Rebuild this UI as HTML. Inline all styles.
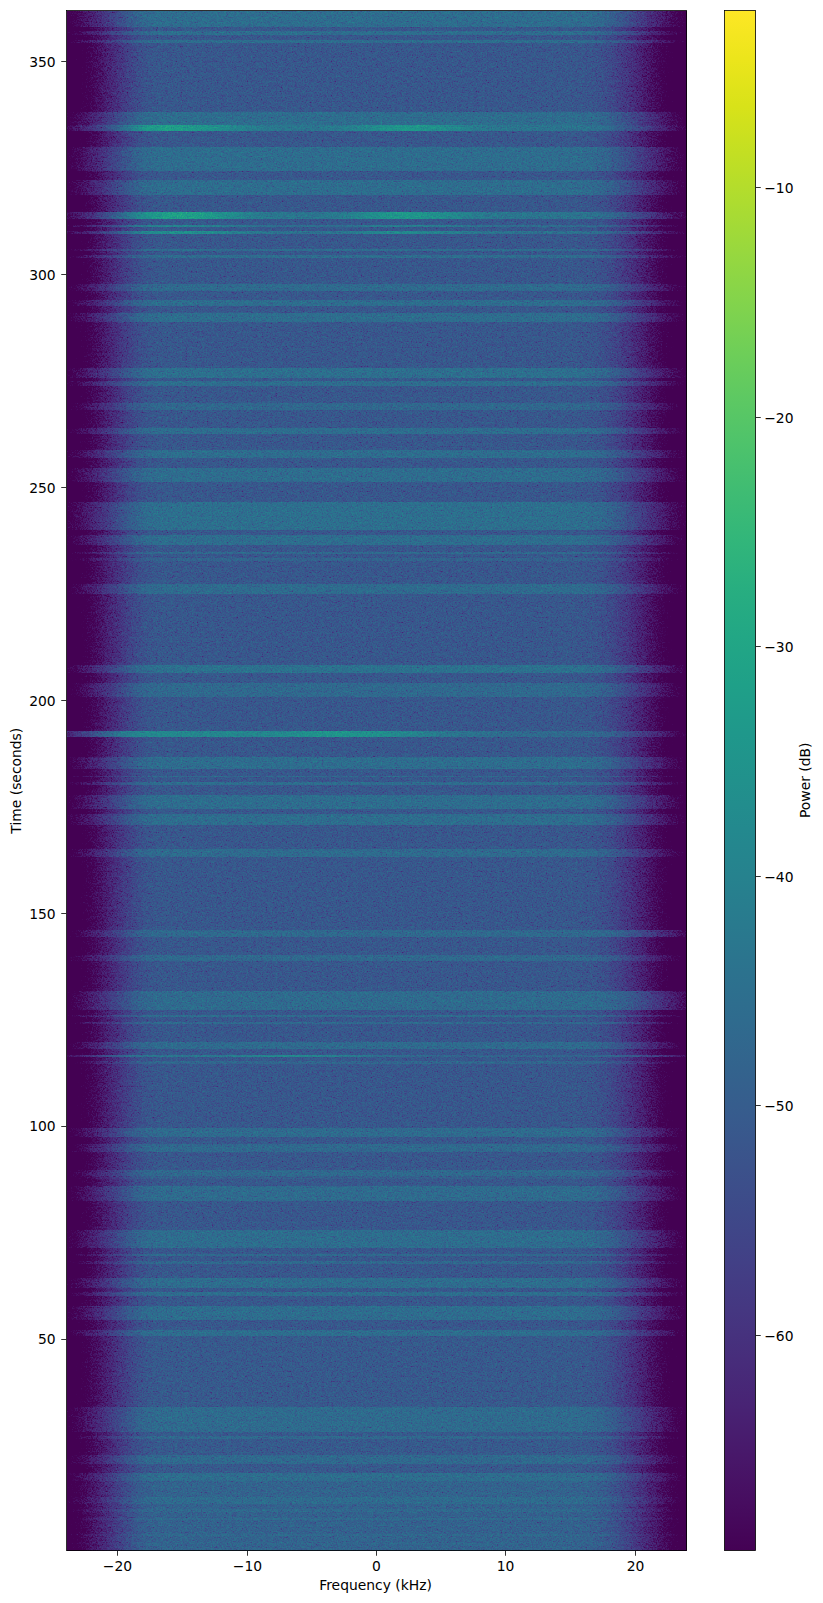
<!DOCTYPE html>
<html><head><meta charset="utf-8"><title>Spectrogram</title>
<style>html,body{margin:0;padding:0;background:#fff}svg{display:block}text{font-family:"DejaVu Sans","Liberation Sans",sans-serif;font-size:13.89px;fill:#000}</style>
</head><body>
<svg width="823" height="1603" viewBox="0 0 823 1603">
<defs>
<linearGradient id="g0" gradientUnits="userSpaceOnUse" x1="66.5" x2="686.5" y1="0" y2="0"><stop offset="0.0000" stop-color="#414141"/><stop offset="0.0065" stop-color="#464646"/><stop offset="0.0129" stop-color="#4b4b4b"/><stop offset="0.0194" stop-color="#505050"/><stop offset="0.0258" stop-color="#555555"/><stop offset="0.0323" stop-color="#5a5a5a"/><stop offset="0.0387" stop-color="#5f5f5f"/><stop offset="0.0452" stop-color="#646464"/><stop offset="0.0516" stop-color="#696969"/><stop offset="0.0581" stop-color="#6e6e6e"/><stop offset="0.0645" stop-color="#747474"/><stop offset="0.0710" stop-color="#797979"/><stop offset="0.0774" stop-color="#7e7e7e"/><stop offset="0.0839" stop-color="#838383"/><stop offset="0.0903" stop-color="#888888"/><stop offset="0.0968" stop-color="#8d8d8d"/><stop offset="0.1032" stop-color="#919191"/><stop offset="0.1097" stop-color="#969696"/><stop offset="0.1161" stop-color="#999999"/><stop offset="0.1226" stop-color="#9c9c9c"/><stop offset="0.1290" stop-color="#9f9f9f"/><stop offset="0.1355" stop-color="#a0a0a0"/><stop offset="0.1419" stop-color="#a1a1a1"/><stop offset="0.1484" stop-color="#a2a2a2"/><stop offset="0.1548" stop-color="#a2a2a2"/><stop offset="0.1613" stop-color="#a2a2a2"/><stop offset="0.1677" stop-color="#a2a2a2"/><stop offset="0.1742" stop-color="#a2a2a2"/><stop offset="0.1806" stop-color="#a2a2a2"/><stop offset="0.1871" stop-color="#a2a2a2"/><stop offset="0.1935" stop-color="#a2a2a2"/><stop offset="0.2000" stop-color="#a2a2a2"/><stop offset="0.2065" stop-color="#a2a2a2"/><stop offset="0.2129" stop-color="#a2a2a2"/><stop offset="0.2194" stop-color="#a2a2a2"/><stop offset="0.2258" stop-color="#a2a2a2"/><stop offset="0.2323" stop-color="#a2a2a2"/><stop offset="0.2387" stop-color="#a2a2a2"/><stop offset="0.2452" stop-color="#a2a2a2"/><stop offset="0.2516" stop-color="#a2a2a2"/><stop offset="0.2581" stop-color="#a2a2a2"/><stop offset="0.2645" stop-color="#a2a2a2"/><stop offset="0.2710" stop-color="#a2a2a2"/><stop offset="0.2774" stop-color="#a2a2a2"/><stop offset="0.2839" stop-color="#a2a2a2"/><stop offset="0.2903" stop-color="#a2a2a2"/><stop offset="0.2968" stop-color="#a2a2a2"/><stop offset="0.3032" stop-color="#a2a2a2"/><stop offset="0.3097" stop-color="#a2a2a2"/><stop offset="0.3161" stop-color="#a2a2a2"/><stop offset="0.3226" stop-color="#a2a2a2"/><stop offset="0.3290" stop-color="#a2a2a2"/><stop offset="0.3355" stop-color="#a2a2a2"/><stop offset="0.3419" stop-color="#a2a2a2"/><stop offset="0.3484" stop-color="#a2a2a2"/><stop offset="0.3548" stop-color="#a2a2a2"/><stop offset="0.3613" stop-color="#a2a2a2"/><stop offset="0.3677" stop-color="#a2a2a2"/><stop offset="0.3742" stop-color="#a2a2a2"/><stop offset="0.3806" stop-color="#a2a2a2"/><stop offset="0.3871" stop-color="#a2a2a2"/><stop offset="0.3935" stop-color="#a2a2a2"/><stop offset="0.4000" stop-color="#a2a2a2"/><stop offset="0.4065" stop-color="#a2a2a2"/><stop offset="0.4129" stop-color="#a2a2a2"/><stop offset="0.4194" stop-color="#a2a2a2"/><stop offset="0.4258" stop-color="#a2a2a2"/><stop offset="0.4323" stop-color="#a2a2a2"/><stop offset="0.4387" stop-color="#a2a2a2"/><stop offset="0.4452" stop-color="#a2a2a2"/><stop offset="0.4516" stop-color="#a2a2a2"/><stop offset="0.4581" stop-color="#a2a2a2"/><stop offset="0.4645" stop-color="#a2a2a2"/><stop offset="0.4710" stop-color="#a2a2a2"/><stop offset="0.4774" stop-color="#a2a2a2"/><stop offset="0.4839" stop-color="#a2a2a2"/><stop offset="0.4903" stop-color="#a2a2a2"/><stop offset="0.4968" stop-color="#a2a2a2"/><stop offset="0.5032" stop-color="#a2a2a2"/><stop offset="0.5097" stop-color="#a2a2a2"/><stop offset="0.5161" stop-color="#a2a2a2"/><stop offset="0.5226" stop-color="#a2a2a2"/><stop offset="0.5290" stop-color="#a2a2a2"/><stop offset="0.5355" stop-color="#a2a2a2"/><stop offset="0.5419" stop-color="#a2a2a2"/><stop offset="0.5484" stop-color="#a2a2a2"/><stop offset="0.5548" stop-color="#a2a2a2"/><stop offset="0.5613" stop-color="#a2a2a2"/><stop offset="0.5677" stop-color="#a2a2a2"/><stop offset="0.5742" stop-color="#a2a2a2"/><stop offset="0.5806" stop-color="#a2a2a2"/><stop offset="0.5871" stop-color="#a2a2a2"/><stop offset="0.5935" stop-color="#a2a2a2"/><stop offset="0.6000" stop-color="#a2a2a2"/><stop offset="0.6065" stop-color="#a2a2a2"/><stop offset="0.6129" stop-color="#a2a2a2"/><stop offset="0.6194" stop-color="#a2a2a2"/><stop offset="0.6258" stop-color="#a2a2a2"/><stop offset="0.6323" stop-color="#a2a2a2"/><stop offset="0.6387" stop-color="#a2a2a2"/><stop offset="0.6452" stop-color="#a2a2a2"/><stop offset="0.6516" stop-color="#a2a2a2"/><stop offset="0.6581" stop-color="#a2a2a2"/><stop offset="0.6645" stop-color="#a2a2a2"/><stop offset="0.6710" stop-color="#a2a2a2"/><stop offset="0.6774" stop-color="#a2a2a2"/><stop offset="0.6839" stop-color="#a2a2a2"/><stop offset="0.6903" stop-color="#a2a2a2"/><stop offset="0.6968" stop-color="#a2a2a2"/><stop offset="0.7032" stop-color="#a2a2a2"/><stop offset="0.7097" stop-color="#a2a2a2"/><stop offset="0.7161" stop-color="#a2a2a2"/><stop offset="0.7226" stop-color="#a2a2a2"/><stop offset="0.7290" stop-color="#a2a2a2"/><stop offset="0.7355" stop-color="#a2a2a2"/><stop offset="0.7419" stop-color="#a2a2a2"/><stop offset="0.7484" stop-color="#a2a2a2"/><stop offset="0.7548" stop-color="#a2a2a2"/><stop offset="0.7613" stop-color="#a2a2a2"/><stop offset="0.7677" stop-color="#a2a2a2"/><stop offset="0.7742" stop-color="#a2a2a2"/><stop offset="0.7806" stop-color="#a2a2a2"/><stop offset="0.7871" stop-color="#a2a2a2"/><stop offset="0.7935" stop-color="#a2a2a2"/><stop offset="0.8000" stop-color="#a2a2a2"/><stop offset="0.8065" stop-color="#a2a2a2"/><stop offset="0.8129" stop-color="#a2a2a2"/><stop offset="0.8194" stop-color="#a2a2a2"/><stop offset="0.8258" stop-color="#a1a1a1"/><stop offset="0.8323" stop-color="#a1a1a1"/><stop offset="0.8387" stop-color="#a0a0a0"/><stop offset="0.8452" stop-color="#a0a0a0"/><stop offset="0.8516" stop-color="#9f9f9f"/><stop offset="0.8581" stop-color="#9d9d9d"/><stop offset="0.8645" stop-color="#9b9b9b"/><stop offset="0.8710" stop-color="#999999"/><stop offset="0.8774" stop-color="#969696"/><stop offset="0.8839" stop-color="#939393"/><stop offset="0.8903" stop-color="#8f8f8f"/><stop offset="0.8968" stop-color="#8b8b8b"/><stop offset="0.9032" stop-color="#878787"/><stop offset="0.9097" stop-color="#838383"/><stop offset="0.9161" stop-color="#7e7e7e"/><stop offset="0.9226" stop-color="#797979"/><stop offset="0.9290" stop-color="#757575"/><stop offset="0.9355" stop-color="#707070"/><stop offset="0.9419" stop-color="#6b6b6b"/><stop offset="0.9484" stop-color="#676767"/><stop offset="0.9548" stop-color="#626262"/><stop offset="0.9613" stop-color="#5d5d5d"/><stop offset="0.9677" stop-color="#585858"/><stop offset="0.9742" stop-color="#535353"/><stop offset="0.9806" stop-color="#4f4f4f"/><stop offset="0.9871" stop-color="#4a4a4a"/><stop offset="0.9935" stop-color="#454545"/><stop offset="1.0000" stop-color="#404040"/></linearGradient>
<linearGradient id="g1" gradientUnits="userSpaceOnUse" x1="66.5" x2="686.5" y1="0" y2="0"><stop offset="0.0000" stop-color="#424242"/><stop offset="0.0065" stop-color="#474747"/><stop offset="0.0129" stop-color="#4d4d4d"/><stop offset="0.0194" stop-color="#525252"/><stop offset="0.0258" stop-color="#575757"/><stop offset="0.0323" stop-color="#5c5c5c"/><stop offset="0.0387" stop-color="#616161"/><stop offset="0.0452" stop-color="#666666"/><stop offset="0.0516" stop-color="#6b6b6b"/><stop offset="0.0581" stop-color="#707070"/><stop offset="0.0645" stop-color="#757575"/><stop offset="0.0710" stop-color="#7a7a7a"/><stop offset="0.0774" stop-color="#808080"/><stop offset="0.0839" stop-color="#858585"/><stop offset="0.0903" stop-color="#8a8a8a"/><stop offset="0.0968" stop-color="#8e8e8e"/><stop offset="0.1032" stop-color="#939393"/><stop offset="0.1097" stop-color="#979797"/><stop offset="0.1161" stop-color="#9b9b9b"/><stop offset="0.1226" stop-color="#9e9e9e"/><stop offset="0.1290" stop-color="#a1a1a1"/><stop offset="0.1355" stop-color="#a2a2a2"/><stop offset="0.1419" stop-color="#a3a3a3"/><stop offset="0.1484" stop-color="#a3a3a3"/><stop offset="0.1548" stop-color="#a4a4a4"/><stop offset="0.1613" stop-color="#a4a4a4"/><stop offset="0.1677" stop-color="#a4a4a4"/><stop offset="0.1742" stop-color="#a4a4a4"/><stop offset="0.1806" stop-color="#a4a4a4"/><stop offset="0.1871" stop-color="#a4a4a4"/><stop offset="0.1935" stop-color="#a4a4a4"/><stop offset="0.2000" stop-color="#a4a4a4"/><stop offset="0.2065" stop-color="#a4a4a4"/><stop offset="0.2129" stop-color="#a4a4a4"/><stop offset="0.2194" stop-color="#a4a4a4"/><stop offset="0.2258" stop-color="#a4a4a4"/><stop offset="0.2323" stop-color="#a4a4a4"/><stop offset="0.2387" stop-color="#a4a4a4"/><stop offset="0.2452" stop-color="#a4a4a4"/><stop offset="0.2516" stop-color="#a4a4a4"/><stop offset="0.2581" stop-color="#a4a4a4"/><stop offset="0.2645" stop-color="#a4a4a4"/><stop offset="0.2710" stop-color="#a4a4a4"/><stop offset="0.2774" stop-color="#a4a4a4"/><stop offset="0.2839" stop-color="#a4a4a4"/><stop offset="0.2903" stop-color="#a4a4a4"/><stop offset="0.2968" stop-color="#a4a4a4"/><stop offset="0.3032" stop-color="#a4a4a4"/><stop offset="0.3097" stop-color="#a4a4a4"/><stop offset="0.3161" stop-color="#a4a4a4"/><stop offset="0.3226" stop-color="#a4a4a4"/><stop offset="0.3290" stop-color="#a4a4a4"/><stop offset="0.3355" stop-color="#a4a4a4"/><stop offset="0.3419" stop-color="#a4a4a4"/><stop offset="0.3484" stop-color="#a4a4a4"/><stop offset="0.3548" stop-color="#a4a4a4"/><stop offset="0.3613" stop-color="#a4a4a4"/><stop offset="0.3677" stop-color="#a4a4a4"/><stop offset="0.3742" stop-color="#a4a4a4"/><stop offset="0.3806" stop-color="#a4a4a4"/><stop offset="0.3871" stop-color="#a4a4a4"/><stop offset="0.3935" stop-color="#a4a4a4"/><stop offset="0.4000" stop-color="#a4a4a4"/><stop offset="0.4065" stop-color="#a4a4a4"/><stop offset="0.4129" stop-color="#a4a4a4"/><stop offset="0.4194" stop-color="#a4a4a4"/><stop offset="0.4258" stop-color="#a4a4a4"/><stop offset="0.4323" stop-color="#a4a4a4"/><stop offset="0.4387" stop-color="#a4a4a4"/><stop offset="0.4452" stop-color="#a4a4a4"/><stop offset="0.4516" stop-color="#a4a4a4"/><stop offset="0.4581" stop-color="#a4a4a4"/><stop offset="0.4645" stop-color="#a4a4a4"/><stop offset="0.4710" stop-color="#a4a4a4"/><stop offset="0.4774" stop-color="#a4a4a4"/><stop offset="0.4839" stop-color="#a4a4a4"/><stop offset="0.4903" stop-color="#a4a4a4"/><stop offset="0.4968" stop-color="#a4a4a4"/><stop offset="0.5032" stop-color="#a4a4a4"/><stop offset="0.5097" stop-color="#a4a4a4"/><stop offset="0.5161" stop-color="#a4a4a4"/><stop offset="0.5226" stop-color="#a4a4a4"/><stop offset="0.5290" stop-color="#a4a4a4"/><stop offset="0.5355" stop-color="#a4a4a4"/><stop offset="0.5419" stop-color="#a4a4a4"/><stop offset="0.5484" stop-color="#a4a4a4"/><stop offset="0.5548" stop-color="#a4a4a4"/><stop offset="0.5613" stop-color="#a4a4a4"/><stop offset="0.5677" stop-color="#a4a4a4"/><stop offset="0.5742" stop-color="#a4a4a4"/><stop offset="0.5806" stop-color="#a4a4a4"/><stop offset="0.5871" stop-color="#a4a4a4"/><stop offset="0.5935" stop-color="#a4a4a4"/><stop offset="0.6000" stop-color="#a4a4a4"/><stop offset="0.6065" stop-color="#a4a4a4"/><stop offset="0.6129" stop-color="#a4a4a4"/><stop offset="0.6194" stop-color="#a4a4a4"/><stop offset="0.6258" stop-color="#a4a4a4"/><stop offset="0.6323" stop-color="#a4a4a4"/><stop offset="0.6387" stop-color="#a4a4a4"/><stop offset="0.6452" stop-color="#a4a4a4"/><stop offset="0.6516" stop-color="#a4a4a4"/><stop offset="0.6581" stop-color="#a4a4a4"/><stop offset="0.6645" stop-color="#a4a4a4"/><stop offset="0.6710" stop-color="#a4a4a4"/><stop offset="0.6774" stop-color="#a4a4a4"/><stop offset="0.6839" stop-color="#a4a4a4"/><stop offset="0.6903" stop-color="#a4a4a4"/><stop offset="0.6968" stop-color="#a4a4a4"/><stop offset="0.7032" stop-color="#a4a4a4"/><stop offset="0.7097" stop-color="#a4a4a4"/><stop offset="0.7161" stop-color="#a4a4a4"/><stop offset="0.7226" stop-color="#a4a4a4"/><stop offset="0.7290" stop-color="#a4a4a4"/><stop offset="0.7355" stop-color="#a4a4a4"/><stop offset="0.7419" stop-color="#a4a4a4"/><stop offset="0.7484" stop-color="#a4a4a4"/><stop offset="0.7548" stop-color="#a4a4a4"/><stop offset="0.7613" stop-color="#a4a4a4"/><stop offset="0.7677" stop-color="#a4a4a4"/><stop offset="0.7742" stop-color="#a4a4a4"/><stop offset="0.7806" stop-color="#a4a4a4"/><stop offset="0.7871" stop-color="#a4a4a4"/><stop offset="0.7935" stop-color="#a4a4a4"/><stop offset="0.8000" stop-color="#a4a4a4"/><stop offset="0.8065" stop-color="#a4a4a4"/><stop offset="0.8129" stop-color="#a4a4a4"/><stop offset="0.8194" stop-color="#a3a3a3"/><stop offset="0.8258" stop-color="#a3a3a3"/><stop offset="0.8323" stop-color="#a3a3a3"/><stop offset="0.8387" stop-color="#a2a2a2"/><stop offset="0.8452" stop-color="#a1a1a1"/><stop offset="0.8516" stop-color="#a0a0a0"/><stop offset="0.8581" stop-color="#9f9f9f"/><stop offset="0.8645" stop-color="#9d9d9d"/><stop offset="0.8710" stop-color="#9b9b9b"/><stop offset="0.8774" stop-color="#989898"/><stop offset="0.8839" stop-color="#959595"/><stop offset="0.8903" stop-color="#919191"/><stop offset="0.8968" stop-color="#8d8d8d"/><stop offset="0.9032" stop-color="#898989"/><stop offset="0.9097" stop-color="#848484"/><stop offset="0.9161" stop-color="#808080"/><stop offset="0.9226" stop-color="#7b7b7b"/><stop offset="0.9290" stop-color="#777777"/><stop offset="0.9355" stop-color="#727272"/><stop offset="0.9419" stop-color="#6d6d6d"/><stop offset="0.9484" stop-color="#686868"/><stop offset="0.9548" stop-color="#646464"/><stop offset="0.9613" stop-color="#5f5f5f"/><stop offset="0.9677" stop-color="#5a5a5a"/><stop offset="0.9742" stop-color="#555555"/><stop offset="0.9806" stop-color="#505050"/><stop offset="0.9871" stop-color="#4c4c4c"/><stop offset="0.9935" stop-color="#474747"/><stop offset="1.0000" stop-color="#424242"/></linearGradient>
<linearGradient id="g2" gradientUnits="userSpaceOnUse" x1="66.5" x2="686.5" y1="0" y2="0"><stop offset="0.0000" stop-color="#555555"/><stop offset="0.0065" stop-color="#5a5a5a"/><stop offset="0.0129" stop-color="#5f5f5f"/><stop offset="0.0194" stop-color="#646464"/><stop offset="0.0258" stop-color="#696969"/><stop offset="0.0323" stop-color="#6e6e6e"/><stop offset="0.0387" stop-color="#737373"/><stop offset="0.0452" stop-color="#787878"/><stop offset="0.0516" stop-color="#7d7d7d"/><stop offset="0.0581" stop-color="#828282"/><stop offset="0.0645" stop-color="#888888"/><stop offset="0.0710" stop-color="#8d8d8d"/><stop offset="0.0774" stop-color="#929292"/><stop offset="0.0839" stop-color="#979797"/><stop offset="0.0903" stop-color="#9c9c9c"/><stop offset="0.0968" stop-color="#a1a1a1"/><stop offset="0.1032" stop-color="#a5a5a5"/><stop offset="0.1097" stop-color="#aaaaaa"/><stop offset="0.1161" stop-color="#adadad"/><stop offset="0.1226" stop-color="#b1b1b1"/><stop offset="0.1290" stop-color="#b3b3b3"/><stop offset="0.1355" stop-color="#b4b4b4"/><stop offset="0.1419" stop-color="#b5b5b5"/><stop offset="0.1484" stop-color="#b6b6b6"/><stop offset="0.1548" stop-color="#b6b6b6"/><stop offset="0.1613" stop-color="#b6b6b6"/><stop offset="0.1677" stop-color="#b6b6b6"/><stop offset="0.1742" stop-color="#b6b6b6"/><stop offset="0.1806" stop-color="#b6b6b6"/><stop offset="0.1871" stop-color="#b6b6b6"/><stop offset="0.1935" stop-color="#b6b6b6"/><stop offset="0.2000" stop-color="#b6b6b6"/><stop offset="0.2065" stop-color="#b6b6b6"/><stop offset="0.2129" stop-color="#b6b6b6"/><stop offset="0.2194" stop-color="#b6b6b6"/><stop offset="0.2258" stop-color="#b6b6b6"/><stop offset="0.2323" stop-color="#b6b6b6"/><stop offset="0.2387" stop-color="#b6b6b6"/><stop offset="0.2452" stop-color="#b6b6b6"/><stop offset="0.2516" stop-color="#b6b6b6"/><stop offset="0.2581" stop-color="#b6b6b6"/><stop offset="0.2645" stop-color="#b6b6b6"/><stop offset="0.2710" stop-color="#b6b6b6"/><stop offset="0.2774" stop-color="#b6b6b6"/><stop offset="0.2839" stop-color="#b6b6b6"/><stop offset="0.2903" stop-color="#b6b6b6"/><stop offset="0.2968" stop-color="#b6b6b6"/><stop offset="0.3032" stop-color="#b6b6b6"/><stop offset="0.3097" stop-color="#b6b6b6"/><stop offset="0.3161" stop-color="#b6b6b6"/><stop offset="0.3226" stop-color="#b6b6b6"/><stop offset="0.3290" stop-color="#b6b6b6"/><stop offset="0.3355" stop-color="#b6b6b6"/><stop offset="0.3419" stop-color="#b6b6b6"/><stop offset="0.3484" stop-color="#b6b6b6"/><stop offset="0.3548" stop-color="#b6b6b6"/><stop offset="0.3613" stop-color="#b6b6b6"/><stop offset="0.3677" stop-color="#b6b6b6"/><stop offset="0.3742" stop-color="#b6b6b6"/><stop offset="0.3806" stop-color="#b6b6b6"/><stop offset="0.3871" stop-color="#b6b6b6"/><stop offset="0.3935" stop-color="#b6b6b6"/><stop offset="0.4000" stop-color="#b6b6b6"/><stop offset="0.4065" stop-color="#b6b6b6"/><stop offset="0.4129" stop-color="#b6b6b6"/><stop offset="0.4194" stop-color="#b6b6b6"/><stop offset="0.4258" stop-color="#b6b6b6"/><stop offset="0.4323" stop-color="#b6b6b6"/><stop offset="0.4387" stop-color="#b6b6b6"/><stop offset="0.4452" stop-color="#b6b6b6"/><stop offset="0.4516" stop-color="#b6b6b6"/><stop offset="0.4581" stop-color="#b6b6b6"/><stop offset="0.4645" stop-color="#b6b6b6"/><stop offset="0.4710" stop-color="#b6b6b6"/><stop offset="0.4774" stop-color="#b6b6b6"/><stop offset="0.4839" stop-color="#b6b6b6"/><stop offset="0.4903" stop-color="#b6b6b6"/><stop offset="0.4968" stop-color="#b6b6b6"/><stop offset="0.5032" stop-color="#b6b6b6"/><stop offset="0.5097" stop-color="#b6b6b6"/><stop offset="0.5161" stop-color="#b6b6b6"/><stop offset="0.5226" stop-color="#b6b6b6"/><stop offset="0.5290" stop-color="#b6b6b6"/><stop offset="0.5355" stop-color="#b6b6b6"/><stop offset="0.5419" stop-color="#b6b6b6"/><stop offset="0.5484" stop-color="#b6b6b6"/><stop offset="0.5548" stop-color="#b6b6b6"/><stop offset="0.5613" stop-color="#b6b6b6"/><stop offset="0.5677" stop-color="#b6b6b6"/><stop offset="0.5742" stop-color="#b6b6b6"/><stop offset="0.5806" stop-color="#b6b6b6"/><stop offset="0.5871" stop-color="#b6b6b6"/><stop offset="0.5935" stop-color="#b6b6b6"/><stop offset="0.6000" stop-color="#b6b6b6"/><stop offset="0.6065" stop-color="#b6b6b6"/><stop offset="0.6129" stop-color="#b6b6b6"/><stop offset="0.6194" stop-color="#b6b6b6"/><stop offset="0.6258" stop-color="#b6b6b6"/><stop offset="0.6323" stop-color="#b6b6b6"/><stop offset="0.6387" stop-color="#b6b6b6"/><stop offset="0.6452" stop-color="#b6b6b6"/><stop offset="0.6516" stop-color="#b6b6b6"/><stop offset="0.6581" stop-color="#b6b6b6"/><stop offset="0.6645" stop-color="#b6b6b6"/><stop offset="0.6710" stop-color="#b6b6b6"/><stop offset="0.6774" stop-color="#b6b6b6"/><stop offset="0.6839" stop-color="#b6b6b6"/><stop offset="0.6903" stop-color="#b6b6b6"/><stop offset="0.6968" stop-color="#b6b6b6"/><stop offset="0.7032" stop-color="#b6b6b6"/><stop offset="0.7097" stop-color="#b6b6b6"/><stop offset="0.7161" stop-color="#b6b6b6"/><stop offset="0.7226" stop-color="#b6b6b6"/><stop offset="0.7290" stop-color="#b6b6b6"/><stop offset="0.7355" stop-color="#b6b6b6"/><stop offset="0.7419" stop-color="#b6b6b6"/><stop offset="0.7484" stop-color="#b6b6b6"/><stop offset="0.7548" stop-color="#b6b6b6"/><stop offset="0.7613" stop-color="#b6b6b6"/><stop offset="0.7677" stop-color="#b6b6b6"/><stop offset="0.7742" stop-color="#b6b6b6"/><stop offset="0.7806" stop-color="#b6b6b6"/><stop offset="0.7871" stop-color="#b6b6b6"/><stop offset="0.7935" stop-color="#b6b6b6"/><stop offset="0.8000" stop-color="#b6b6b6"/><stop offset="0.8065" stop-color="#b6b6b6"/><stop offset="0.8129" stop-color="#b6b6b6"/><stop offset="0.8194" stop-color="#b6b6b6"/><stop offset="0.8258" stop-color="#b5b5b5"/><stop offset="0.8323" stop-color="#b5b5b5"/><stop offset="0.8387" stop-color="#b4b4b4"/><stop offset="0.8452" stop-color="#b4b4b4"/><stop offset="0.8516" stop-color="#b3b3b3"/><stop offset="0.8581" stop-color="#b1b1b1"/><stop offset="0.8645" stop-color="#afafaf"/><stop offset="0.8710" stop-color="#adadad"/><stop offset="0.8774" stop-color="#aaaaaa"/><stop offset="0.8839" stop-color="#a7a7a7"/><stop offset="0.8903" stop-color="#a3a3a3"/><stop offset="0.8968" stop-color="#9f9f9f"/><stop offset="0.9032" stop-color="#9b9b9b"/><stop offset="0.9097" stop-color="#979797"/><stop offset="0.9161" stop-color="#929292"/><stop offset="0.9226" stop-color="#8d8d8d"/><stop offset="0.9290" stop-color="#898989"/><stop offset="0.9355" stop-color="#848484"/><stop offset="0.9419" stop-color="#7f7f7f"/><stop offset="0.9484" stop-color="#7b7b7b"/><stop offset="0.9548" stop-color="#767676"/><stop offset="0.9613" stop-color="#717171"/><stop offset="0.9677" stop-color="#6c6c6c"/><stop offset="0.9742" stop-color="#676767"/><stop offset="0.9806" stop-color="#636363"/><stop offset="0.9871" stop-color="#5e5e5e"/><stop offset="0.9935" stop-color="#595959"/><stop offset="1.0000" stop-color="#545454"/></linearGradient>
<linearGradient id="g3" gradientUnits="userSpaceOnUse" x1="66.5" x2="686.5" y1="0" y2="0"><stop offset="0.0000" stop-color="#606060"/><stop offset="0.0065" stop-color="#666666"/><stop offset="0.0129" stop-color="#6b6b6b"/><stop offset="0.0194" stop-color="#717171"/><stop offset="0.0258" stop-color="#767676"/><stop offset="0.0323" stop-color="#7b7b7b"/><stop offset="0.0387" stop-color="#818181"/><stop offset="0.0452" stop-color="#878787"/><stop offset="0.0516" stop-color="#8d8d8d"/><stop offset="0.0581" stop-color="#939393"/><stop offset="0.0645" stop-color="#9a9a9a"/><stop offset="0.0710" stop-color="#a1a1a1"/><stop offset="0.0774" stop-color="#a8a8a8"/><stop offset="0.0839" stop-color="#afafaf"/><stop offset="0.0903" stop-color="#b7b7b7"/><stop offset="0.0968" stop-color="#bfbfbf"/><stop offset="0.1032" stop-color="#c7c7c7"/><stop offset="0.1097" stop-color="#cecece"/><stop offset="0.1161" stop-color="#d5d5d5"/><stop offset="0.1226" stop-color="#dbdbdb"/><stop offset="0.1290" stop-color="#dfdfdf"/><stop offset="0.1355" stop-color="#e3e3e3"/><stop offset="0.1419" stop-color="#e5e5e5"/><stop offset="0.1484" stop-color="#e7e7e7"/><stop offset="0.1548" stop-color="#e8e8e8"/><stop offset="0.1613" stop-color="#e8e8e8"/><stop offset="0.1677" stop-color="#e8e8e8"/><stop offset="0.1742" stop-color="#e7e7e7"/><stop offset="0.1806" stop-color="#e6e6e6"/><stop offset="0.1871" stop-color="#e5e5e5"/><stop offset="0.1935" stop-color="#e4e4e4"/><stop offset="0.2000" stop-color="#e3e3e3"/><stop offset="0.2065" stop-color="#e1e1e1"/><stop offset="0.2129" stop-color="#e0e0e0"/><stop offset="0.2194" stop-color="#dedede"/><stop offset="0.2258" stop-color="#dddddd"/><stop offset="0.2323" stop-color="#dbdbdb"/><stop offset="0.2387" stop-color="#d9d9d9"/><stop offset="0.2452" stop-color="#d8d8d8"/><stop offset="0.2516" stop-color="#d6d6d6"/><stop offset="0.2581" stop-color="#d4d4d4"/><stop offset="0.2645" stop-color="#d2d2d2"/><stop offset="0.2710" stop-color="#d0d0d0"/><stop offset="0.2774" stop-color="#cecece"/><stop offset="0.2839" stop-color="#cbcbcb"/><stop offset="0.2903" stop-color="#c9c9c9"/><stop offset="0.2968" stop-color="#c7c7c7"/><stop offset="0.3032" stop-color="#c5c5c5"/><stop offset="0.3097" stop-color="#c4c4c4"/><stop offset="0.3161" stop-color="#c2c2c2"/><stop offset="0.3226" stop-color="#c1c1c1"/><stop offset="0.3290" stop-color="#c1c1c1"/><stop offset="0.3355" stop-color="#c0c0c0"/><stop offset="0.3419" stop-color="#bfbfbf"/><stop offset="0.3484" stop-color="#bfbfbf"/><stop offset="0.3548" stop-color="#bfbfbf"/><stop offset="0.3613" stop-color="#bfbfbf"/><stop offset="0.3677" stop-color="#bebebe"/><stop offset="0.3742" stop-color="#bebebe"/><stop offset="0.3806" stop-color="#bebebe"/><stop offset="0.3871" stop-color="#bebebe"/><stop offset="0.3935" stop-color="#bebebe"/><stop offset="0.4000" stop-color="#bebebe"/><stop offset="0.4065" stop-color="#bfbfbf"/><stop offset="0.4129" stop-color="#bfbfbf"/><stop offset="0.4194" stop-color="#c0c0c0"/><stop offset="0.4258" stop-color="#c0c0c0"/><stop offset="0.4323" stop-color="#c1c1c1"/><stop offset="0.4387" stop-color="#c2c2c2"/><stop offset="0.4452" stop-color="#c4c4c4"/><stop offset="0.4516" stop-color="#c5c5c5"/><stop offset="0.4581" stop-color="#c7c7c7"/><stop offset="0.4645" stop-color="#cacaca"/><stop offset="0.4710" stop-color="#cccccc"/><stop offset="0.4774" stop-color="#cecece"/><stop offset="0.4839" stop-color="#d1d1d1"/><stop offset="0.4903" stop-color="#d3d3d3"/><stop offset="0.4968" stop-color="#d5d5d5"/><stop offset="0.5032" stop-color="#d7d7d7"/><stop offset="0.5097" stop-color="#d9d9d9"/><stop offset="0.5161" stop-color="#dadada"/><stop offset="0.5226" stop-color="#dcdcdc"/><stop offset="0.5290" stop-color="#dddddd"/><stop offset="0.5355" stop-color="#dedede"/><stop offset="0.5419" stop-color="#dfdfdf"/><stop offset="0.5484" stop-color="#dfdfdf"/><stop offset="0.5548" stop-color="#dfdfdf"/><stop offset="0.5613" stop-color="#dfdfdf"/><stop offset="0.5677" stop-color="#dfdfdf"/><stop offset="0.5742" stop-color="#dedede"/><stop offset="0.5806" stop-color="#dddddd"/><stop offset="0.5871" stop-color="#dcdcdc"/><stop offset="0.5935" stop-color="#dadada"/><stop offset="0.6000" stop-color="#d9d9d9"/><stop offset="0.6065" stop-color="#d7d7d7"/><stop offset="0.6129" stop-color="#d5d5d5"/><stop offset="0.6194" stop-color="#d3d3d3"/><stop offset="0.6258" stop-color="#d1d1d1"/><stop offset="0.6323" stop-color="#cfcfcf"/><stop offset="0.6387" stop-color="#cdcdcd"/><stop offset="0.6452" stop-color="#cacaca"/><stop offset="0.6516" stop-color="#c8c8c8"/><stop offset="0.6581" stop-color="#c6c6c6"/><stop offset="0.6645" stop-color="#c4c4c4"/><stop offset="0.6710" stop-color="#c3c3c3"/><stop offset="0.6774" stop-color="#c1c1c1"/><stop offset="0.6839" stop-color="#c0c0c0"/><stop offset="0.6903" stop-color="#c0c0c0"/><stop offset="0.6968" stop-color="#bfbfbf"/><stop offset="0.7032" stop-color="#bfbfbf"/><stop offset="0.7097" stop-color="#bebebe"/><stop offset="0.7161" stop-color="#bebebe"/><stop offset="0.7226" stop-color="#bebebe"/><stop offset="0.7290" stop-color="#bebebe"/><stop offset="0.7355" stop-color="#bebebe"/><stop offset="0.7419" stop-color="#bebebe"/><stop offset="0.7484" stop-color="#bebebe"/><stop offset="0.7548" stop-color="#bebebe"/><stop offset="0.7613" stop-color="#bdbdbd"/><stop offset="0.7677" stop-color="#bdbdbd"/><stop offset="0.7742" stop-color="#bdbdbd"/><stop offset="0.7806" stop-color="#bdbdbd"/><stop offset="0.7871" stop-color="#bdbdbd"/><stop offset="0.7935" stop-color="#bdbdbd"/><stop offset="0.8000" stop-color="#bdbdbd"/><stop offset="0.8065" stop-color="#bdbdbd"/><stop offset="0.8129" stop-color="#bdbdbd"/><stop offset="0.8194" stop-color="#bdbdbd"/><stop offset="0.8258" stop-color="#bdbdbd"/><stop offset="0.8323" stop-color="#bcbcbc"/><stop offset="0.8387" stop-color="#bcbcbc"/><stop offset="0.8452" stop-color="#bbbbbb"/><stop offset="0.8516" stop-color="#bababa"/><stop offset="0.8581" stop-color="#b8b8b8"/><stop offset="0.8645" stop-color="#b7b7b7"/><stop offset="0.8710" stop-color="#b4b4b4"/><stop offset="0.8774" stop-color="#b1b1b1"/><stop offset="0.8839" stop-color="#aeaeae"/><stop offset="0.8903" stop-color="#aaaaaa"/><stop offset="0.8968" stop-color="#a6a6a6"/><stop offset="0.9032" stop-color="#a2a2a2"/><stop offset="0.9097" stop-color="#9e9e9e"/><stop offset="0.9161" stop-color="#999999"/><stop offset="0.9226" stop-color="#959595"/><stop offset="0.9290" stop-color="#909090"/><stop offset="0.9355" stop-color="#8b8b8b"/><stop offset="0.9419" stop-color="#878787"/><stop offset="0.9484" stop-color="#828282"/><stop offset="0.9548" stop-color="#7d7d7d"/><stop offset="0.9613" stop-color="#787878"/><stop offset="0.9677" stop-color="#737373"/><stop offset="0.9742" stop-color="#6f6f6f"/><stop offset="0.9806" stop-color="#6a6a6a"/><stop offset="0.9871" stop-color="#656565"/><stop offset="0.9935" stop-color="#606060"/><stop offset="1.0000" stop-color="#5b5b5b"/></linearGradient>
<linearGradient id="g4" gradientUnits="userSpaceOnUse" x1="66.5" x2="686.5" y1="0" y2="0"><stop offset="0.0000" stop-color="#606060"/><stop offset="0.0065" stop-color="#666666"/><stop offset="0.0129" stop-color="#6b6b6b"/><stop offset="0.0194" stop-color="#707070"/><stop offset="0.0258" stop-color="#767676"/><stop offset="0.0323" stop-color="#7b7b7b"/><stop offset="0.0387" stop-color="#818181"/><stop offset="0.0452" stop-color="#868686"/><stop offset="0.0516" stop-color="#8c8c8c"/><stop offset="0.0581" stop-color="#929292"/><stop offset="0.0645" stop-color="#989898"/><stop offset="0.0710" stop-color="#9f9f9f"/><stop offset="0.0774" stop-color="#a6a6a6"/><stop offset="0.0839" stop-color="#adadad"/><stop offset="0.0903" stop-color="#b4b4b4"/><stop offset="0.0968" stop-color="#bbbbbb"/><stop offset="0.1032" stop-color="#c3c3c3"/><stop offset="0.1097" stop-color="#cacaca"/><stop offset="0.1161" stop-color="#d0d0d0"/><stop offset="0.1226" stop-color="#d6d6d6"/><stop offset="0.1290" stop-color="#dbdbdb"/><stop offset="0.1355" stop-color="#dedede"/><stop offset="0.1419" stop-color="#e1e1e1"/><stop offset="0.1484" stop-color="#e4e4e4"/><stop offset="0.1548" stop-color="#e6e6e6"/><stop offset="0.1613" stop-color="#e8e8e8"/><stop offset="0.1677" stop-color="#e9e9e9"/><stop offset="0.1742" stop-color="#eaeaea"/><stop offset="0.1806" stop-color="#eaeaea"/><stop offset="0.1871" stop-color="#eaeaea"/><stop offset="0.1935" stop-color="#eaeaea"/><stop offset="0.2000" stop-color="#e9e9e9"/><stop offset="0.2065" stop-color="#e9e9e9"/><stop offset="0.2129" stop-color="#e7e7e7"/><stop offset="0.2194" stop-color="#e6e6e6"/><stop offset="0.2258" stop-color="#e4e4e4"/><stop offset="0.2323" stop-color="#e2e2e2"/><stop offset="0.2387" stop-color="#e0e0e0"/><stop offset="0.2452" stop-color="#dddddd"/><stop offset="0.2516" stop-color="#dbdbdb"/><stop offset="0.2581" stop-color="#d8d8d8"/><stop offset="0.2645" stop-color="#d6d6d6"/><stop offset="0.2710" stop-color="#d3d3d3"/><stop offset="0.2774" stop-color="#d0d0d0"/><stop offset="0.2839" stop-color="#cdcdcd"/><stop offset="0.2903" stop-color="#cacaca"/><stop offset="0.2968" stop-color="#c8c8c8"/><stop offset="0.3032" stop-color="#c6c6c6"/><stop offset="0.3097" stop-color="#c4c4c4"/><stop offset="0.3161" stop-color="#c3c3c3"/><stop offset="0.3226" stop-color="#c2c2c2"/><stop offset="0.3290" stop-color="#c1c1c1"/><stop offset="0.3355" stop-color="#c0c0c0"/><stop offset="0.3419" stop-color="#c0c0c0"/><stop offset="0.3484" stop-color="#bfbfbf"/><stop offset="0.3548" stop-color="#bfbfbf"/><stop offset="0.3613" stop-color="#bfbfbf"/><stop offset="0.3677" stop-color="#bebebe"/><stop offset="0.3742" stop-color="#bebebe"/><stop offset="0.3806" stop-color="#bebebe"/><stop offset="0.3871" stop-color="#bebebe"/><stop offset="0.3935" stop-color="#bebebe"/><stop offset="0.4000" stop-color="#bebebe"/><stop offset="0.4065" stop-color="#bfbfbf"/><stop offset="0.4129" stop-color="#bfbfbf"/><stop offset="0.4194" stop-color="#c0c0c0"/><stop offset="0.4258" stop-color="#c1c1c1"/><stop offset="0.4323" stop-color="#c2c2c2"/><stop offset="0.4387" stop-color="#c3c3c3"/><stop offset="0.4452" stop-color="#c4c4c4"/><stop offset="0.4516" stop-color="#c6c6c6"/><stop offset="0.4581" stop-color="#c9c9c9"/><stop offset="0.4645" stop-color="#cbcbcb"/><stop offset="0.4710" stop-color="#cecece"/><stop offset="0.4774" stop-color="#d0d0d0"/><stop offset="0.4839" stop-color="#d3d3d3"/><stop offset="0.4903" stop-color="#d6d6d6"/><stop offset="0.4968" stop-color="#d8d8d8"/><stop offset="0.5032" stop-color="#dadada"/><stop offset="0.5097" stop-color="#dcdcdc"/><stop offset="0.5161" stop-color="#dddddd"/><stop offset="0.5226" stop-color="#dfdfdf"/><stop offset="0.5290" stop-color="#e0e0e0"/><stop offset="0.5355" stop-color="#e1e1e1"/><stop offset="0.5419" stop-color="#e1e1e1"/><stop offset="0.5484" stop-color="#e1e1e1"/><stop offset="0.5548" stop-color="#e1e1e1"/><stop offset="0.5613" stop-color="#e0e0e0"/><stop offset="0.5677" stop-color="#dfdfdf"/><stop offset="0.5742" stop-color="#dedede"/><stop offset="0.5806" stop-color="#dddddd"/><stop offset="0.5871" stop-color="#dbdbdb"/><stop offset="0.5935" stop-color="#dadada"/><stop offset="0.6000" stop-color="#d8d8d8"/><stop offset="0.6065" stop-color="#d7d7d7"/><stop offset="0.6129" stop-color="#d5d5d5"/><stop offset="0.6194" stop-color="#d3d3d3"/><stop offset="0.6258" stop-color="#d1d1d1"/><stop offset="0.6323" stop-color="#cfcfcf"/><stop offset="0.6387" stop-color="#cdcdcd"/><stop offset="0.6452" stop-color="#cacaca"/><stop offset="0.6516" stop-color="#c8c8c8"/><stop offset="0.6581" stop-color="#c6c6c6"/><stop offset="0.6645" stop-color="#c4c4c4"/><stop offset="0.6710" stop-color="#c3c3c3"/><stop offset="0.6774" stop-color="#c1c1c1"/><stop offset="0.6839" stop-color="#c0c0c0"/><stop offset="0.6903" stop-color="#c0c0c0"/><stop offset="0.6968" stop-color="#bfbfbf"/><stop offset="0.7032" stop-color="#bfbfbf"/><stop offset="0.7097" stop-color="#bebebe"/><stop offset="0.7161" stop-color="#bebebe"/><stop offset="0.7226" stop-color="#bebebe"/><stop offset="0.7290" stop-color="#bebebe"/><stop offset="0.7355" stop-color="#bebebe"/><stop offset="0.7419" stop-color="#bebebe"/><stop offset="0.7484" stop-color="#bebebe"/><stop offset="0.7548" stop-color="#bebebe"/><stop offset="0.7613" stop-color="#bdbdbd"/><stop offset="0.7677" stop-color="#bdbdbd"/><stop offset="0.7742" stop-color="#bdbdbd"/><stop offset="0.7806" stop-color="#bdbdbd"/><stop offset="0.7871" stop-color="#bdbdbd"/><stop offset="0.7935" stop-color="#bdbdbd"/><stop offset="0.8000" stop-color="#bdbdbd"/><stop offset="0.8065" stop-color="#bdbdbd"/><stop offset="0.8129" stop-color="#bdbdbd"/><stop offset="0.8194" stop-color="#bdbdbd"/><stop offset="0.8258" stop-color="#bdbdbd"/><stop offset="0.8323" stop-color="#bcbcbc"/><stop offset="0.8387" stop-color="#bcbcbc"/><stop offset="0.8452" stop-color="#bbbbbb"/><stop offset="0.8516" stop-color="#bababa"/><stop offset="0.8581" stop-color="#b8b8b8"/><stop offset="0.8645" stop-color="#b7b7b7"/><stop offset="0.8710" stop-color="#b4b4b4"/><stop offset="0.8774" stop-color="#b1b1b1"/><stop offset="0.8839" stop-color="#aeaeae"/><stop offset="0.8903" stop-color="#aaaaaa"/><stop offset="0.8968" stop-color="#a6a6a6"/><stop offset="0.9032" stop-color="#a2a2a2"/><stop offset="0.9097" stop-color="#9e9e9e"/><stop offset="0.9161" stop-color="#999999"/><stop offset="0.9226" stop-color="#959595"/><stop offset="0.9290" stop-color="#909090"/><stop offset="0.9355" stop-color="#8b8b8b"/><stop offset="0.9419" stop-color="#878787"/><stop offset="0.9484" stop-color="#828282"/><stop offset="0.9548" stop-color="#7d7d7d"/><stop offset="0.9613" stop-color="#787878"/><stop offset="0.9677" stop-color="#737373"/><stop offset="0.9742" stop-color="#6f6f6f"/><stop offset="0.9806" stop-color="#6a6a6a"/><stop offset="0.9871" stop-color="#656565"/><stop offset="0.9935" stop-color="#606060"/><stop offset="1.0000" stop-color="#5b5b5b"/></linearGradient>
<linearGradient id="g5" gradientUnits="userSpaceOnUse" x1="66.5" x2="686.5" y1="0" y2="0"><stop offset="0.0000" stop-color="#595959"/><stop offset="0.0065" stop-color="#5e5e5e"/><stop offset="0.0129" stop-color="#646464"/><stop offset="0.0194" stop-color="#696969"/><stop offset="0.0258" stop-color="#6e6e6e"/><stop offset="0.0323" stop-color="#737373"/><stop offset="0.0387" stop-color="#797979"/><stop offset="0.0452" stop-color="#7e7e7e"/><stop offset="0.0516" stop-color="#848484"/><stop offset="0.0581" stop-color="#898989"/><stop offset="0.0645" stop-color="#8f8f8f"/><stop offset="0.0710" stop-color="#959595"/><stop offset="0.0774" stop-color="#9b9b9b"/><stop offset="0.0839" stop-color="#a1a1a1"/><stop offset="0.0903" stop-color="#a7a7a7"/><stop offset="0.0968" stop-color="#adadad"/><stop offset="0.1032" stop-color="#b3b3b3"/><stop offset="0.1097" stop-color="#b9b9b9"/><stop offset="0.1161" stop-color="#bebebe"/><stop offset="0.1226" stop-color="#c2c2c2"/><stop offset="0.1290" stop-color="#c6c6c6"/><stop offset="0.1355" stop-color="#c8c8c8"/><stop offset="0.1419" stop-color="#cacaca"/><stop offset="0.1484" stop-color="#cbcbcb"/><stop offset="0.1548" stop-color="#cccccc"/><stop offset="0.1613" stop-color="#cdcdcd"/><stop offset="0.1677" stop-color="#cdcdcd"/><stop offset="0.1742" stop-color="#cdcdcd"/><stop offset="0.1806" stop-color="#cdcdcd"/><stop offset="0.1871" stop-color="#cdcdcd"/><stop offset="0.1935" stop-color="#cdcdcd"/><stop offset="0.2000" stop-color="#cccccc"/><stop offset="0.2065" stop-color="#cccccc"/><stop offset="0.2129" stop-color="#cbcbcb"/><stop offset="0.2194" stop-color="#cacaca"/><stop offset="0.2258" stop-color="#c9c9c9"/><stop offset="0.2323" stop-color="#c8c8c8"/><stop offset="0.2387" stop-color="#c7c7c7"/><stop offset="0.2452" stop-color="#c6c6c6"/><stop offset="0.2516" stop-color="#c5c5c5"/><stop offset="0.2581" stop-color="#c4c4c4"/><stop offset="0.2645" stop-color="#c3c3c3"/><stop offset="0.2710" stop-color="#c1c1c1"/><stop offset="0.2774" stop-color="#c0c0c0"/><stop offset="0.2839" stop-color="#bfbfbf"/><stop offset="0.2903" stop-color="#bdbdbd"/><stop offset="0.2968" stop-color="#bcbcbc"/><stop offset="0.3032" stop-color="#bbbbbb"/><stop offset="0.3097" stop-color="#bababa"/><stop offset="0.3161" stop-color="#bababa"/><stop offset="0.3226" stop-color="#b9b9b9"/><stop offset="0.3290" stop-color="#b8b8b8"/><stop offset="0.3355" stop-color="#b8b8b8"/><stop offset="0.3419" stop-color="#b8b8b8"/><stop offset="0.3484" stop-color="#b7b7b7"/><stop offset="0.3548" stop-color="#b7b7b7"/><stop offset="0.3613" stop-color="#b7b7b7"/><stop offset="0.3677" stop-color="#b7b7b7"/><stop offset="0.3742" stop-color="#b7b7b7"/><stop offset="0.3806" stop-color="#b7b7b7"/><stop offset="0.3871" stop-color="#b7b7b7"/><stop offset="0.3935" stop-color="#b7b7b7"/><stop offset="0.4000" stop-color="#b7b7b7"/><stop offset="0.4065" stop-color="#b7b7b7"/><stop offset="0.4129" stop-color="#b7b7b7"/><stop offset="0.4194" stop-color="#b7b7b7"/><stop offset="0.4258" stop-color="#b8b8b8"/><stop offset="0.4323" stop-color="#b8b8b8"/><stop offset="0.4387" stop-color="#b9b9b9"/><stop offset="0.4452" stop-color="#b9b9b9"/><stop offset="0.4516" stop-color="#bababa"/><stop offset="0.4581" stop-color="#bbbbbb"/><stop offset="0.4645" stop-color="#bcbcbc"/><stop offset="0.4710" stop-color="#bebebe"/><stop offset="0.4774" stop-color="#bfbfbf"/><stop offset="0.4839" stop-color="#c0c0c0"/><stop offset="0.4903" stop-color="#c1c1c1"/><stop offset="0.4968" stop-color="#c2c2c2"/><stop offset="0.5032" stop-color="#c3c3c3"/><stop offset="0.5097" stop-color="#c4c4c4"/><stop offset="0.5161" stop-color="#c5c5c5"/><stop offset="0.5226" stop-color="#c5c5c5"/><stop offset="0.5290" stop-color="#c6c6c6"/><stop offset="0.5355" stop-color="#c6c6c6"/><stop offset="0.5419" stop-color="#c6c6c6"/><stop offset="0.5484" stop-color="#c6c6c6"/><stop offset="0.5548" stop-color="#c6c6c6"/><stop offset="0.5613" stop-color="#c6c6c6"/><stop offset="0.5677" stop-color="#c6c6c6"/><stop offset="0.5742" stop-color="#c5c5c5"/><stop offset="0.5806" stop-color="#c5c5c5"/><stop offset="0.5871" stop-color="#c4c4c4"/><stop offset="0.5935" stop-color="#c3c3c3"/><stop offset="0.6000" stop-color="#c2c2c2"/><stop offset="0.6065" stop-color="#c2c2c2"/><stop offset="0.6129" stop-color="#c1c1c1"/><stop offset="0.6194" stop-color="#c0c0c0"/><stop offset="0.6258" stop-color="#bfbfbf"/><stop offset="0.6323" stop-color="#bebebe"/><stop offset="0.6387" stop-color="#bdbdbd"/><stop offset="0.6452" stop-color="#bcbcbc"/><stop offset="0.6516" stop-color="#bbbbbb"/><stop offset="0.6581" stop-color="#bababa"/><stop offset="0.6645" stop-color="#b9b9b9"/><stop offset="0.6710" stop-color="#b9b9b9"/><stop offset="0.6774" stop-color="#b8b8b8"/><stop offset="0.6839" stop-color="#b8b8b8"/><stop offset="0.6903" stop-color="#b7b7b7"/><stop offset="0.6968" stop-color="#b7b7b7"/><stop offset="0.7032" stop-color="#b7b7b7"/><stop offset="0.7097" stop-color="#b7b7b7"/><stop offset="0.7161" stop-color="#b6b6b6"/><stop offset="0.7226" stop-color="#b6b6b6"/><stop offset="0.7290" stop-color="#b6b6b6"/><stop offset="0.7355" stop-color="#b6b6b6"/><stop offset="0.7419" stop-color="#b6b6b6"/><stop offset="0.7484" stop-color="#b6b6b6"/><stop offset="0.7548" stop-color="#b6b6b6"/><stop offset="0.7613" stop-color="#b6b6b6"/><stop offset="0.7677" stop-color="#b6b6b6"/><stop offset="0.7742" stop-color="#b6b6b6"/><stop offset="0.7806" stop-color="#b6b6b6"/><stop offset="0.7871" stop-color="#b6b6b6"/><stop offset="0.7935" stop-color="#b6b6b6"/><stop offset="0.8000" stop-color="#b6b6b6"/><stop offset="0.8065" stop-color="#b6b6b6"/><stop offset="0.8129" stop-color="#b6b6b6"/><stop offset="0.8194" stop-color="#b6b6b6"/><stop offset="0.8258" stop-color="#b5b5b5"/><stop offset="0.8323" stop-color="#b5b5b5"/><stop offset="0.8387" stop-color="#b4b4b4"/><stop offset="0.8452" stop-color="#b4b4b4"/><stop offset="0.8516" stop-color="#b3b3b3"/><stop offset="0.8581" stop-color="#b1b1b1"/><stop offset="0.8645" stop-color="#afafaf"/><stop offset="0.8710" stop-color="#adadad"/><stop offset="0.8774" stop-color="#aaaaaa"/><stop offset="0.8839" stop-color="#a7a7a7"/><stop offset="0.8903" stop-color="#a3a3a3"/><stop offset="0.8968" stop-color="#9f9f9f"/><stop offset="0.9032" stop-color="#9b9b9b"/><stop offset="0.9097" stop-color="#979797"/><stop offset="0.9161" stop-color="#929292"/><stop offset="0.9226" stop-color="#8d8d8d"/><stop offset="0.9290" stop-color="#898989"/><stop offset="0.9355" stop-color="#848484"/><stop offset="0.9419" stop-color="#7f7f7f"/><stop offset="0.9484" stop-color="#7b7b7b"/><stop offset="0.9548" stop-color="#767676"/><stop offset="0.9613" stop-color="#717171"/><stop offset="0.9677" stop-color="#6c6c6c"/><stop offset="0.9742" stop-color="#676767"/><stop offset="0.9806" stop-color="#636363"/><stop offset="0.9871" stop-color="#5e5e5e"/><stop offset="0.9935" stop-color="#595959"/><stop offset="1.0000" stop-color="#545454"/></linearGradient>
<linearGradient id="g6" gradientUnits="userSpaceOnUse" x1="66.5" x2="686.5" y1="0" y2="0"><stop offset="0.0000" stop-color="#5d5d5d"/><stop offset="0.0065" stop-color="#626262"/><stop offset="0.0129" stop-color="#676767"/><stop offset="0.0194" stop-color="#6d6d6d"/><stop offset="0.0258" stop-color="#727272"/><stop offset="0.0323" stop-color="#777777"/><stop offset="0.0387" stop-color="#7d7d7d"/><stop offset="0.0452" stop-color="#828282"/><stop offset="0.0516" stop-color="#888888"/><stop offset="0.0581" stop-color="#8e8e8e"/><stop offset="0.0645" stop-color="#949494"/><stop offset="0.0710" stop-color="#9a9a9a"/><stop offset="0.0774" stop-color="#a0a0a0"/><stop offset="0.0839" stop-color="#a7a7a7"/><stop offset="0.0903" stop-color="#adadad"/><stop offset="0.0968" stop-color="#b4b4b4"/><stop offset="0.1032" stop-color="#bbbbbb"/><stop offset="0.1097" stop-color="#c1c1c1"/><stop offset="0.1161" stop-color="#c7c7c7"/><stop offset="0.1226" stop-color="#cccccc"/><stop offset="0.1290" stop-color="#d0d0d0"/><stop offset="0.1355" stop-color="#d3d3d3"/><stop offset="0.1419" stop-color="#d5d5d5"/><stop offset="0.1484" stop-color="#d7d7d7"/><stop offset="0.1548" stop-color="#d8d8d8"/><stop offset="0.1613" stop-color="#d9d9d9"/><stop offset="0.1677" stop-color="#dadada"/><stop offset="0.1742" stop-color="#dadada"/><stop offset="0.1806" stop-color="#dadada"/><stop offset="0.1871" stop-color="#dadada"/><stop offset="0.1935" stop-color="#d9d9d9"/><stop offset="0.2000" stop-color="#d8d8d8"/><stop offset="0.2065" stop-color="#d7d7d7"/><stop offset="0.2129" stop-color="#d6d6d6"/><stop offset="0.2194" stop-color="#d5d5d5"/><stop offset="0.2258" stop-color="#d4d4d4"/><stop offset="0.2323" stop-color="#d3d3d3"/><stop offset="0.2387" stop-color="#d1d1d1"/><stop offset="0.2452" stop-color="#d0d0d0"/><stop offset="0.2516" stop-color="#cecece"/><stop offset="0.2581" stop-color="#cccccc"/><stop offset="0.2645" stop-color="#cbcbcb"/><stop offset="0.2710" stop-color="#c9c9c9"/><stop offset="0.2774" stop-color="#c7c7c7"/><stop offset="0.2839" stop-color="#c5c5c5"/><stop offset="0.2903" stop-color="#c3c3c3"/><stop offset="0.2968" stop-color="#c2c2c2"/><stop offset="0.3032" stop-color="#c0c0c0"/><stop offset="0.3097" stop-color="#bfbfbf"/><stop offset="0.3161" stop-color="#bebebe"/><stop offset="0.3226" stop-color="#bdbdbd"/><stop offset="0.3290" stop-color="#bcbcbc"/><stop offset="0.3355" stop-color="#bcbcbc"/><stop offset="0.3419" stop-color="#bcbcbc"/><stop offset="0.3484" stop-color="#bbbbbb"/><stop offset="0.3548" stop-color="#bbbbbb"/><stop offset="0.3613" stop-color="#bbbbbb"/><stop offset="0.3677" stop-color="#bbbbbb"/><stop offset="0.3742" stop-color="#bbbbbb"/><stop offset="0.3806" stop-color="#bababa"/><stop offset="0.3871" stop-color="#bababa"/><stop offset="0.3935" stop-color="#bbbbbb"/><stop offset="0.4000" stop-color="#bbbbbb"/><stop offset="0.4065" stop-color="#bbbbbb"/><stop offset="0.4129" stop-color="#bbbbbb"/><stop offset="0.4194" stop-color="#bbbbbb"/><stop offset="0.4258" stop-color="#bcbcbc"/><stop offset="0.4323" stop-color="#bdbdbd"/><stop offset="0.4387" stop-color="#bebebe"/><stop offset="0.4452" stop-color="#bfbfbf"/><stop offset="0.4516" stop-color="#c0c0c0"/><stop offset="0.4581" stop-color="#c2c2c2"/><stop offset="0.4645" stop-color="#c4c4c4"/><stop offset="0.4710" stop-color="#c6c6c6"/><stop offset="0.4774" stop-color="#c7c7c7"/><stop offset="0.4839" stop-color="#c9c9c9"/><stop offset="0.4903" stop-color="#cbcbcb"/><stop offset="0.4968" stop-color="#cdcdcd"/><stop offset="0.5032" stop-color="#cecece"/><stop offset="0.5097" stop-color="#cfcfcf"/><stop offset="0.5161" stop-color="#d0d0d0"/><stop offset="0.5226" stop-color="#d1d1d1"/><stop offset="0.5290" stop-color="#d2d2d2"/><stop offset="0.5355" stop-color="#d2d2d2"/><stop offset="0.5419" stop-color="#d2d2d2"/><stop offset="0.5484" stop-color="#d2d2d2"/><stop offset="0.5548" stop-color="#d1d1d1"/><stop offset="0.5613" stop-color="#d1d1d1"/><stop offset="0.5677" stop-color="#d0d0d0"/><stop offset="0.5742" stop-color="#cfcfcf"/><stop offset="0.5806" stop-color="#cecece"/><stop offset="0.5871" stop-color="#cdcdcd"/><stop offset="0.5935" stop-color="#cccccc"/><stop offset="0.6000" stop-color="#cbcbcb"/><stop offset="0.6065" stop-color="#cacaca"/><stop offset="0.6129" stop-color="#c9c9c9"/><stop offset="0.6194" stop-color="#c8c8c8"/><stop offset="0.6258" stop-color="#c7c7c7"/><stop offset="0.6323" stop-color="#c5c5c5"/><stop offset="0.6387" stop-color="#c4c4c4"/><stop offset="0.6452" stop-color="#c2c2c2"/><stop offset="0.6516" stop-color="#c1c1c1"/><stop offset="0.6581" stop-color="#c0c0c0"/><stop offset="0.6645" stop-color="#bebebe"/><stop offset="0.6710" stop-color="#bdbdbd"/><stop offset="0.6774" stop-color="#bdbdbd"/><stop offset="0.6839" stop-color="#bcbcbc"/><stop offset="0.6903" stop-color="#bbbbbb"/><stop offset="0.6968" stop-color="#bbbbbb"/><stop offset="0.7032" stop-color="#bbbbbb"/><stop offset="0.7097" stop-color="#bababa"/><stop offset="0.7161" stop-color="#bababa"/><stop offset="0.7226" stop-color="#bababa"/><stop offset="0.7290" stop-color="#bababa"/><stop offset="0.7355" stop-color="#bababa"/><stop offset="0.7419" stop-color="#bababa"/><stop offset="0.7484" stop-color="#bababa"/><stop offset="0.7548" stop-color="#bababa"/><stop offset="0.7613" stop-color="#bababa"/><stop offset="0.7677" stop-color="#bababa"/><stop offset="0.7742" stop-color="#bababa"/><stop offset="0.7806" stop-color="#bababa"/><stop offset="0.7871" stop-color="#bababa"/><stop offset="0.7935" stop-color="#bababa"/><stop offset="0.8000" stop-color="#bababa"/><stop offset="0.8065" stop-color="#bababa"/><stop offset="0.8129" stop-color="#b9b9b9"/><stop offset="0.8194" stop-color="#b9b9b9"/><stop offset="0.8258" stop-color="#b9b9b9"/><stop offset="0.8323" stop-color="#b9b9b9"/><stop offset="0.8387" stop-color="#b8b8b8"/><stop offset="0.8452" stop-color="#b7b7b7"/><stop offset="0.8516" stop-color="#b6b6b6"/><stop offset="0.8581" stop-color="#b5b5b5"/><stop offset="0.8645" stop-color="#b3b3b3"/><stop offset="0.8710" stop-color="#b1b1b1"/><stop offset="0.8774" stop-color="#aeaeae"/><stop offset="0.8839" stop-color="#aaaaaa"/><stop offset="0.8903" stop-color="#a7a7a7"/><stop offset="0.8968" stop-color="#a3a3a3"/><stop offset="0.9032" stop-color="#9f9f9f"/><stop offset="0.9097" stop-color="#9a9a9a"/><stop offset="0.9161" stop-color="#969696"/><stop offset="0.9226" stop-color="#919191"/><stop offset="0.9290" stop-color="#8c8c8c"/><stop offset="0.9355" stop-color="#888888"/><stop offset="0.9419" stop-color="#838383"/><stop offset="0.9484" stop-color="#7e7e7e"/><stop offset="0.9548" stop-color="#797979"/><stop offset="0.9613" stop-color="#757575"/><stop offset="0.9677" stop-color="#707070"/><stop offset="0.9742" stop-color="#6b6b6b"/><stop offset="0.9806" stop-color="#666666"/><stop offset="0.9871" stop-color="#616161"/><stop offset="0.9935" stop-color="#5d5d5d"/><stop offset="1.0000" stop-color="#585858"/></linearGradient>
<linearGradient id="g7" gradientUnits="userSpaceOnUse" x1="66.5" x2="686.5" y1="0" y2="0"><stop offset="0.0000" stop-color="#535353"/><stop offset="0.0065" stop-color="#585858"/><stop offset="0.0129" stop-color="#5d5d5d"/><stop offset="0.0194" stop-color="#626262"/><stop offset="0.0258" stop-color="#676767"/><stop offset="0.0323" stop-color="#6c6c6c"/><stop offset="0.0387" stop-color="#717171"/><stop offset="0.0452" stop-color="#767676"/><stop offset="0.0516" stop-color="#7c7c7c"/><stop offset="0.0581" stop-color="#818181"/><stop offset="0.0645" stop-color="#868686"/><stop offset="0.0710" stop-color="#8b8b8b"/><stop offset="0.0774" stop-color="#909090"/><stop offset="0.0839" stop-color="#959595"/><stop offset="0.0903" stop-color="#9a9a9a"/><stop offset="0.0968" stop-color="#9f9f9f"/><stop offset="0.1032" stop-color="#a3a3a3"/><stop offset="0.1097" stop-color="#a8a8a8"/><stop offset="0.1161" stop-color="#acacac"/><stop offset="0.1226" stop-color="#afafaf"/><stop offset="0.1290" stop-color="#b1b1b1"/><stop offset="0.1355" stop-color="#b2b2b2"/><stop offset="0.1419" stop-color="#b3b3b3"/><stop offset="0.1484" stop-color="#b4b4b4"/><stop offset="0.1548" stop-color="#b4b4b4"/><stop offset="0.1613" stop-color="#b4b4b4"/><stop offset="0.1677" stop-color="#b4b4b4"/><stop offset="0.1742" stop-color="#b4b4b4"/><stop offset="0.1806" stop-color="#b4b4b4"/><stop offset="0.1871" stop-color="#b4b4b4"/><stop offset="0.1935" stop-color="#b4b4b4"/><stop offset="0.2000" stop-color="#b4b4b4"/><stop offset="0.2065" stop-color="#b4b4b4"/><stop offset="0.2129" stop-color="#b4b4b4"/><stop offset="0.2194" stop-color="#b4b4b4"/><stop offset="0.2258" stop-color="#b4b4b4"/><stop offset="0.2323" stop-color="#b4b4b4"/><stop offset="0.2387" stop-color="#b4b4b4"/><stop offset="0.2452" stop-color="#b4b4b4"/><stop offset="0.2516" stop-color="#b4b4b4"/><stop offset="0.2581" stop-color="#b4b4b4"/><stop offset="0.2645" stop-color="#b4b4b4"/><stop offset="0.2710" stop-color="#b4b4b4"/><stop offset="0.2774" stop-color="#b4b4b4"/><stop offset="0.2839" stop-color="#b4b4b4"/><stop offset="0.2903" stop-color="#b4b4b4"/><stop offset="0.2968" stop-color="#b4b4b4"/><stop offset="0.3032" stop-color="#b4b4b4"/><stop offset="0.3097" stop-color="#b4b4b4"/><stop offset="0.3161" stop-color="#b4b4b4"/><stop offset="0.3226" stop-color="#b4b4b4"/><stop offset="0.3290" stop-color="#b4b4b4"/><stop offset="0.3355" stop-color="#b4b4b4"/><stop offset="0.3419" stop-color="#b4b4b4"/><stop offset="0.3484" stop-color="#b4b4b4"/><stop offset="0.3548" stop-color="#b4b4b4"/><stop offset="0.3613" stop-color="#b4b4b4"/><stop offset="0.3677" stop-color="#b4b4b4"/><stop offset="0.3742" stop-color="#b4b4b4"/><stop offset="0.3806" stop-color="#b4b4b4"/><stop offset="0.3871" stop-color="#b4b4b4"/><stop offset="0.3935" stop-color="#b4b4b4"/><stop offset="0.4000" stop-color="#b4b4b4"/><stop offset="0.4065" stop-color="#b4b4b4"/><stop offset="0.4129" stop-color="#b4b4b4"/><stop offset="0.4194" stop-color="#b4b4b4"/><stop offset="0.4258" stop-color="#b4b4b4"/><stop offset="0.4323" stop-color="#b4b4b4"/><stop offset="0.4387" stop-color="#b4b4b4"/><stop offset="0.4452" stop-color="#b4b4b4"/><stop offset="0.4516" stop-color="#b4b4b4"/><stop offset="0.4581" stop-color="#b4b4b4"/><stop offset="0.4645" stop-color="#b4b4b4"/><stop offset="0.4710" stop-color="#b4b4b4"/><stop offset="0.4774" stop-color="#b4b4b4"/><stop offset="0.4839" stop-color="#b4b4b4"/><stop offset="0.4903" stop-color="#b4b4b4"/><stop offset="0.4968" stop-color="#b4b4b4"/><stop offset="0.5032" stop-color="#b4b4b4"/><stop offset="0.5097" stop-color="#b4b4b4"/><stop offset="0.5161" stop-color="#b4b4b4"/><stop offset="0.5226" stop-color="#b4b4b4"/><stop offset="0.5290" stop-color="#b4b4b4"/><stop offset="0.5355" stop-color="#b4b4b4"/><stop offset="0.5419" stop-color="#b4b4b4"/><stop offset="0.5484" stop-color="#b4b4b4"/><stop offset="0.5548" stop-color="#b4b4b4"/><stop offset="0.5613" stop-color="#b4b4b4"/><stop offset="0.5677" stop-color="#b4b4b4"/><stop offset="0.5742" stop-color="#b4b4b4"/><stop offset="0.5806" stop-color="#b4b4b4"/><stop offset="0.5871" stop-color="#b4b4b4"/><stop offset="0.5935" stop-color="#b4b4b4"/><stop offset="0.6000" stop-color="#b4b4b4"/><stop offset="0.6065" stop-color="#b4b4b4"/><stop offset="0.6129" stop-color="#b4b4b4"/><stop offset="0.6194" stop-color="#b4b4b4"/><stop offset="0.6258" stop-color="#b4b4b4"/><stop offset="0.6323" stop-color="#b4b4b4"/><stop offset="0.6387" stop-color="#b4b4b4"/><stop offset="0.6452" stop-color="#b4b4b4"/><stop offset="0.6516" stop-color="#b4b4b4"/><stop offset="0.6581" stop-color="#b4b4b4"/><stop offset="0.6645" stop-color="#b4b4b4"/><stop offset="0.6710" stop-color="#b4b4b4"/><stop offset="0.6774" stop-color="#b4b4b4"/><stop offset="0.6839" stop-color="#b4b4b4"/><stop offset="0.6903" stop-color="#b4b4b4"/><stop offset="0.6968" stop-color="#b4b4b4"/><stop offset="0.7032" stop-color="#b4b4b4"/><stop offset="0.7097" stop-color="#b4b4b4"/><stop offset="0.7161" stop-color="#b4b4b4"/><stop offset="0.7226" stop-color="#b4b4b4"/><stop offset="0.7290" stop-color="#b4b4b4"/><stop offset="0.7355" stop-color="#b4b4b4"/><stop offset="0.7419" stop-color="#b4b4b4"/><stop offset="0.7484" stop-color="#b4b4b4"/><stop offset="0.7548" stop-color="#b4b4b4"/><stop offset="0.7613" stop-color="#b4b4b4"/><stop offset="0.7677" stop-color="#b4b4b4"/><stop offset="0.7742" stop-color="#b4b4b4"/><stop offset="0.7806" stop-color="#b4b4b4"/><stop offset="0.7871" stop-color="#b4b4b4"/><stop offset="0.7935" stop-color="#b4b4b4"/><stop offset="0.8000" stop-color="#b4b4b4"/><stop offset="0.8065" stop-color="#b4b4b4"/><stop offset="0.8129" stop-color="#b4b4b4"/><stop offset="0.8194" stop-color="#b4b4b4"/><stop offset="0.8258" stop-color="#b4b4b4"/><stop offset="0.8323" stop-color="#b3b3b3"/><stop offset="0.8387" stop-color="#b3b3b3"/><stop offset="0.8452" stop-color="#b2b2b2"/><stop offset="0.8516" stop-color="#b1b1b1"/><stop offset="0.8581" stop-color="#afafaf"/><stop offset="0.8645" stop-color="#adadad"/><stop offset="0.8710" stop-color="#ababab"/><stop offset="0.8774" stop-color="#a8a8a8"/><stop offset="0.8839" stop-color="#a5a5a5"/><stop offset="0.8903" stop-color="#a1a1a1"/><stop offset="0.8968" stop-color="#9d9d9d"/><stop offset="0.9032" stop-color="#999999"/><stop offset="0.9097" stop-color="#959595"/><stop offset="0.9161" stop-color="#909090"/><stop offset="0.9226" stop-color="#8c8c8c"/><stop offset="0.9290" stop-color="#878787"/><stop offset="0.9355" stop-color="#828282"/><stop offset="0.9419" stop-color="#7d7d7d"/><stop offset="0.9484" stop-color="#797979"/><stop offset="0.9548" stop-color="#747474"/><stop offset="0.9613" stop-color="#6f6f6f"/><stop offset="0.9677" stop-color="#6a6a6a"/><stop offset="0.9742" stop-color="#666666"/><stop offset="0.9806" stop-color="#616161"/><stop offset="0.9871" stop-color="#5c5c5c"/><stop offset="0.9935" stop-color="#575757"/><stop offset="1.0000" stop-color="#525252"/></linearGradient>
<linearGradient id="g8" gradientUnits="userSpaceOnUse" x1="66.5" x2="686.5" y1="0" y2="0"><stop offset="0.0000" stop-color="#565656"/><stop offset="0.0065" stop-color="#5c5c5c"/><stop offset="0.0129" stop-color="#616161"/><stop offset="0.0194" stop-color="#666666"/><stop offset="0.0258" stop-color="#6b6b6b"/><stop offset="0.0323" stop-color="#707070"/><stop offset="0.0387" stop-color="#757575"/><stop offset="0.0452" stop-color="#7a7a7a"/><stop offset="0.0516" stop-color="#7f7f7f"/><stop offset="0.0581" stop-color="#848484"/><stop offset="0.0645" stop-color="#898989"/><stop offset="0.0710" stop-color="#8e8e8e"/><stop offset="0.0774" stop-color="#949494"/><stop offset="0.0839" stop-color="#999999"/><stop offset="0.0903" stop-color="#9e9e9e"/><stop offset="0.0968" stop-color="#a2a2a2"/><stop offset="0.1032" stop-color="#a7a7a7"/><stop offset="0.1097" stop-color="#ababab"/><stop offset="0.1161" stop-color="#afafaf"/><stop offset="0.1226" stop-color="#b2b2b2"/><stop offset="0.1290" stop-color="#b5b5b5"/><stop offset="0.1355" stop-color="#b6b6b6"/><stop offset="0.1419" stop-color="#b7b7b7"/><stop offset="0.1484" stop-color="#b7b7b7"/><stop offset="0.1548" stop-color="#b8b8b8"/><stop offset="0.1613" stop-color="#b8b8b8"/><stop offset="0.1677" stop-color="#b8b8b8"/><stop offset="0.1742" stop-color="#b8b8b8"/><stop offset="0.1806" stop-color="#b8b8b8"/><stop offset="0.1871" stop-color="#b8b8b8"/><stop offset="0.1935" stop-color="#b8b8b8"/><stop offset="0.2000" stop-color="#b8b8b8"/><stop offset="0.2065" stop-color="#b8b8b8"/><stop offset="0.2129" stop-color="#b8b8b8"/><stop offset="0.2194" stop-color="#b8b8b8"/><stop offset="0.2258" stop-color="#b8b8b8"/><stop offset="0.2323" stop-color="#b8b8b8"/><stop offset="0.2387" stop-color="#b8b8b8"/><stop offset="0.2452" stop-color="#b8b8b8"/><stop offset="0.2516" stop-color="#b8b8b8"/><stop offset="0.2581" stop-color="#b8b8b8"/><stop offset="0.2645" stop-color="#b8b8b8"/><stop offset="0.2710" stop-color="#b8b8b8"/><stop offset="0.2774" stop-color="#b8b8b8"/><stop offset="0.2839" stop-color="#b8b8b8"/><stop offset="0.2903" stop-color="#b8b8b8"/><stop offset="0.2968" stop-color="#b8b8b8"/><stop offset="0.3032" stop-color="#b8b8b8"/><stop offset="0.3097" stop-color="#b8b8b8"/><stop offset="0.3161" stop-color="#b8b8b8"/><stop offset="0.3226" stop-color="#b8b8b8"/><stop offset="0.3290" stop-color="#b8b8b8"/><stop offset="0.3355" stop-color="#b8b8b8"/><stop offset="0.3419" stop-color="#b8b8b8"/><stop offset="0.3484" stop-color="#b8b8b8"/><stop offset="0.3548" stop-color="#b8b8b8"/><stop offset="0.3613" stop-color="#b8b8b8"/><stop offset="0.3677" stop-color="#b8b8b8"/><stop offset="0.3742" stop-color="#b8b8b8"/><stop offset="0.3806" stop-color="#b8b8b8"/><stop offset="0.3871" stop-color="#b8b8b8"/><stop offset="0.3935" stop-color="#b8b8b8"/><stop offset="0.4000" stop-color="#b8b8b8"/><stop offset="0.4065" stop-color="#b8b8b8"/><stop offset="0.4129" stop-color="#b8b8b8"/><stop offset="0.4194" stop-color="#b8b8b8"/><stop offset="0.4258" stop-color="#b8b8b8"/><stop offset="0.4323" stop-color="#b8b8b8"/><stop offset="0.4387" stop-color="#b8b8b8"/><stop offset="0.4452" stop-color="#b8b8b8"/><stop offset="0.4516" stop-color="#b8b8b8"/><stop offset="0.4581" stop-color="#b8b8b8"/><stop offset="0.4645" stop-color="#b8b8b8"/><stop offset="0.4710" stop-color="#b8b8b8"/><stop offset="0.4774" stop-color="#b8b8b8"/><stop offset="0.4839" stop-color="#b8b8b8"/><stop offset="0.4903" stop-color="#b8b8b8"/><stop offset="0.4968" stop-color="#b8b8b8"/><stop offset="0.5032" stop-color="#b8b8b8"/><stop offset="0.5097" stop-color="#b8b8b8"/><stop offset="0.5161" stop-color="#b8b8b8"/><stop offset="0.5226" stop-color="#b8b8b8"/><stop offset="0.5290" stop-color="#b8b8b8"/><stop offset="0.5355" stop-color="#b8b8b8"/><stop offset="0.5419" stop-color="#b8b8b8"/><stop offset="0.5484" stop-color="#b8b8b8"/><stop offset="0.5548" stop-color="#b8b8b8"/><stop offset="0.5613" stop-color="#b8b8b8"/><stop offset="0.5677" stop-color="#b8b8b8"/><stop offset="0.5742" stop-color="#b8b8b8"/><stop offset="0.5806" stop-color="#b8b8b8"/><stop offset="0.5871" stop-color="#b8b8b8"/><stop offset="0.5935" stop-color="#b8b8b8"/><stop offset="0.6000" stop-color="#b8b8b8"/><stop offset="0.6065" stop-color="#b8b8b8"/><stop offset="0.6129" stop-color="#b8b8b8"/><stop offset="0.6194" stop-color="#b8b8b8"/><stop offset="0.6258" stop-color="#b8b8b8"/><stop offset="0.6323" stop-color="#b8b8b8"/><stop offset="0.6387" stop-color="#b8b8b8"/><stop offset="0.6452" stop-color="#b8b8b8"/><stop offset="0.6516" stop-color="#b8b8b8"/><stop offset="0.6581" stop-color="#b8b8b8"/><stop offset="0.6645" stop-color="#b8b8b8"/><stop offset="0.6710" stop-color="#b8b8b8"/><stop offset="0.6774" stop-color="#b8b8b8"/><stop offset="0.6839" stop-color="#b8b8b8"/><stop offset="0.6903" stop-color="#b8b8b8"/><stop offset="0.6968" stop-color="#b8b8b8"/><stop offset="0.7032" stop-color="#b8b8b8"/><stop offset="0.7097" stop-color="#b8b8b8"/><stop offset="0.7161" stop-color="#b8b8b8"/><stop offset="0.7226" stop-color="#b8b8b8"/><stop offset="0.7290" stop-color="#b8b8b8"/><stop offset="0.7355" stop-color="#b8b8b8"/><stop offset="0.7419" stop-color="#b8b8b8"/><stop offset="0.7484" stop-color="#b8b8b8"/><stop offset="0.7548" stop-color="#b8b8b8"/><stop offset="0.7613" stop-color="#b8b8b8"/><stop offset="0.7677" stop-color="#b8b8b8"/><stop offset="0.7742" stop-color="#b8b8b8"/><stop offset="0.7806" stop-color="#b8b8b8"/><stop offset="0.7871" stop-color="#b8b8b8"/><stop offset="0.7935" stop-color="#b8b8b8"/><stop offset="0.8000" stop-color="#b8b8b8"/><stop offset="0.8065" stop-color="#b8b8b8"/><stop offset="0.8129" stop-color="#b8b8b8"/><stop offset="0.8194" stop-color="#b7b7b7"/><stop offset="0.8258" stop-color="#b7b7b7"/><stop offset="0.8323" stop-color="#b7b7b7"/><stop offset="0.8387" stop-color="#b6b6b6"/><stop offset="0.8452" stop-color="#b5b5b5"/><stop offset="0.8516" stop-color="#b4b4b4"/><stop offset="0.8581" stop-color="#b3b3b3"/><stop offset="0.8645" stop-color="#b1b1b1"/><stop offset="0.8710" stop-color="#afafaf"/><stop offset="0.8774" stop-color="#acacac"/><stop offset="0.8839" stop-color="#a9a9a9"/><stop offset="0.8903" stop-color="#a5a5a5"/><stop offset="0.8968" stop-color="#a1a1a1"/><stop offset="0.9032" stop-color="#9d9d9d"/><stop offset="0.9097" stop-color="#989898"/><stop offset="0.9161" stop-color="#949494"/><stop offset="0.9226" stop-color="#8f8f8f"/><stop offset="0.9290" stop-color="#8b8b8b"/><stop offset="0.9355" stop-color="#868686"/><stop offset="0.9419" stop-color="#818181"/><stop offset="0.9484" stop-color="#7c7c7c"/><stop offset="0.9548" stop-color="#787878"/><stop offset="0.9613" stop-color="#737373"/><stop offset="0.9677" stop-color="#6e6e6e"/><stop offset="0.9742" stop-color="#696969"/><stop offset="0.9806" stop-color="#646464"/><stop offset="0.9871" stop-color="#606060"/><stop offset="0.9935" stop-color="#5b5b5b"/><stop offset="1.0000" stop-color="#565656"/></linearGradient>
<linearGradient id="g9" gradientUnits="userSpaceOnUse" x1="66.5" x2="686.5" y1="0" y2="0"><stop offset="0.0000" stop-color="#4f4f4f"/><stop offset="0.0065" stop-color="#545454"/><stop offset="0.0129" stop-color="#595959"/><stop offset="0.0194" stop-color="#5e5e5e"/><stop offset="0.0258" stop-color="#646464"/><stop offset="0.0323" stop-color="#696969"/><stop offset="0.0387" stop-color="#6e6e6e"/><stop offset="0.0452" stop-color="#737373"/><stop offset="0.0516" stop-color="#787878"/><stop offset="0.0581" stop-color="#7d7d7d"/><stop offset="0.0645" stop-color="#828282"/><stop offset="0.0710" stop-color="#878787"/><stop offset="0.0774" stop-color="#8c8c8c"/><stop offset="0.0839" stop-color="#919191"/><stop offset="0.0903" stop-color="#969696"/><stop offset="0.0968" stop-color="#9b9b9b"/><stop offset="0.1032" stop-color="#a0a0a0"/><stop offset="0.1097" stop-color="#a4a4a4"/><stop offset="0.1161" stop-color="#a8a8a8"/><stop offset="0.1226" stop-color="#ababab"/><stop offset="0.1290" stop-color="#adadad"/><stop offset="0.1355" stop-color="#afafaf"/><stop offset="0.1419" stop-color="#b0b0b0"/><stop offset="0.1484" stop-color="#b0b0b0"/><stop offset="0.1548" stop-color="#b0b0b0"/><stop offset="0.1613" stop-color="#b1b1b1"/><stop offset="0.1677" stop-color="#b1b1b1"/><stop offset="0.1742" stop-color="#b1b1b1"/><stop offset="0.1806" stop-color="#b1b1b1"/><stop offset="0.1871" stop-color="#b1b1b1"/><stop offset="0.1935" stop-color="#b1b1b1"/><stop offset="0.2000" stop-color="#b1b1b1"/><stop offset="0.2065" stop-color="#b1b1b1"/><stop offset="0.2129" stop-color="#b1b1b1"/><stop offset="0.2194" stop-color="#b1b1b1"/><stop offset="0.2258" stop-color="#b1b1b1"/><stop offset="0.2323" stop-color="#b1b1b1"/><stop offset="0.2387" stop-color="#b1b1b1"/><stop offset="0.2452" stop-color="#b1b1b1"/><stop offset="0.2516" stop-color="#b1b1b1"/><stop offset="0.2581" stop-color="#b1b1b1"/><stop offset="0.2645" stop-color="#b1b1b1"/><stop offset="0.2710" stop-color="#b1b1b1"/><stop offset="0.2774" stop-color="#b1b1b1"/><stop offset="0.2839" stop-color="#b1b1b1"/><stop offset="0.2903" stop-color="#b1b1b1"/><stop offset="0.2968" stop-color="#b1b1b1"/><stop offset="0.3032" stop-color="#b1b1b1"/><stop offset="0.3097" stop-color="#b1b1b1"/><stop offset="0.3161" stop-color="#b1b1b1"/><stop offset="0.3226" stop-color="#b1b1b1"/><stop offset="0.3290" stop-color="#b1b1b1"/><stop offset="0.3355" stop-color="#b1b1b1"/><stop offset="0.3419" stop-color="#b1b1b1"/><stop offset="0.3484" stop-color="#b1b1b1"/><stop offset="0.3548" stop-color="#b1b1b1"/><stop offset="0.3613" stop-color="#b1b1b1"/><stop offset="0.3677" stop-color="#b1b1b1"/><stop offset="0.3742" stop-color="#b1b1b1"/><stop offset="0.3806" stop-color="#b1b1b1"/><stop offset="0.3871" stop-color="#b1b1b1"/><stop offset="0.3935" stop-color="#b1b1b1"/><stop offset="0.4000" stop-color="#b1b1b1"/><stop offset="0.4065" stop-color="#b1b1b1"/><stop offset="0.4129" stop-color="#b1b1b1"/><stop offset="0.4194" stop-color="#b1b1b1"/><stop offset="0.4258" stop-color="#b1b1b1"/><stop offset="0.4323" stop-color="#b1b1b1"/><stop offset="0.4387" stop-color="#b1b1b1"/><stop offset="0.4452" stop-color="#b1b1b1"/><stop offset="0.4516" stop-color="#b1b1b1"/><stop offset="0.4581" stop-color="#b1b1b1"/><stop offset="0.4645" stop-color="#b1b1b1"/><stop offset="0.4710" stop-color="#b1b1b1"/><stop offset="0.4774" stop-color="#b1b1b1"/><stop offset="0.4839" stop-color="#b1b1b1"/><stop offset="0.4903" stop-color="#b1b1b1"/><stop offset="0.4968" stop-color="#b1b1b1"/><stop offset="0.5032" stop-color="#b1b1b1"/><stop offset="0.5097" stop-color="#b1b1b1"/><stop offset="0.5161" stop-color="#b1b1b1"/><stop offset="0.5226" stop-color="#b1b1b1"/><stop offset="0.5290" stop-color="#b1b1b1"/><stop offset="0.5355" stop-color="#b1b1b1"/><stop offset="0.5419" stop-color="#b1b1b1"/><stop offset="0.5484" stop-color="#b1b1b1"/><stop offset="0.5548" stop-color="#b1b1b1"/><stop offset="0.5613" stop-color="#b1b1b1"/><stop offset="0.5677" stop-color="#b1b1b1"/><stop offset="0.5742" stop-color="#b1b1b1"/><stop offset="0.5806" stop-color="#b1b1b1"/><stop offset="0.5871" stop-color="#b1b1b1"/><stop offset="0.5935" stop-color="#b1b1b1"/><stop offset="0.6000" stop-color="#b1b1b1"/><stop offset="0.6065" stop-color="#b1b1b1"/><stop offset="0.6129" stop-color="#b1b1b1"/><stop offset="0.6194" stop-color="#b1b1b1"/><stop offset="0.6258" stop-color="#b1b1b1"/><stop offset="0.6323" stop-color="#b1b1b1"/><stop offset="0.6387" stop-color="#b1b1b1"/><stop offset="0.6452" stop-color="#b1b1b1"/><stop offset="0.6516" stop-color="#b1b1b1"/><stop offset="0.6581" stop-color="#b1b1b1"/><stop offset="0.6645" stop-color="#b1b1b1"/><stop offset="0.6710" stop-color="#b1b1b1"/><stop offset="0.6774" stop-color="#b1b1b1"/><stop offset="0.6839" stop-color="#b1b1b1"/><stop offset="0.6903" stop-color="#b1b1b1"/><stop offset="0.6968" stop-color="#b1b1b1"/><stop offset="0.7032" stop-color="#b1b1b1"/><stop offset="0.7097" stop-color="#b1b1b1"/><stop offset="0.7161" stop-color="#b1b1b1"/><stop offset="0.7226" stop-color="#b1b1b1"/><stop offset="0.7290" stop-color="#b1b1b1"/><stop offset="0.7355" stop-color="#b1b1b1"/><stop offset="0.7419" stop-color="#b1b1b1"/><stop offset="0.7484" stop-color="#b1b1b1"/><stop offset="0.7548" stop-color="#b1b1b1"/><stop offset="0.7613" stop-color="#b1b1b1"/><stop offset="0.7677" stop-color="#b1b1b1"/><stop offset="0.7742" stop-color="#b1b1b1"/><stop offset="0.7806" stop-color="#b1b1b1"/><stop offset="0.7871" stop-color="#b1b1b1"/><stop offset="0.7935" stop-color="#b1b1b1"/><stop offset="0.8000" stop-color="#b1b1b1"/><stop offset="0.8065" stop-color="#b0b0b0"/><stop offset="0.8129" stop-color="#b0b0b0"/><stop offset="0.8194" stop-color="#b0b0b0"/><stop offset="0.8258" stop-color="#b0b0b0"/><stop offset="0.8323" stop-color="#afafaf"/><stop offset="0.8387" stop-color="#afafaf"/><stop offset="0.8452" stop-color="#aeaeae"/><stop offset="0.8516" stop-color="#adadad"/><stop offset="0.8581" stop-color="#acacac"/><stop offset="0.8645" stop-color="#aaaaaa"/><stop offset="0.8710" stop-color="#a7a7a7"/><stop offset="0.8774" stop-color="#a5a5a5"/><stop offset="0.8839" stop-color="#a1a1a1"/><stop offset="0.8903" stop-color="#9e9e9e"/><stop offset="0.8968" stop-color="#9a9a9a"/><stop offset="0.9032" stop-color="#969696"/><stop offset="0.9097" stop-color="#919191"/><stop offset="0.9161" stop-color="#8d8d8d"/><stop offset="0.9226" stop-color="#888888"/><stop offset="0.9290" stop-color="#838383"/><stop offset="0.9355" stop-color="#7f7f7f"/><stop offset="0.9419" stop-color="#7a7a7a"/><stop offset="0.9484" stop-color="#757575"/><stop offset="0.9548" stop-color="#707070"/><stop offset="0.9613" stop-color="#6c6c6c"/><stop offset="0.9677" stop-color="#676767"/><stop offset="0.9742" stop-color="#626262"/><stop offset="0.9806" stop-color="#5d5d5d"/><stop offset="0.9871" stop-color="#585858"/><stop offset="0.9935" stop-color="#545454"/><stop offset="1.0000" stop-color="#4f4f4f"/></linearGradient>
<linearGradient id="g10" gradientUnits="userSpaceOnUse" x1="66.5" x2="686.5" y1="0" y2="0"><stop offset="0.0000" stop-color="#515151"/><stop offset="0.0065" stop-color="#565656"/><stop offset="0.0129" stop-color="#5b5b5b"/><stop offset="0.0194" stop-color="#606060"/><stop offset="0.0258" stop-color="#656565"/><stop offset="0.0323" stop-color="#6a6a6a"/><stop offset="0.0387" stop-color="#707070"/><stop offset="0.0452" stop-color="#757575"/><stop offset="0.0516" stop-color="#7a7a7a"/><stop offset="0.0581" stop-color="#7f7f7f"/><stop offset="0.0645" stop-color="#848484"/><stop offset="0.0710" stop-color="#898989"/><stop offset="0.0774" stop-color="#8e8e8e"/><stop offset="0.0839" stop-color="#939393"/><stop offset="0.0903" stop-color="#989898"/><stop offset="0.0968" stop-color="#9d9d9d"/><stop offset="0.1032" stop-color="#a2a2a2"/><stop offset="0.1097" stop-color="#a6a6a6"/><stop offset="0.1161" stop-color="#aaaaaa"/><stop offset="0.1226" stop-color="#adadad"/><stop offset="0.1290" stop-color="#afafaf"/><stop offset="0.1355" stop-color="#b1b1b1"/><stop offset="0.1419" stop-color="#b1b1b1"/><stop offset="0.1484" stop-color="#b2b2b2"/><stop offset="0.1548" stop-color="#b2b2b2"/><stop offset="0.1613" stop-color="#b2b2b2"/><stop offset="0.1677" stop-color="#b2b2b2"/><stop offset="0.1742" stop-color="#b2b2b2"/><stop offset="0.1806" stop-color="#b2b2b2"/><stop offset="0.1871" stop-color="#b2b2b2"/><stop offset="0.1935" stop-color="#b2b2b2"/><stop offset="0.2000" stop-color="#b2b2b2"/><stop offset="0.2065" stop-color="#b2b2b2"/><stop offset="0.2129" stop-color="#b2b2b2"/><stop offset="0.2194" stop-color="#b2b2b2"/><stop offset="0.2258" stop-color="#b2b2b2"/><stop offset="0.2323" stop-color="#b2b2b2"/><stop offset="0.2387" stop-color="#b2b2b2"/><stop offset="0.2452" stop-color="#b2b2b2"/><stop offset="0.2516" stop-color="#b2b2b2"/><stop offset="0.2581" stop-color="#b2b2b2"/><stop offset="0.2645" stop-color="#b2b2b2"/><stop offset="0.2710" stop-color="#b2b2b2"/><stop offset="0.2774" stop-color="#b2b2b2"/><stop offset="0.2839" stop-color="#b2b2b2"/><stop offset="0.2903" stop-color="#b2b2b2"/><stop offset="0.2968" stop-color="#b2b2b2"/><stop offset="0.3032" stop-color="#b2b2b2"/><stop offset="0.3097" stop-color="#b2b2b2"/><stop offset="0.3161" stop-color="#b2b2b2"/><stop offset="0.3226" stop-color="#b2b2b2"/><stop offset="0.3290" stop-color="#b2b2b2"/><stop offset="0.3355" stop-color="#b2b2b2"/><stop offset="0.3419" stop-color="#b2b2b2"/><stop offset="0.3484" stop-color="#b2b2b2"/><stop offset="0.3548" stop-color="#b2b2b2"/><stop offset="0.3613" stop-color="#b2b2b2"/><stop offset="0.3677" stop-color="#b2b2b2"/><stop offset="0.3742" stop-color="#b2b2b2"/><stop offset="0.3806" stop-color="#b2b2b2"/><stop offset="0.3871" stop-color="#b2b2b2"/><stop offset="0.3935" stop-color="#b2b2b2"/><stop offset="0.4000" stop-color="#b2b2b2"/><stop offset="0.4065" stop-color="#b2b2b2"/><stop offset="0.4129" stop-color="#b2b2b2"/><stop offset="0.4194" stop-color="#b2b2b2"/><stop offset="0.4258" stop-color="#b2b2b2"/><stop offset="0.4323" stop-color="#b2b2b2"/><stop offset="0.4387" stop-color="#b2b2b2"/><stop offset="0.4452" stop-color="#b2b2b2"/><stop offset="0.4516" stop-color="#b2b2b2"/><stop offset="0.4581" stop-color="#b2b2b2"/><stop offset="0.4645" stop-color="#b2b2b2"/><stop offset="0.4710" stop-color="#b2b2b2"/><stop offset="0.4774" stop-color="#b2b2b2"/><stop offset="0.4839" stop-color="#b2b2b2"/><stop offset="0.4903" stop-color="#b2b2b2"/><stop offset="0.4968" stop-color="#b2b2b2"/><stop offset="0.5032" stop-color="#b2b2b2"/><stop offset="0.5097" stop-color="#b2b2b2"/><stop offset="0.5161" stop-color="#b2b2b2"/><stop offset="0.5226" stop-color="#b2b2b2"/><stop offset="0.5290" stop-color="#b2b2b2"/><stop offset="0.5355" stop-color="#b2b2b2"/><stop offset="0.5419" stop-color="#b2b2b2"/><stop offset="0.5484" stop-color="#b2b2b2"/><stop offset="0.5548" stop-color="#b2b2b2"/><stop offset="0.5613" stop-color="#b2b2b2"/><stop offset="0.5677" stop-color="#b2b2b2"/><stop offset="0.5742" stop-color="#b2b2b2"/><stop offset="0.5806" stop-color="#b2b2b2"/><stop offset="0.5871" stop-color="#b2b2b2"/><stop offset="0.5935" stop-color="#b2b2b2"/><stop offset="0.6000" stop-color="#b2b2b2"/><stop offset="0.6065" stop-color="#b2b2b2"/><stop offset="0.6129" stop-color="#b2b2b2"/><stop offset="0.6194" stop-color="#b2b2b2"/><stop offset="0.6258" stop-color="#b2b2b2"/><stop offset="0.6323" stop-color="#b2b2b2"/><stop offset="0.6387" stop-color="#b2b2b2"/><stop offset="0.6452" stop-color="#b2b2b2"/><stop offset="0.6516" stop-color="#b2b2b2"/><stop offset="0.6581" stop-color="#b2b2b2"/><stop offset="0.6645" stop-color="#b2b2b2"/><stop offset="0.6710" stop-color="#b2b2b2"/><stop offset="0.6774" stop-color="#b2b2b2"/><stop offset="0.6839" stop-color="#b2b2b2"/><stop offset="0.6903" stop-color="#b2b2b2"/><stop offset="0.6968" stop-color="#b2b2b2"/><stop offset="0.7032" stop-color="#b2b2b2"/><stop offset="0.7097" stop-color="#b2b2b2"/><stop offset="0.7161" stop-color="#b2b2b2"/><stop offset="0.7226" stop-color="#b2b2b2"/><stop offset="0.7290" stop-color="#b2b2b2"/><stop offset="0.7355" stop-color="#b2b2b2"/><stop offset="0.7419" stop-color="#b2b2b2"/><stop offset="0.7484" stop-color="#b2b2b2"/><stop offset="0.7548" stop-color="#b2b2b2"/><stop offset="0.7613" stop-color="#b2b2b2"/><stop offset="0.7677" stop-color="#b2b2b2"/><stop offset="0.7742" stop-color="#b2b2b2"/><stop offset="0.7806" stop-color="#b2b2b2"/><stop offset="0.7871" stop-color="#b2b2b2"/><stop offset="0.7935" stop-color="#b2b2b2"/><stop offset="0.8000" stop-color="#b2b2b2"/><stop offset="0.8065" stop-color="#b2b2b2"/><stop offset="0.8129" stop-color="#b2b2b2"/><stop offset="0.8194" stop-color="#b2b2b2"/><stop offset="0.8258" stop-color="#b2b2b2"/><stop offset="0.8323" stop-color="#b1b1b1"/><stop offset="0.8387" stop-color="#b1b1b1"/><stop offset="0.8452" stop-color="#b0b0b0"/><stop offset="0.8516" stop-color="#afafaf"/><stop offset="0.8581" stop-color="#adadad"/><stop offset="0.8645" stop-color="#acacac"/><stop offset="0.8710" stop-color="#a9a9a9"/><stop offset="0.8774" stop-color="#a6a6a6"/><stop offset="0.8839" stop-color="#a3a3a3"/><stop offset="0.8903" stop-color="#a0a0a0"/><stop offset="0.8968" stop-color="#9c9c9c"/><stop offset="0.9032" stop-color="#979797"/><stop offset="0.9097" stop-color="#939393"/><stop offset="0.9161" stop-color="#8e8e8e"/><stop offset="0.9226" stop-color="#8a8a8a"/><stop offset="0.9290" stop-color="#858585"/><stop offset="0.9355" stop-color="#808080"/><stop offset="0.9419" stop-color="#7c7c7c"/><stop offset="0.9484" stop-color="#777777"/><stop offset="0.9548" stop-color="#727272"/><stop offset="0.9613" stop-color="#6d6d6d"/><stop offset="0.9677" stop-color="#696969"/><stop offset="0.9742" stop-color="#646464"/><stop offset="0.9806" stop-color="#5f5f5f"/><stop offset="0.9871" stop-color="#5a5a5a"/><stop offset="0.9935" stop-color="#555555"/><stop offset="1.0000" stop-color="#515151"/></linearGradient>
<linearGradient id="g11" gradientUnits="userSpaceOnUse" x1="66.5" x2="686.5" y1="0" y2="0"><stop offset="0.0000" stop-color="#4b4b4b"/><stop offset="0.0065" stop-color="#515151"/><stop offset="0.0129" stop-color="#565656"/><stop offset="0.0194" stop-color="#5b5b5b"/><stop offset="0.0258" stop-color="#606060"/><stop offset="0.0323" stop-color="#656565"/><stop offset="0.0387" stop-color="#6a6a6a"/><stop offset="0.0452" stop-color="#6f6f6f"/><stop offset="0.0516" stop-color="#747474"/><stop offset="0.0581" stop-color="#797979"/><stop offset="0.0645" stop-color="#7e7e7e"/><stop offset="0.0710" stop-color="#848484"/><stop offset="0.0774" stop-color="#898989"/><stop offset="0.0839" stop-color="#8e8e8e"/><stop offset="0.0903" stop-color="#939393"/><stop offset="0.0968" stop-color="#989898"/><stop offset="0.1032" stop-color="#9c9c9c"/><stop offset="0.1097" stop-color="#a1a1a1"/><stop offset="0.1161" stop-color="#a4a4a4"/><stop offset="0.1226" stop-color="#a7a7a7"/><stop offset="0.1290" stop-color="#aaaaaa"/><stop offset="0.1355" stop-color="#ababab"/><stop offset="0.1419" stop-color="#acacac"/><stop offset="0.1484" stop-color="#acacac"/><stop offset="0.1548" stop-color="#adadad"/><stop offset="0.1613" stop-color="#adadad"/><stop offset="0.1677" stop-color="#adadad"/><stop offset="0.1742" stop-color="#adadad"/><stop offset="0.1806" stop-color="#adadad"/><stop offset="0.1871" stop-color="#adadad"/><stop offset="0.1935" stop-color="#adadad"/><stop offset="0.2000" stop-color="#adadad"/><stop offset="0.2065" stop-color="#adadad"/><stop offset="0.2129" stop-color="#adadad"/><stop offset="0.2194" stop-color="#adadad"/><stop offset="0.2258" stop-color="#adadad"/><stop offset="0.2323" stop-color="#adadad"/><stop offset="0.2387" stop-color="#adadad"/><stop offset="0.2452" stop-color="#adadad"/><stop offset="0.2516" stop-color="#adadad"/><stop offset="0.2581" stop-color="#adadad"/><stop offset="0.2645" stop-color="#adadad"/><stop offset="0.2710" stop-color="#adadad"/><stop offset="0.2774" stop-color="#adadad"/><stop offset="0.2839" stop-color="#adadad"/><stop offset="0.2903" stop-color="#adadad"/><stop offset="0.2968" stop-color="#adadad"/><stop offset="0.3032" stop-color="#adadad"/><stop offset="0.3097" stop-color="#adadad"/><stop offset="0.3161" stop-color="#adadad"/><stop offset="0.3226" stop-color="#adadad"/><stop offset="0.3290" stop-color="#adadad"/><stop offset="0.3355" stop-color="#adadad"/><stop offset="0.3419" stop-color="#adadad"/><stop offset="0.3484" stop-color="#adadad"/><stop offset="0.3548" stop-color="#adadad"/><stop offset="0.3613" stop-color="#adadad"/><stop offset="0.3677" stop-color="#adadad"/><stop offset="0.3742" stop-color="#adadad"/><stop offset="0.3806" stop-color="#adadad"/><stop offset="0.3871" stop-color="#adadad"/><stop offset="0.3935" stop-color="#adadad"/><stop offset="0.4000" stop-color="#adadad"/><stop offset="0.4065" stop-color="#adadad"/><stop offset="0.4129" stop-color="#adadad"/><stop offset="0.4194" stop-color="#adadad"/><stop offset="0.4258" stop-color="#adadad"/><stop offset="0.4323" stop-color="#adadad"/><stop offset="0.4387" stop-color="#adadad"/><stop offset="0.4452" stop-color="#adadad"/><stop offset="0.4516" stop-color="#adadad"/><stop offset="0.4581" stop-color="#adadad"/><stop offset="0.4645" stop-color="#adadad"/><stop offset="0.4710" stop-color="#adadad"/><stop offset="0.4774" stop-color="#adadad"/><stop offset="0.4839" stop-color="#adadad"/><stop offset="0.4903" stop-color="#adadad"/><stop offset="0.4968" stop-color="#adadad"/><stop offset="0.5032" stop-color="#adadad"/><stop offset="0.5097" stop-color="#adadad"/><stop offset="0.5161" stop-color="#adadad"/><stop offset="0.5226" stop-color="#adadad"/><stop offset="0.5290" stop-color="#adadad"/><stop offset="0.5355" stop-color="#adadad"/><stop offset="0.5419" stop-color="#adadad"/><stop offset="0.5484" stop-color="#adadad"/><stop offset="0.5548" stop-color="#adadad"/><stop offset="0.5613" stop-color="#adadad"/><stop offset="0.5677" stop-color="#adadad"/><stop offset="0.5742" stop-color="#adadad"/><stop offset="0.5806" stop-color="#adadad"/><stop offset="0.5871" stop-color="#adadad"/><stop offset="0.5935" stop-color="#adadad"/><stop offset="0.6000" stop-color="#adadad"/><stop offset="0.6065" stop-color="#adadad"/><stop offset="0.6129" stop-color="#adadad"/><stop offset="0.6194" stop-color="#adadad"/><stop offset="0.6258" stop-color="#adadad"/><stop offset="0.6323" stop-color="#adadad"/><stop offset="0.6387" stop-color="#adadad"/><stop offset="0.6452" stop-color="#adadad"/><stop offset="0.6516" stop-color="#adadad"/><stop offset="0.6581" stop-color="#adadad"/><stop offset="0.6645" stop-color="#adadad"/><stop offset="0.6710" stop-color="#adadad"/><stop offset="0.6774" stop-color="#adadad"/><stop offset="0.6839" stop-color="#adadad"/><stop offset="0.6903" stop-color="#adadad"/><stop offset="0.6968" stop-color="#adadad"/><stop offset="0.7032" stop-color="#adadad"/><stop offset="0.7097" stop-color="#adadad"/><stop offset="0.7161" stop-color="#adadad"/><stop offset="0.7226" stop-color="#adadad"/><stop offset="0.7290" stop-color="#adadad"/><stop offset="0.7355" stop-color="#adadad"/><stop offset="0.7419" stop-color="#adadad"/><stop offset="0.7484" stop-color="#adadad"/><stop offset="0.7548" stop-color="#adadad"/><stop offset="0.7613" stop-color="#adadad"/><stop offset="0.7677" stop-color="#adadad"/><stop offset="0.7742" stop-color="#adadad"/><stop offset="0.7806" stop-color="#adadad"/><stop offset="0.7871" stop-color="#adadad"/><stop offset="0.7935" stop-color="#adadad"/><stop offset="0.8000" stop-color="#adadad"/><stop offset="0.8065" stop-color="#adadad"/><stop offset="0.8129" stop-color="#adadad"/><stop offset="0.8194" stop-color="#acacac"/><stop offset="0.8258" stop-color="#acacac"/><stop offset="0.8323" stop-color="#acacac"/><stop offset="0.8387" stop-color="#ababab"/><stop offset="0.8452" stop-color="#ababab"/><stop offset="0.8516" stop-color="#a9a9a9"/><stop offset="0.8581" stop-color="#a8a8a8"/><stop offset="0.8645" stop-color="#a6a6a6"/><stop offset="0.8710" stop-color="#a4a4a4"/><stop offset="0.8774" stop-color="#a1a1a1"/><stop offset="0.8839" stop-color="#9e9e9e"/><stop offset="0.8903" stop-color="#9a9a9a"/><stop offset="0.8968" stop-color="#969696"/><stop offset="0.9032" stop-color="#929292"/><stop offset="0.9097" stop-color="#8d8d8d"/><stop offset="0.9161" stop-color="#898989"/><stop offset="0.9226" stop-color="#848484"/><stop offset="0.9290" stop-color="#808080"/><stop offset="0.9355" stop-color="#7b7b7b"/><stop offset="0.9419" stop-color="#767676"/><stop offset="0.9484" stop-color="#717171"/><stop offset="0.9548" stop-color="#6d6d6d"/><stop offset="0.9613" stop-color="#686868"/><stop offset="0.9677" stop-color="#636363"/><stop offset="0.9742" stop-color="#5e5e5e"/><stop offset="0.9806" stop-color="#595959"/><stop offset="0.9871" stop-color="#555555"/><stop offset="0.9935" stop-color="#505050"/><stop offset="1.0000" stop-color="#4b4b4b"/></linearGradient>
<linearGradient id="g12" gradientUnits="userSpaceOnUse" x1="66.5" x2="686.5" y1="0" y2="0"><stop offset="0.0000" stop-color="#585858"/><stop offset="0.0065" stop-color="#5d5d5d"/><stop offset="0.0129" stop-color="#626262"/><stop offset="0.0194" stop-color="#686868"/><stop offset="0.0258" stop-color="#6d6d6d"/><stop offset="0.0323" stop-color="#727272"/><stop offset="0.0387" stop-color="#777777"/><stop offset="0.0452" stop-color="#7c7c7c"/><stop offset="0.0516" stop-color="#818181"/><stop offset="0.0581" stop-color="#868686"/><stop offset="0.0645" stop-color="#8b8b8b"/><stop offset="0.0710" stop-color="#909090"/><stop offset="0.0774" stop-color="#959595"/><stop offset="0.0839" stop-color="#9a9a9a"/><stop offset="0.0903" stop-color="#9f9f9f"/><stop offset="0.0968" stop-color="#a4a4a4"/><stop offset="0.1032" stop-color="#a9a9a9"/><stop offset="0.1097" stop-color="#adadad"/><stop offset="0.1161" stop-color="#b1b1b1"/><stop offset="0.1226" stop-color="#b4b4b4"/><stop offset="0.1290" stop-color="#b6b6b6"/><stop offset="0.1355" stop-color="#b8b8b8"/><stop offset="0.1419" stop-color="#b9b9b9"/><stop offset="0.1484" stop-color="#b9b9b9"/><stop offset="0.1548" stop-color="#b9b9b9"/><stop offset="0.1613" stop-color="#bababa"/><stop offset="0.1677" stop-color="#bababa"/><stop offset="0.1742" stop-color="#bababa"/><stop offset="0.1806" stop-color="#bababa"/><stop offset="0.1871" stop-color="#bababa"/><stop offset="0.1935" stop-color="#bababa"/><stop offset="0.2000" stop-color="#bababa"/><stop offset="0.2065" stop-color="#bababa"/><stop offset="0.2129" stop-color="#bababa"/><stop offset="0.2194" stop-color="#bababa"/><stop offset="0.2258" stop-color="#bababa"/><stop offset="0.2323" stop-color="#bababa"/><stop offset="0.2387" stop-color="#bababa"/><stop offset="0.2452" stop-color="#bababa"/><stop offset="0.2516" stop-color="#bababa"/><stop offset="0.2581" stop-color="#bababa"/><stop offset="0.2645" stop-color="#bababa"/><stop offset="0.2710" stop-color="#bababa"/><stop offset="0.2774" stop-color="#bababa"/><stop offset="0.2839" stop-color="#bababa"/><stop offset="0.2903" stop-color="#bababa"/><stop offset="0.2968" stop-color="#bababa"/><stop offset="0.3032" stop-color="#bababa"/><stop offset="0.3097" stop-color="#bababa"/><stop offset="0.3161" stop-color="#bababa"/><stop offset="0.3226" stop-color="#bababa"/><stop offset="0.3290" stop-color="#bababa"/><stop offset="0.3355" stop-color="#bababa"/><stop offset="0.3419" stop-color="#bababa"/><stop offset="0.3484" stop-color="#bababa"/><stop offset="0.3548" stop-color="#bababa"/><stop offset="0.3613" stop-color="#bababa"/><stop offset="0.3677" stop-color="#bababa"/><stop offset="0.3742" stop-color="#bababa"/><stop offset="0.3806" stop-color="#bababa"/><stop offset="0.3871" stop-color="#bababa"/><stop offset="0.3935" stop-color="#bababa"/><stop offset="0.4000" stop-color="#bababa"/><stop offset="0.4065" stop-color="#bababa"/><stop offset="0.4129" stop-color="#bababa"/><stop offset="0.4194" stop-color="#bababa"/><stop offset="0.4258" stop-color="#bababa"/><stop offset="0.4323" stop-color="#bababa"/><stop offset="0.4387" stop-color="#bababa"/><stop offset="0.4452" stop-color="#bababa"/><stop offset="0.4516" stop-color="#bababa"/><stop offset="0.4581" stop-color="#bababa"/><stop offset="0.4645" stop-color="#bababa"/><stop offset="0.4710" stop-color="#bababa"/><stop offset="0.4774" stop-color="#bababa"/><stop offset="0.4839" stop-color="#bababa"/><stop offset="0.4903" stop-color="#bababa"/><stop offset="0.4968" stop-color="#bababa"/><stop offset="0.5032" stop-color="#bababa"/><stop offset="0.5097" stop-color="#bababa"/><stop offset="0.5161" stop-color="#bababa"/><stop offset="0.5226" stop-color="#bababa"/><stop offset="0.5290" stop-color="#bababa"/><stop offset="0.5355" stop-color="#bababa"/><stop offset="0.5419" stop-color="#bababa"/><stop offset="0.5484" stop-color="#bababa"/><stop offset="0.5548" stop-color="#bababa"/><stop offset="0.5613" stop-color="#bababa"/><stop offset="0.5677" stop-color="#bababa"/><stop offset="0.5742" stop-color="#bababa"/><stop offset="0.5806" stop-color="#bababa"/><stop offset="0.5871" stop-color="#bababa"/><stop offset="0.5935" stop-color="#bababa"/><stop offset="0.6000" stop-color="#bababa"/><stop offset="0.6065" stop-color="#bababa"/><stop offset="0.6129" stop-color="#bababa"/><stop offset="0.6194" stop-color="#bababa"/><stop offset="0.6258" stop-color="#bababa"/><stop offset="0.6323" stop-color="#bababa"/><stop offset="0.6387" stop-color="#bababa"/><stop offset="0.6452" stop-color="#bababa"/><stop offset="0.6516" stop-color="#bababa"/><stop offset="0.6581" stop-color="#bababa"/><stop offset="0.6645" stop-color="#bababa"/><stop offset="0.6710" stop-color="#bababa"/><stop offset="0.6774" stop-color="#bababa"/><stop offset="0.6839" stop-color="#bababa"/><stop offset="0.6903" stop-color="#bababa"/><stop offset="0.6968" stop-color="#bababa"/><stop offset="0.7032" stop-color="#bababa"/><stop offset="0.7097" stop-color="#bababa"/><stop offset="0.7161" stop-color="#bababa"/><stop offset="0.7226" stop-color="#bababa"/><stop offset="0.7290" stop-color="#bababa"/><stop offset="0.7355" stop-color="#bababa"/><stop offset="0.7419" stop-color="#bababa"/><stop offset="0.7484" stop-color="#bababa"/><stop offset="0.7548" stop-color="#bababa"/><stop offset="0.7613" stop-color="#bababa"/><stop offset="0.7677" stop-color="#bababa"/><stop offset="0.7742" stop-color="#bababa"/><stop offset="0.7806" stop-color="#bababa"/><stop offset="0.7871" stop-color="#bababa"/><stop offset="0.7935" stop-color="#bababa"/><stop offset="0.8000" stop-color="#bababa"/><stop offset="0.8065" stop-color="#bababa"/><stop offset="0.8129" stop-color="#b9b9b9"/><stop offset="0.8194" stop-color="#b9b9b9"/><stop offset="0.8258" stop-color="#b9b9b9"/><stop offset="0.8323" stop-color="#b9b9b9"/><stop offset="0.8387" stop-color="#b8b8b8"/><stop offset="0.8452" stop-color="#b7b7b7"/><stop offset="0.8516" stop-color="#b6b6b6"/><stop offset="0.8581" stop-color="#b5b5b5"/><stop offset="0.8645" stop-color="#b3b3b3"/><stop offset="0.8710" stop-color="#b1b1b1"/><stop offset="0.8774" stop-color="#aeaeae"/><stop offset="0.8839" stop-color="#aaaaaa"/><stop offset="0.8903" stop-color="#a7a7a7"/><stop offset="0.8968" stop-color="#a3a3a3"/><stop offset="0.9032" stop-color="#9f9f9f"/><stop offset="0.9097" stop-color="#9a9a9a"/><stop offset="0.9161" stop-color="#969696"/><stop offset="0.9226" stop-color="#919191"/><stop offset="0.9290" stop-color="#8c8c8c"/><stop offset="0.9355" stop-color="#888888"/><stop offset="0.9419" stop-color="#838383"/><stop offset="0.9484" stop-color="#7e7e7e"/><stop offset="0.9548" stop-color="#797979"/><stop offset="0.9613" stop-color="#757575"/><stop offset="0.9677" stop-color="#707070"/><stop offset="0.9742" stop-color="#6b6b6b"/><stop offset="0.9806" stop-color="#666666"/><stop offset="0.9871" stop-color="#616161"/><stop offset="0.9935" stop-color="#5d5d5d"/><stop offset="1.0000" stop-color="#585858"/></linearGradient>
<linearGradient id="g13" gradientUnits="userSpaceOnUse" x1="66.5" x2="686.5" y1="0" y2="0"><stop offset="0.0000" stop-color="#767676"/><stop offset="0.0065" stop-color="#7b7b7b"/><stop offset="0.0129" stop-color="#818181"/><stop offset="0.0194" stop-color="#878787"/><stop offset="0.0258" stop-color="#8d8d8d"/><stop offset="0.0323" stop-color="#929292"/><stop offset="0.0387" stop-color="#989898"/><stop offset="0.0452" stop-color="#9e9e9e"/><stop offset="0.0516" stop-color="#a3a3a3"/><stop offset="0.0581" stop-color="#a8a8a8"/><stop offset="0.0645" stop-color="#aeaeae"/><stop offset="0.0710" stop-color="#b3b3b3"/><stop offset="0.0774" stop-color="#b8b8b8"/><stop offset="0.0839" stop-color="#bdbdbd"/><stop offset="0.0903" stop-color="#c2c2c2"/><stop offset="0.0968" stop-color="#c6c6c6"/><stop offset="0.1032" stop-color="#cacaca"/><stop offset="0.1097" stop-color="#cccccc"/><stop offset="0.1161" stop-color="#cecece"/><stop offset="0.1226" stop-color="#d0d0d0"/><stop offset="0.1290" stop-color="#d0d0d0"/><stop offset="0.1355" stop-color="#d1d1d1"/><stop offset="0.1419" stop-color="#d1d1d1"/><stop offset="0.1484" stop-color="#d1d1d1"/><stop offset="0.1548" stop-color="#d1d1d1"/><stop offset="0.1613" stop-color="#d1d1d1"/><stop offset="0.1677" stop-color="#d1d1d1"/><stop offset="0.1742" stop-color="#d1d1d1"/><stop offset="0.1806" stop-color="#d1d1d1"/><stop offset="0.1871" stop-color="#d1d1d1"/><stop offset="0.1935" stop-color="#d1d1d1"/><stop offset="0.2000" stop-color="#d1d1d1"/><stop offset="0.2065" stop-color="#d0d0d0"/><stop offset="0.2129" stop-color="#d0d0d0"/><stop offset="0.2194" stop-color="#d0d0d0"/><stop offset="0.2258" stop-color="#d0d0d0"/><stop offset="0.2323" stop-color="#d0d0d0"/><stop offset="0.2387" stop-color="#d0d0d0"/><stop offset="0.2452" stop-color="#cfcfcf"/><stop offset="0.2516" stop-color="#cfcfcf"/><stop offset="0.2581" stop-color="#cfcfcf"/><stop offset="0.2645" stop-color="#cfcfcf"/><stop offset="0.2710" stop-color="#cfcfcf"/><stop offset="0.2774" stop-color="#cfcfcf"/><stop offset="0.2839" stop-color="#cecece"/><stop offset="0.2903" stop-color="#cecece"/><stop offset="0.2968" stop-color="#cfcfcf"/><stop offset="0.3032" stop-color="#cfcfcf"/><stop offset="0.3097" stop-color="#cfcfcf"/><stop offset="0.3161" stop-color="#cfcfcf"/><stop offset="0.3226" stop-color="#d0d0d0"/><stop offset="0.3290" stop-color="#d0d0d0"/><stop offset="0.3355" stop-color="#d1d1d1"/><stop offset="0.3419" stop-color="#d2d2d2"/><stop offset="0.3484" stop-color="#d3d3d3"/><stop offset="0.3548" stop-color="#d4d4d4"/><stop offset="0.3613" stop-color="#d5d5d5"/><stop offset="0.3677" stop-color="#d6d6d6"/><stop offset="0.3742" stop-color="#d7d7d7"/><stop offset="0.3806" stop-color="#d8d8d8"/><stop offset="0.3871" stop-color="#d9d9d9"/><stop offset="0.3935" stop-color="#dadada"/><stop offset="0.4000" stop-color="#dbdbdb"/><stop offset="0.4065" stop-color="#dbdbdb"/><stop offset="0.4129" stop-color="#dcdcdc"/><stop offset="0.4194" stop-color="#dcdcdc"/><stop offset="0.4258" stop-color="#dcdcdc"/><stop offset="0.4323" stop-color="#dddddd"/><stop offset="0.4387" stop-color="#dddddd"/><stop offset="0.4452" stop-color="#dddddd"/><stop offset="0.4516" stop-color="#dddddd"/><stop offset="0.4581" stop-color="#dcdcdc"/><stop offset="0.4645" stop-color="#dcdcdc"/><stop offset="0.4710" stop-color="#dcdcdc"/><stop offset="0.4774" stop-color="#dcdcdc"/><stop offset="0.4839" stop-color="#dbdbdb"/><stop offset="0.4903" stop-color="#dadada"/><stop offset="0.4968" stop-color="#dadada"/><stop offset="0.5032" stop-color="#d9d9d9"/><stop offset="0.5097" stop-color="#d8d8d8"/><stop offset="0.5161" stop-color="#d6d6d6"/><stop offset="0.5226" stop-color="#d5d5d5"/><stop offset="0.5290" stop-color="#d3d3d3"/><stop offset="0.5355" stop-color="#d2d2d2"/><stop offset="0.5419" stop-color="#d0d0d0"/><stop offset="0.5484" stop-color="#cecece"/><stop offset="0.5548" stop-color="#cdcdcd"/><stop offset="0.5613" stop-color="#cbcbcb"/><stop offset="0.5677" stop-color="#c9c9c9"/><stop offset="0.5742" stop-color="#c7c7c7"/><stop offset="0.5806" stop-color="#c6c6c6"/><stop offset="0.5871" stop-color="#c4c4c4"/><stop offset="0.5935" stop-color="#c3c3c3"/><stop offset="0.6000" stop-color="#c2c2c2"/><stop offset="0.6065" stop-color="#c0c0c0"/><stop offset="0.6129" stop-color="#bfbfbf"/><stop offset="0.6194" stop-color="#bebebe"/><stop offset="0.6258" stop-color="#bdbdbd"/><stop offset="0.6323" stop-color="#bcbcbc"/><stop offset="0.6387" stop-color="#bbbbbb"/><stop offset="0.6452" stop-color="#bababa"/><stop offset="0.6516" stop-color="#bababa"/><stop offset="0.6581" stop-color="#b9b9b9"/><stop offset="0.6645" stop-color="#b8b8b8"/><stop offset="0.6710" stop-color="#b8b8b8"/><stop offset="0.6774" stop-color="#b7b7b7"/><stop offset="0.6839" stop-color="#b7b7b7"/><stop offset="0.6903" stop-color="#b6b6b6"/><stop offset="0.6968" stop-color="#b6b6b6"/><stop offset="0.7032" stop-color="#b6b6b6"/><stop offset="0.7097" stop-color="#b5b5b5"/><stop offset="0.7161" stop-color="#b5b5b5"/><stop offset="0.7226" stop-color="#b5b5b5"/><stop offset="0.7290" stop-color="#b4b4b4"/><stop offset="0.7355" stop-color="#b4b4b4"/><stop offset="0.7419" stop-color="#b4b4b4"/><stop offset="0.7484" stop-color="#b4b4b4"/><stop offset="0.7548" stop-color="#b4b4b4"/><stop offset="0.7613" stop-color="#b4b4b4"/><stop offset="0.7677" stop-color="#b3b3b3"/><stop offset="0.7742" stop-color="#b3b3b3"/><stop offset="0.7806" stop-color="#b3b3b3"/><stop offset="0.7871" stop-color="#b3b3b3"/><stop offset="0.7935" stop-color="#b3b3b3"/><stop offset="0.8000" stop-color="#b3b3b3"/><stop offset="0.8065" stop-color="#b3b3b3"/><stop offset="0.8129" stop-color="#b3b3b3"/><stop offset="0.8194" stop-color="#b3b3b3"/><stop offset="0.8258" stop-color="#b2b2b2"/><stop offset="0.8323" stop-color="#b2b2b2"/><stop offset="0.8387" stop-color="#b2b2b2"/><stop offset="0.8452" stop-color="#b1b1b1"/><stop offset="0.8516" stop-color="#b1b1b1"/><stop offset="0.8581" stop-color="#b0b0b0"/><stop offset="0.8645" stop-color="#aeaeae"/><stop offset="0.8710" stop-color="#adadad"/><stop offset="0.8774" stop-color="#ababab"/><stop offset="0.8839" stop-color="#a8a8a8"/><stop offset="0.8903" stop-color="#a5a5a5"/><stop offset="0.8968" stop-color="#a1a1a1"/><stop offset="0.9032" stop-color="#9e9e9e"/><stop offset="0.9097" stop-color="#9a9a9a"/><stop offset="0.9161" stop-color="#959595"/><stop offset="0.9226" stop-color="#919191"/><stop offset="0.9290" stop-color="#8c8c8c"/><stop offset="0.9355" stop-color="#888888"/><stop offset="0.9419" stop-color="#838383"/><stop offset="0.9484" stop-color="#7e7e7e"/><stop offset="0.9548" stop-color="#797979"/><stop offset="0.9613" stop-color="#757575"/><stop offset="0.9677" stop-color="#707070"/><stop offset="0.9742" stop-color="#6b6b6b"/><stop offset="0.9806" stop-color="#666666"/><stop offset="0.9871" stop-color="#616161"/><stop offset="0.9935" stop-color="#5d5d5d"/><stop offset="1.0000" stop-color="#585858"/></linearGradient>
<linearGradient id="g14" gradientUnits="userSpaceOnUse" x1="66.5" x2="686.5" y1="0" y2="0"><stop offset="0.0000" stop-color="#515151"/><stop offset="0.0065" stop-color="#565656"/><stop offset="0.0129" stop-color="#5b5b5b"/><stop offset="0.0194" stop-color="#606060"/><stop offset="0.0258" stop-color="#656565"/><stop offset="0.0323" stop-color="#6a6a6a"/><stop offset="0.0387" stop-color="#707070"/><stop offset="0.0452" stop-color="#757575"/><stop offset="0.0516" stop-color="#7a7a7a"/><stop offset="0.0581" stop-color="#7f7f7f"/><stop offset="0.0645" stop-color="#848484"/><stop offset="0.0710" stop-color="#898989"/><stop offset="0.0774" stop-color="#8e8e8e"/><stop offset="0.0839" stop-color="#939393"/><stop offset="0.0903" stop-color="#989898"/><stop offset="0.0968" stop-color="#9d9d9d"/><stop offset="0.1032" stop-color="#a2a2a2"/><stop offset="0.1097" stop-color="#a6a6a6"/><stop offset="0.1161" stop-color="#aaaaaa"/><stop offset="0.1226" stop-color="#adadad"/><stop offset="0.1290" stop-color="#afafaf"/><stop offset="0.1355" stop-color="#b1b1b1"/><stop offset="0.1419" stop-color="#b1b1b1"/><stop offset="0.1484" stop-color="#b2b2b2"/><stop offset="0.1548" stop-color="#b2b2b2"/><stop offset="0.1613" stop-color="#b2b2b2"/><stop offset="0.1677" stop-color="#b2b2b2"/><stop offset="0.1742" stop-color="#b2b2b2"/><stop offset="0.1806" stop-color="#b2b2b2"/><stop offset="0.1871" stop-color="#b2b2b2"/><stop offset="0.1935" stop-color="#b2b2b2"/><stop offset="0.2000" stop-color="#b2b2b2"/><stop offset="0.2065" stop-color="#b2b2b2"/><stop offset="0.2129" stop-color="#b2b2b2"/><stop offset="0.2194" stop-color="#b2b2b2"/><stop offset="0.2258" stop-color="#b2b2b2"/><stop offset="0.2323" stop-color="#b2b2b2"/><stop offset="0.2387" stop-color="#b2b2b2"/><stop offset="0.2452" stop-color="#b2b2b2"/><stop offset="0.2516" stop-color="#b2b2b2"/><stop offset="0.2581" stop-color="#b2b2b2"/><stop offset="0.2645" stop-color="#b2b2b2"/><stop offset="0.2710" stop-color="#b2b2b2"/><stop offset="0.2774" stop-color="#b2b2b2"/><stop offset="0.2839" stop-color="#b2b2b2"/><stop offset="0.2903" stop-color="#b2b2b2"/><stop offset="0.2968" stop-color="#b2b2b2"/><stop offset="0.3032" stop-color="#b2b2b2"/><stop offset="0.3097" stop-color="#b2b2b2"/><stop offset="0.3161" stop-color="#b2b2b2"/><stop offset="0.3226" stop-color="#b2b2b2"/><stop offset="0.3290" stop-color="#b2b2b2"/><stop offset="0.3355" stop-color="#b2b2b2"/><stop offset="0.3419" stop-color="#b2b2b2"/><stop offset="0.3484" stop-color="#b2b2b2"/><stop offset="0.3548" stop-color="#b2b2b2"/><stop offset="0.3613" stop-color="#b2b2b2"/><stop offset="0.3677" stop-color="#b2b2b2"/><stop offset="0.3742" stop-color="#b2b2b2"/><stop offset="0.3806" stop-color="#b2b2b2"/><stop offset="0.3871" stop-color="#b2b2b2"/><stop offset="0.3935" stop-color="#b2b2b2"/><stop offset="0.4000" stop-color="#b2b2b2"/><stop offset="0.4065" stop-color="#b2b2b2"/><stop offset="0.4129" stop-color="#b2b2b2"/><stop offset="0.4194" stop-color="#b2b2b2"/><stop offset="0.4258" stop-color="#b2b2b2"/><stop offset="0.4323" stop-color="#b2b2b2"/><stop offset="0.4387" stop-color="#b2b2b2"/><stop offset="0.4452" stop-color="#b2b2b2"/><stop offset="0.4516" stop-color="#b2b2b2"/><stop offset="0.4581" stop-color="#b2b2b2"/><stop offset="0.4645" stop-color="#b2b2b2"/><stop offset="0.4710" stop-color="#b2b2b2"/><stop offset="0.4774" stop-color="#b2b2b2"/><stop offset="0.4839" stop-color="#b2b2b2"/><stop offset="0.4903" stop-color="#b2b2b2"/><stop offset="0.4968" stop-color="#b2b2b2"/><stop offset="0.5032" stop-color="#b2b2b2"/><stop offset="0.5097" stop-color="#b2b2b2"/><stop offset="0.5161" stop-color="#b2b2b2"/><stop offset="0.5226" stop-color="#b2b2b2"/><stop offset="0.5290" stop-color="#b2b2b2"/><stop offset="0.5355" stop-color="#b2b2b2"/><stop offset="0.5419" stop-color="#b2b2b2"/><stop offset="0.5484" stop-color="#b2b2b2"/><stop offset="0.5548" stop-color="#b2b2b2"/><stop offset="0.5613" stop-color="#b2b2b2"/><stop offset="0.5677" stop-color="#b2b2b2"/><stop offset="0.5742" stop-color="#b2b2b2"/><stop offset="0.5806" stop-color="#b2b2b2"/><stop offset="0.5871" stop-color="#b2b2b2"/><stop offset="0.5935" stop-color="#b2b2b2"/><stop offset="0.6000" stop-color="#b2b2b2"/><stop offset="0.6065" stop-color="#b2b2b2"/><stop offset="0.6129" stop-color="#b2b2b2"/><stop offset="0.6194" stop-color="#b2b2b2"/><stop offset="0.6258" stop-color="#b2b2b2"/><stop offset="0.6323" stop-color="#b2b2b2"/><stop offset="0.6387" stop-color="#b2b2b2"/><stop offset="0.6452" stop-color="#b2b2b2"/><stop offset="0.6516" stop-color="#b2b2b2"/><stop offset="0.6581" stop-color="#b2b2b2"/><stop offset="0.6645" stop-color="#b2b2b2"/><stop offset="0.6710" stop-color="#b2b2b2"/><stop offset="0.6774" stop-color="#b2b2b2"/><stop offset="0.6839" stop-color="#b2b2b2"/><stop offset="0.6903" stop-color="#b2b2b2"/><stop offset="0.6968" stop-color="#b2b2b2"/><stop offset="0.7032" stop-color="#b2b2b2"/><stop offset="0.7097" stop-color="#b2b2b2"/><stop offset="0.7161" stop-color="#b2b2b2"/><stop offset="0.7226" stop-color="#b2b2b2"/><stop offset="0.7290" stop-color="#b2b2b2"/><stop offset="0.7355" stop-color="#b2b2b2"/><stop offset="0.7419" stop-color="#b2b2b2"/><stop offset="0.7484" stop-color="#b2b2b2"/><stop offset="0.7548" stop-color="#b2b2b2"/><stop offset="0.7613" stop-color="#b2b2b2"/><stop offset="0.7677" stop-color="#b2b2b2"/><stop offset="0.7742" stop-color="#b2b2b2"/><stop offset="0.7806" stop-color="#b2b2b2"/><stop offset="0.7871" stop-color="#b2b2b2"/><stop offset="0.7935" stop-color="#b2b2b2"/><stop offset="0.8000" stop-color="#b2b2b2"/><stop offset="0.8065" stop-color="#b2b2b2"/><stop offset="0.8129" stop-color="#b2b2b2"/><stop offset="0.8194" stop-color="#b2b2b2"/><stop offset="0.8258" stop-color="#b2b2b2"/><stop offset="0.8323" stop-color="#b2b2b2"/><stop offset="0.8387" stop-color="#b2b2b2"/><stop offset="0.8452" stop-color="#b2b2b2"/><stop offset="0.8516" stop-color="#b2b2b2"/><stop offset="0.8581" stop-color="#b1b1b1"/><stop offset="0.8645" stop-color="#b0b0b0"/><stop offset="0.8710" stop-color="#afafaf"/><stop offset="0.8774" stop-color="#aeaeae"/><stop offset="0.8839" stop-color="#adadad"/><stop offset="0.8903" stop-color="#aaaaaa"/><stop offset="0.8968" stop-color="#a8a8a8"/><stop offset="0.9032" stop-color="#a5a5a5"/><stop offset="0.9097" stop-color="#a1a1a1"/><stop offset="0.9161" stop-color="#9e9e9e"/><stop offset="0.9226" stop-color="#999999"/><stop offset="0.9290" stop-color="#959595"/><stop offset="0.9355" stop-color="#919191"/><stop offset="0.9419" stop-color="#8c8c8c"/><stop offset="0.9484" stop-color="#878787"/><stop offset="0.9548" stop-color="#838383"/><stop offset="0.9613" stop-color="#7e7e7e"/><stop offset="0.9677" stop-color="#797979"/><stop offset="0.9742" stop-color="#757575"/><stop offset="0.9806" stop-color="#707070"/><stop offset="0.9871" stop-color="#6b6b6b"/><stop offset="0.9935" stop-color="#666666"/><stop offset="1.0000" stop-color="#616161"/></linearGradient>
<linearGradient id="g15" gradientUnits="userSpaceOnUse" x1="66.5" x2="686.5" y1="0" y2="0"><stop offset="0.0000" stop-color="#535353"/><stop offset="0.0065" stop-color="#585858"/><stop offset="0.0129" stop-color="#5d5d5d"/><stop offset="0.0194" stop-color="#626262"/><stop offset="0.0258" stop-color="#676767"/><stop offset="0.0323" stop-color="#6c6c6c"/><stop offset="0.0387" stop-color="#717171"/><stop offset="0.0452" stop-color="#767676"/><stop offset="0.0516" stop-color="#7c7c7c"/><stop offset="0.0581" stop-color="#818181"/><stop offset="0.0645" stop-color="#868686"/><stop offset="0.0710" stop-color="#8b8b8b"/><stop offset="0.0774" stop-color="#909090"/><stop offset="0.0839" stop-color="#959595"/><stop offset="0.0903" stop-color="#9a9a9a"/><stop offset="0.0968" stop-color="#9f9f9f"/><stop offset="0.1032" stop-color="#a3a3a3"/><stop offset="0.1097" stop-color="#a8a8a8"/><stop offset="0.1161" stop-color="#acacac"/><stop offset="0.1226" stop-color="#afafaf"/><stop offset="0.1290" stop-color="#b1b1b1"/><stop offset="0.1355" stop-color="#b2b2b2"/><stop offset="0.1419" stop-color="#b3b3b3"/><stop offset="0.1484" stop-color="#b4b4b4"/><stop offset="0.1548" stop-color="#b4b4b4"/><stop offset="0.1613" stop-color="#b4b4b4"/><stop offset="0.1677" stop-color="#b4b4b4"/><stop offset="0.1742" stop-color="#b4b4b4"/><stop offset="0.1806" stop-color="#b4b4b4"/><stop offset="0.1871" stop-color="#b4b4b4"/><stop offset="0.1935" stop-color="#b4b4b4"/><stop offset="0.2000" stop-color="#b4b4b4"/><stop offset="0.2065" stop-color="#b4b4b4"/><stop offset="0.2129" stop-color="#b4b4b4"/><stop offset="0.2194" stop-color="#b4b4b4"/><stop offset="0.2258" stop-color="#b4b4b4"/><stop offset="0.2323" stop-color="#b4b4b4"/><stop offset="0.2387" stop-color="#b4b4b4"/><stop offset="0.2452" stop-color="#b4b4b4"/><stop offset="0.2516" stop-color="#b4b4b4"/><stop offset="0.2581" stop-color="#b4b4b4"/><stop offset="0.2645" stop-color="#b4b4b4"/><stop offset="0.2710" stop-color="#b4b4b4"/><stop offset="0.2774" stop-color="#b4b4b4"/><stop offset="0.2839" stop-color="#b4b4b4"/><stop offset="0.2903" stop-color="#b4b4b4"/><stop offset="0.2968" stop-color="#b4b4b4"/><stop offset="0.3032" stop-color="#b4b4b4"/><stop offset="0.3097" stop-color="#b4b4b4"/><stop offset="0.3161" stop-color="#b4b4b4"/><stop offset="0.3226" stop-color="#b4b4b4"/><stop offset="0.3290" stop-color="#b4b4b4"/><stop offset="0.3355" stop-color="#b4b4b4"/><stop offset="0.3419" stop-color="#b4b4b4"/><stop offset="0.3484" stop-color="#b4b4b4"/><stop offset="0.3548" stop-color="#b4b4b4"/><stop offset="0.3613" stop-color="#b4b4b4"/><stop offset="0.3677" stop-color="#b4b4b4"/><stop offset="0.3742" stop-color="#b4b4b4"/><stop offset="0.3806" stop-color="#b4b4b4"/><stop offset="0.3871" stop-color="#b4b4b4"/><stop offset="0.3935" stop-color="#b4b4b4"/><stop offset="0.4000" stop-color="#b4b4b4"/><stop offset="0.4065" stop-color="#b4b4b4"/><stop offset="0.4129" stop-color="#b4b4b4"/><stop offset="0.4194" stop-color="#b4b4b4"/><stop offset="0.4258" stop-color="#b4b4b4"/><stop offset="0.4323" stop-color="#b4b4b4"/><stop offset="0.4387" stop-color="#b4b4b4"/><stop offset="0.4452" stop-color="#b4b4b4"/><stop offset="0.4516" stop-color="#b4b4b4"/><stop offset="0.4581" stop-color="#b4b4b4"/><stop offset="0.4645" stop-color="#b4b4b4"/><stop offset="0.4710" stop-color="#b4b4b4"/><stop offset="0.4774" stop-color="#b4b4b4"/><stop offset="0.4839" stop-color="#b4b4b4"/><stop offset="0.4903" stop-color="#b4b4b4"/><stop offset="0.4968" stop-color="#b4b4b4"/><stop offset="0.5032" stop-color="#b4b4b4"/><stop offset="0.5097" stop-color="#b4b4b4"/><stop offset="0.5161" stop-color="#b4b4b4"/><stop offset="0.5226" stop-color="#b4b4b4"/><stop offset="0.5290" stop-color="#b4b4b4"/><stop offset="0.5355" stop-color="#b4b4b4"/><stop offset="0.5419" stop-color="#b4b4b4"/><stop offset="0.5484" stop-color="#b4b4b4"/><stop offset="0.5548" stop-color="#b4b4b4"/><stop offset="0.5613" stop-color="#b4b4b4"/><stop offset="0.5677" stop-color="#b4b4b4"/><stop offset="0.5742" stop-color="#b4b4b4"/><stop offset="0.5806" stop-color="#b4b4b4"/><stop offset="0.5871" stop-color="#b4b4b4"/><stop offset="0.5935" stop-color="#b4b4b4"/><stop offset="0.6000" stop-color="#b4b4b4"/><stop offset="0.6065" stop-color="#b4b4b4"/><stop offset="0.6129" stop-color="#b4b4b4"/><stop offset="0.6194" stop-color="#b4b4b4"/><stop offset="0.6258" stop-color="#b4b4b4"/><stop offset="0.6323" stop-color="#b4b4b4"/><stop offset="0.6387" stop-color="#b4b4b4"/><stop offset="0.6452" stop-color="#b4b4b4"/><stop offset="0.6516" stop-color="#b4b4b4"/><stop offset="0.6581" stop-color="#b4b4b4"/><stop offset="0.6645" stop-color="#b4b4b4"/><stop offset="0.6710" stop-color="#b4b4b4"/><stop offset="0.6774" stop-color="#b4b4b4"/><stop offset="0.6839" stop-color="#b4b4b4"/><stop offset="0.6903" stop-color="#b4b4b4"/><stop offset="0.6968" stop-color="#b4b4b4"/><stop offset="0.7032" stop-color="#b4b4b4"/><stop offset="0.7097" stop-color="#b4b4b4"/><stop offset="0.7161" stop-color="#b4b4b4"/><stop offset="0.7226" stop-color="#b4b4b4"/><stop offset="0.7290" stop-color="#b4b4b4"/><stop offset="0.7355" stop-color="#b4b4b4"/><stop offset="0.7419" stop-color="#b4b4b4"/><stop offset="0.7484" stop-color="#b4b4b4"/><stop offset="0.7548" stop-color="#b4b4b4"/><stop offset="0.7613" stop-color="#b4b4b4"/><stop offset="0.7677" stop-color="#b4b4b4"/><stop offset="0.7742" stop-color="#b4b4b4"/><stop offset="0.7806" stop-color="#b4b4b4"/><stop offset="0.7871" stop-color="#b4b4b4"/><stop offset="0.7935" stop-color="#b4b4b4"/><stop offset="0.8000" stop-color="#b4b4b4"/><stop offset="0.8065" stop-color="#b4b4b4"/><stop offset="0.8129" stop-color="#b4b4b4"/><stop offset="0.8194" stop-color="#b4b4b4"/><stop offset="0.8258" stop-color="#b4b4b4"/><stop offset="0.8323" stop-color="#b4b4b4"/><stop offset="0.8387" stop-color="#b4b4b4"/><stop offset="0.8452" stop-color="#b4b4b4"/><stop offset="0.8516" stop-color="#b3b3b3"/><stop offset="0.8581" stop-color="#b3b3b3"/><stop offset="0.8645" stop-color="#b2b2b2"/><stop offset="0.8710" stop-color="#b1b1b1"/><stop offset="0.8774" stop-color="#b0b0b0"/><stop offset="0.8839" stop-color="#aeaeae"/><stop offset="0.8903" stop-color="#acacac"/><stop offset="0.8968" stop-color="#aaaaaa"/><stop offset="0.9032" stop-color="#a7a7a7"/><stop offset="0.9097" stop-color="#a3a3a3"/><stop offset="0.9161" stop-color="#9f9f9f"/><stop offset="0.9226" stop-color="#9b9b9b"/><stop offset="0.9290" stop-color="#979797"/><stop offset="0.9355" stop-color="#939393"/><stop offset="0.9419" stop-color="#8e8e8e"/><stop offset="0.9484" stop-color="#898989"/><stop offset="0.9548" stop-color="#858585"/><stop offset="0.9613" stop-color="#808080"/><stop offset="0.9677" stop-color="#7b7b7b"/><stop offset="0.9742" stop-color="#767676"/><stop offset="0.9806" stop-color="#727272"/><stop offset="0.9871" stop-color="#6d6d6d"/><stop offset="0.9935" stop-color="#686868"/><stop offset="1.0000" stop-color="#636363"/></linearGradient>
<linearGradient id="g16" gradientUnits="userSpaceOnUse" x1="66.5" x2="686.5" y1="0" y2="0"><stop offset="0.0000" stop-color="#656565"/><stop offset="0.0065" stop-color="#6a6a6a"/><stop offset="0.0129" stop-color="#707070"/><stop offset="0.0194" stop-color="#757575"/><stop offset="0.0258" stop-color="#7b7b7b"/><stop offset="0.0323" stop-color="#808080"/><stop offset="0.0387" stop-color="#868686"/><stop offset="0.0452" stop-color="#8b8b8b"/><stop offset="0.0516" stop-color="#909090"/><stop offset="0.0581" stop-color="#959595"/><stop offset="0.0645" stop-color="#9b9b9b"/><stop offset="0.0710" stop-color="#a0a0a0"/><stop offset="0.0774" stop-color="#a5a5a5"/><stop offset="0.0839" stop-color="#aaaaaa"/><stop offset="0.0903" stop-color="#aeaeae"/><stop offset="0.0968" stop-color="#b2b2b2"/><stop offset="0.1032" stop-color="#b6b6b6"/><stop offset="0.1097" stop-color="#b9b9b9"/><stop offset="0.1161" stop-color="#bbbbbb"/><stop offset="0.1226" stop-color="#bcbcbc"/><stop offset="0.1290" stop-color="#bdbdbd"/><stop offset="0.1355" stop-color="#bdbdbd"/><stop offset="0.1419" stop-color="#bdbdbd"/><stop offset="0.1484" stop-color="#bdbdbd"/><stop offset="0.1548" stop-color="#bdbdbd"/><stop offset="0.1613" stop-color="#bebebe"/><stop offset="0.1677" stop-color="#bebebe"/><stop offset="0.1742" stop-color="#bebebe"/><stop offset="0.1806" stop-color="#bebebe"/><stop offset="0.1871" stop-color="#bebebe"/><stop offset="0.1935" stop-color="#bebebe"/><stop offset="0.2000" stop-color="#bebebe"/><stop offset="0.2065" stop-color="#bfbfbf"/><stop offset="0.2129" stop-color="#bfbfbf"/><stop offset="0.2194" stop-color="#bfbfbf"/><stop offset="0.2258" stop-color="#c0c0c0"/><stop offset="0.2323" stop-color="#c0c0c0"/><stop offset="0.2387" stop-color="#c1c1c1"/><stop offset="0.2452" stop-color="#c1c1c1"/><stop offset="0.2516" stop-color="#c2c2c2"/><stop offset="0.2581" stop-color="#c3c3c3"/><stop offset="0.2645" stop-color="#c4c4c4"/><stop offset="0.2710" stop-color="#c5c5c5"/><stop offset="0.2774" stop-color="#c6c6c6"/><stop offset="0.2839" stop-color="#c8c8c8"/><stop offset="0.2903" stop-color="#c9c9c9"/><stop offset="0.2968" stop-color="#cacaca"/><stop offset="0.3032" stop-color="#cbcbcb"/><stop offset="0.3097" stop-color="#cccccc"/><stop offset="0.3161" stop-color="#cdcdcd"/><stop offset="0.3226" stop-color="#cecece"/><stop offset="0.3290" stop-color="#cfcfcf"/><stop offset="0.3355" stop-color="#cfcfcf"/><stop offset="0.3419" stop-color="#d0d0d0"/><stop offset="0.3484" stop-color="#d0d0d0"/><stop offset="0.3548" stop-color="#d0d0d0"/><stop offset="0.3613" stop-color="#d0d0d0"/><stop offset="0.3677" stop-color="#d0d0d0"/><stop offset="0.3742" stop-color="#d0d0d0"/><stop offset="0.3806" stop-color="#d0d0d0"/><stop offset="0.3871" stop-color="#d0d0d0"/><stop offset="0.3935" stop-color="#cfcfcf"/><stop offset="0.4000" stop-color="#cfcfcf"/><stop offset="0.4065" stop-color="#cecece"/><stop offset="0.4129" stop-color="#cdcdcd"/><stop offset="0.4194" stop-color="#cccccc"/><stop offset="0.4258" stop-color="#cbcbcb"/><stop offset="0.4323" stop-color="#c9c9c9"/><stop offset="0.4387" stop-color="#c8c8c8"/><stop offset="0.4452" stop-color="#c6c6c6"/><stop offset="0.4516" stop-color="#c5c5c5"/><stop offset="0.4581" stop-color="#c3c3c3"/><stop offset="0.4645" stop-color="#c2c2c2"/><stop offset="0.4710" stop-color="#c0c0c0"/><stop offset="0.4774" stop-color="#bfbfbf"/><stop offset="0.4839" stop-color="#bdbdbd"/><stop offset="0.4903" stop-color="#bcbcbc"/><stop offset="0.4968" stop-color="#bababa"/><stop offset="0.5032" stop-color="#b9b9b9"/><stop offset="0.5097" stop-color="#b8b8b8"/><stop offset="0.5161" stop-color="#b7b7b7"/><stop offset="0.5226" stop-color="#b6b6b6"/><stop offset="0.5290" stop-color="#b5b5b5"/><stop offset="0.5355" stop-color="#b5b5b5"/><stop offset="0.5419" stop-color="#b4b4b4"/><stop offset="0.5484" stop-color="#b3b3b3"/><stop offset="0.5548" stop-color="#b3b3b3"/><stop offset="0.5613" stop-color="#b2b2b2"/><stop offset="0.5677" stop-color="#b2b2b2"/><stop offset="0.5742" stop-color="#b1b1b1"/><stop offset="0.5806" stop-color="#b1b1b1"/><stop offset="0.5871" stop-color="#b1b1b1"/><stop offset="0.5935" stop-color="#b0b0b0"/><stop offset="0.6000" stop-color="#b0b0b0"/><stop offset="0.6065" stop-color="#b0b0b0"/><stop offset="0.6129" stop-color="#b0b0b0"/><stop offset="0.6194" stop-color="#b0b0b0"/><stop offset="0.6258" stop-color="#b0b0b0"/><stop offset="0.6323" stop-color="#b0b0b0"/><stop offset="0.6387" stop-color="#afafaf"/><stop offset="0.6452" stop-color="#afafaf"/><stop offset="0.6516" stop-color="#afafaf"/><stop offset="0.6581" stop-color="#afafaf"/><stop offset="0.6645" stop-color="#afafaf"/><stop offset="0.6710" stop-color="#afafaf"/><stop offset="0.6774" stop-color="#afafaf"/><stop offset="0.6839" stop-color="#afafaf"/><stop offset="0.6903" stop-color="#afafaf"/><stop offset="0.6968" stop-color="#afafaf"/><stop offset="0.7032" stop-color="#afafaf"/><stop offset="0.7097" stop-color="#afafaf"/><stop offset="0.7161" stop-color="#afafaf"/><stop offset="0.7226" stop-color="#afafaf"/><stop offset="0.7290" stop-color="#afafaf"/><stop offset="0.7355" stop-color="#afafaf"/><stop offset="0.7419" stop-color="#afafaf"/><stop offset="0.7484" stop-color="#afafaf"/><stop offset="0.7548" stop-color="#afafaf"/><stop offset="0.7613" stop-color="#afafaf"/><stop offset="0.7677" stop-color="#afafaf"/><stop offset="0.7742" stop-color="#afafaf"/><stop offset="0.7806" stop-color="#afafaf"/><stop offset="0.7871" stop-color="#afafaf"/><stop offset="0.7935" stop-color="#afafaf"/><stop offset="0.8000" stop-color="#afafaf"/><stop offset="0.8065" stop-color="#afafaf"/><stop offset="0.8129" stop-color="#afafaf"/><stop offset="0.8194" stop-color="#afafaf"/><stop offset="0.8258" stop-color="#afafaf"/><stop offset="0.8323" stop-color="#afafaf"/><stop offset="0.8387" stop-color="#afafaf"/><stop offset="0.8452" stop-color="#afafaf"/><stop offset="0.8516" stop-color="#aeaeae"/><stop offset="0.8581" stop-color="#aeaeae"/><stop offset="0.8645" stop-color="#aeaeae"/><stop offset="0.8710" stop-color="#adadad"/><stop offset="0.8774" stop-color="#adadad"/><stop offset="0.8839" stop-color="#acacac"/><stop offset="0.8903" stop-color="#ababab"/><stop offset="0.8968" stop-color="#a9a9a9"/><stop offset="0.9032" stop-color="#a7a7a7"/><stop offset="0.9097" stop-color="#a4a4a4"/><stop offset="0.9161" stop-color="#a1a1a1"/><stop offset="0.9226" stop-color="#9e9e9e"/><stop offset="0.9290" stop-color="#9a9a9a"/><stop offset="0.9355" stop-color="#969696"/><stop offset="0.9419" stop-color="#929292"/><stop offset="0.9484" stop-color="#8d8d8d"/><stop offset="0.9548" stop-color="#888888"/><stop offset="0.9613" stop-color="#848484"/><stop offset="0.9677" stop-color="#7f7f7f"/><stop offset="0.9742" stop-color="#7a7a7a"/><stop offset="0.9806" stop-color="#767676"/><stop offset="0.9871" stop-color="#717171"/><stop offset="0.9935" stop-color="#6c6c6c"/><stop offset="1.0000" stop-color="#676767"/></linearGradient>
<linearGradient id="g17" gradientUnits="userSpaceOnUse" x1="66.5" x2="686.5" y1="0" y2="0"><stop offset="0.0000" stop-color="#4d4d4d"/><stop offset="0.0065" stop-color="#525252"/><stop offset="0.0129" stop-color="#585858"/><stop offset="0.0194" stop-color="#5d5d5d"/><stop offset="0.0258" stop-color="#626262"/><stop offset="0.0323" stop-color="#676767"/><stop offset="0.0387" stop-color="#6c6c6c"/><stop offset="0.0452" stop-color="#717171"/><stop offset="0.0516" stop-color="#767676"/><stop offset="0.0581" stop-color="#7b7b7b"/><stop offset="0.0645" stop-color="#808080"/><stop offset="0.0710" stop-color="#858585"/><stop offset="0.0774" stop-color="#8a8a8a"/><stop offset="0.0839" stop-color="#8f8f8f"/><stop offset="0.0903" stop-color="#949494"/><stop offset="0.0968" stop-color="#999999"/><stop offset="0.1032" stop-color="#9e9e9e"/><stop offset="0.1097" stop-color="#a2a2a2"/><stop offset="0.1161" stop-color="#a6a6a6"/><stop offset="0.1226" stop-color="#a9a9a9"/><stop offset="0.1290" stop-color="#ababab"/><stop offset="0.1355" stop-color="#adadad"/><stop offset="0.1419" stop-color="#aeaeae"/><stop offset="0.1484" stop-color="#aeaeae"/><stop offset="0.1548" stop-color="#afafaf"/><stop offset="0.1613" stop-color="#afafaf"/><stop offset="0.1677" stop-color="#afafaf"/><stop offset="0.1742" stop-color="#afafaf"/><stop offset="0.1806" stop-color="#afafaf"/><stop offset="0.1871" stop-color="#afafaf"/><stop offset="0.1935" stop-color="#afafaf"/><stop offset="0.2000" stop-color="#afafaf"/><stop offset="0.2065" stop-color="#afafaf"/><stop offset="0.2129" stop-color="#afafaf"/><stop offset="0.2194" stop-color="#afafaf"/><stop offset="0.2258" stop-color="#afafaf"/><stop offset="0.2323" stop-color="#afafaf"/><stop offset="0.2387" stop-color="#afafaf"/><stop offset="0.2452" stop-color="#afafaf"/><stop offset="0.2516" stop-color="#afafaf"/><stop offset="0.2581" stop-color="#afafaf"/><stop offset="0.2645" stop-color="#afafaf"/><stop offset="0.2710" stop-color="#afafaf"/><stop offset="0.2774" stop-color="#afafaf"/><stop offset="0.2839" stop-color="#afafaf"/><stop offset="0.2903" stop-color="#afafaf"/><stop offset="0.2968" stop-color="#afafaf"/><stop offset="0.3032" stop-color="#afafaf"/><stop offset="0.3097" stop-color="#afafaf"/><stop offset="0.3161" stop-color="#afafaf"/><stop offset="0.3226" stop-color="#afafaf"/><stop offset="0.3290" stop-color="#afafaf"/><stop offset="0.3355" stop-color="#afafaf"/><stop offset="0.3419" stop-color="#afafaf"/><stop offset="0.3484" stop-color="#afafaf"/><stop offset="0.3548" stop-color="#afafaf"/><stop offset="0.3613" stop-color="#afafaf"/><stop offset="0.3677" stop-color="#afafaf"/><stop offset="0.3742" stop-color="#afafaf"/><stop offset="0.3806" stop-color="#afafaf"/><stop offset="0.3871" stop-color="#afafaf"/><stop offset="0.3935" stop-color="#afafaf"/><stop offset="0.4000" stop-color="#afafaf"/><stop offset="0.4065" stop-color="#afafaf"/><stop offset="0.4129" stop-color="#afafaf"/><stop offset="0.4194" stop-color="#afafaf"/><stop offset="0.4258" stop-color="#afafaf"/><stop offset="0.4323" stop-color="#afafaf"/><stop offset="0.4387" stop-color="#afafaf"/><stop offset="0.4452" stop-color="#afafaf"/><stop offset="0.4516" stop-color="#afafaf"/><stop offset="0.4581" stop-color="#afafaf"/><stop offset="0.4645" stop-color="#afafaf"/><stop offset="0.4710" stop-color="#afafaf"/><stop offset="0.4774" stop-color="#afafaf"/><stop offset="0.4839" stop-color="#afafaf"/><stop offset="0.4903" stop-color="#afafaf"/><stop offset="0.4968" stop-color="#afafaf"/><stop offset="0.5032" stop-color="#afafaf"/><stop offset="0.5097" stop-color="#afafaf"/><stop offset="0.5161" stop-color="#afafaf"/><stop offset="0.5226" stop-color="#afafaf"/><stop offset="0.5290" stop-color="#afafaf"/><stop offset="0.5355" stop-color="#afafaf"/><stop offset="0.5419" stop-color="#afafaf"/><stop offset="0.5484" stop-color="#afafaf"/><stop offset="0.5548" stop-color="#afafaf"/><stop offset="0.5613" stop-color="#afafaf"/><stop offset="0.5677" stop-color="#afafaf"/><stop offset="0.5742" stop-color="#afafaf"/><stop offset="0.5806" stop-color="#afafaf"/><stop offset="0.5871" stop-color="#afafaf"/><stop offset="0.5935" stop-color="#afafaf"/><stop offset="0.6000" stop-color="#afafaf"/><stop offset="0.6065" stop-color="#afafaf"/><stop offset="0.6129" stop-color="#afafaf"/><stop offset="0.6194" stop-color="#afafaf"/><stop offset="0.6258" stop-color="#afafaf"/><stop offset="0.6323" stop-color="#afafaf"/><stop offset="0.6387" stop-color="#afafaf"/><stop offset="0.6452" stop-color="#afafaf"/><stop offset="0.6516" stop-color="#afafaf"/><stop offset="0.6581" stop-color="#afafaf"/><stop offset="0.6645" stop-color="#afafaf"/><stop offset="0.6710" stop-color="#afafaf"/><stop offset="0.6774" stop-color="#afafaf"/><stop offset="0.6839" stop-color="#afafaf"/><stop offset="0.6903" stop-color="#afafaf"/><stop offset="0.6968" stop-color="#afafaf"/><stop offset="0.7032" stop-color="#afafaf"/><stop offset="0.7097" stop-color="#afafaf"/><stop offset="0.7161" stop-color="#afafaf"/><stop offset="0.7226" stop-color="#afafaf"/><stop offset="0.7290" stop-color="#afafaf"/><stop offset="0.7355" stop-color="#afafaf"/><stop offset="0.7419" stop-color="#afafaf"/><stop offset="0.7484" stop-color="#afafaf"/><stop offset="0.7548" stop-color="#afafaf"/><stop offset="0.7613" stop-color="#afafaf"/><stop offset="0.7677" stop-color="#afafaf"/><stop offset="0.7742" stop-color="#afafaf"/><stop offset="0.7806" stop-color="#afafaf"/><stop offset="0.7871" stop-color="#afafaf"/><stop offset="0.7935" stop-color="#afafaf"/><stop offset="0.8000" stop-color="#afafaf"/><stop offset="0.8065" stop-color="#afafaf"/><stop offset="0.8129" stop-color="#aeaeae"/><stop offset="0.8194" stop-color="#aeaeae"/><stop offset="0.8258" stop-color="#aeaeae"/><stop offset="0.8323" stop-color="#aeaeae"/><stop offset="0.8387" stop-color="#adadad"/><stop offset="0.8452" stop-color="#acacac"/><stop offset="0.8516" stop-color="#ababab"/><stop offset="0.8581" stop-color="#aaaaaa"/><stop offset="0.8645" stop-color="#a8a8a8"/><stop offset="0.8710" stop-color="#a6a6a6"/><stop offset="0.8774" stop-color="#a3a3a3"/><stop offset="0.8839" stop-color="#a0a0a0"/><stop offset="0.8903" stop-color="#9c9c9c"/><stop offset="0.8968" stop-color="#989898"/><stop offset="0.9032" stop-color="#949494"/><stop offset="0.9097" stop-color="#8f8f8f"/><stop offset="0.9161" stop-color="#8b8b8b"/><stop offset="0.9226" stop-color="#868686"/><stop offset="0.9290" stop-color="#818181"/><stop offset="0.9355" stop-color="#7d7d7d"/><stop offset="0.9419" stop-color="#787878"/><stop offset="0.9484" stop-color="#737373"/><stop offset="0.9548" stop-color="#6e6e6e"/><stop offset="0.9613" stop-color="#6a6a6a"/><stop offset="0.9677" stop-color="#656565"/><stop offset="0.9742" stop-color="#606060"/><stop offset="0.9806" stop-color="#5b5b5b"/><stop offset="0.9871" stop-color="#565656"/><stop offset="0.9935" stop-color="#525252"/><stop offset="1.0000" stop-color="#4d4d4d"/></linearGradient>
<linearGradient id="g18" gradientUnits="userSpaceOnUse" x1="66.5" x2="686.5" y1="0" y2="0"><stop offset="0.0000" stop-color="#484848"/><stop offset="0.0065" stop-color="#4d4d4d"/><stop offset="0.0129" stop-color="#525252"/><stop offset="0.0194" stop-color="#575757"/><stop offset="0.0258" stop-color="#5c5c5c"/><stop offset="0.0323" stop-color="#616161"/><stop offset="0.0387" stop-color="#666666"/><stop offset="0.0452" stop-color="#6c6c6c"/><stop offset="0.0516" stop-color="#717171"/><stop offset="0.0581" stop-color="#767676"/><stop offset="0.0645" stop-color="#7b7b7b"/><stop offset="0.0710" stop-color="#808080"/><stop offset="0.0774" stop-color="#858585"/><stop offset="0.0839" stop-color="#8a8a8a"/><stop offset="0.0903" stop-color="#8f8f8f"/><stop offset="0.0968" stop-color="#949494"/><stop offset="0.1032" stop-color="#999999"/><stop offset="0.1097" stop-color="#9d9d9d"/><stop offset="0.1161" stop-color="#a1a1a1"/><stop offset="0.1226" stop-color="#a4a4a4"/><stop offset="0.1290" stop-color="#a6a6a6"/><stop offset="0.1355" stop-color="#a7a7a7"/><stop offset="0.1419" stop-color="#a8a8a8"/><stop offset="0.1484" stop-color="#a9a9a9"/><stop offset="0.1548" stop-color="#a9a9a9"/><stop offset="0.1613" stop-color="#a9a9a9"/><stop offset="0.1677" stop-color="#a9a9a9"/><stop offset="0.1742" stop-color="#a9a9a9"/><stop offset="0.1806" stop-color="#a9a9a9"/><stop offset="0.1871" stop-color="#a9a9a9"/><stop offset="0.1935" stop-color="#a9a9a9"/><stop offset="0.2000" stop-color="#a9a9a9"/><stop offset="0.2065" stop-color="#a9a9a9"/><stop offset="0.2129" stop-color="#a9a9a9"/><stop offset="0.2194" stop-color="#a9a9a9"/><stop offset="0.2258" stop-color="#a9a9a9"/><stop offset="0.2323" stop-color="#a9a9a9"/><stop offset="0.2387" stop-color="#a9a9a9"/><stop offset="0.2452" stop-color="#a9a9a9"/><stop offset="0.2516" stop-color="#a9a9a9"/><stop offset="0.2581" stop-color="#a9a9a9"/><stop offset="0.2645" stop-color="#a9a9a9"/><stop offset="0.2710" stop-color="#a9a9a9"/><stop offset="0.2774" stop-color="#a9a9a9"/><stop offset="0.2839" stop-color="#a9a9a9"/><stop offset="0.2903" stop-color="#a9a9a9"/><stop offset="0.2968" stop-color="#a9a9a9"/><stop offset="0.3032" stop-color="#a9a9a9"/><stop offset="0.3097" stop-color="#a9a9a9"/><stop offset="0.3161" stop-color="#a9a9a9"/><stop offset="0.3226" stop-color="#a9a9a9"/><stop offset="0.3290" stop-color="#a9a9a9"/><stop offset="0.3355" stop-color="#a9a9a9"/><stop offset="0.3419" stop-color="#a9a9a9"/><stop offset="0.3484" stop-color="#a9a9a9"/><stop offset="0.3548" stop-color="#a9a9a9"/><stop offset="0.3613" stop-color="#a9a9a9"/><stop offset="0.3677" stop-color="#a9a9a9"/><stop offset="0.3742" stop-color="#a9a9a9"/><stop offset="0.3806" stop-color="#a9a9a9"/><stop offset="0.3871" stop-color="#a9a9a9"/><stop offset="0.3935" stop-color="#a9a9a9"/><stop offset="0.4000" stop-color="#a9a9a9"/><stop offset="0.4065" stop-color="#a9a9a9"/><stop offset="0.4129" stop-color="#a9a9a9"/><stop offset="0.4194" stop-color="#a9a9a9"/><stop offset="0.4258" stop-color="#a9a9a9"/><stop offset="0.4323" stop-color="#a9a9a9"/><stop offset="0.4387" stop-color="#a9a9a9"/><stop offset="0.4452" stop-color="#a9a9a9"/><stop offset="0.4516" stop-color="#a9a9a9"/><stop offset="0.4581" stop-color="#a9a9a9"/><stop offset="0.4645" stop-color="#a9a9a9"/><stop offset="0.4710" stop-color="#a9a9a9"/><stop offset="0.4774" stop-color="#a9a9a9"/><stop offset="0.4839" stop-color="#a9a9a9"/><stop offset="0.4903" stop-color="#a9a9a9"/><stop offset="0.4968" stop-color="#a9a9a9"/><stop offset="0.5032" stop-color="#a9a9a9"/><stop offset="0.5097" stop-color="#a9a9a9"/><stop offset="0.5161" stop-color="#a9a9a9"/><stop offset="0.5226" stop-color="#a9a9a9"/><stop offset="0.5290" stop-color="#a9a9a9"/><stop offset="0.5355" stop-color="#a9a9a9"/><stop offset="0.5419" stop-color="#a9a9a9"/><stop offset="0.5484" stop-color="#a9a9a9"/><stop offset="0.5548" stop-color="#a9a9a9"/><stop offset="0.5613" stop-color="#a9a9a9"/><stop offset="0.5677" stop-color="#a9a9a9"/><stop offset="0.5742" stop-color="#a9a9a9"/><stop offset="0.5806" stop-color="#a9a9a9"/><stop offset="0.5871" stop-color="#a9a9a9"/><stop offset="0.5935" stop-color="#a9a9a9"/><stop offset="0.6000" stop-color="#a9a9a9"/><stop offset="0.6065" stop-color="#a9a9a9"/><stop offset="0.6129" stop-color="#a9a9a9"/><stop offset="0.6194" stop-color="#a9a9a9"/><stop offset="0.6258" stop-color="#a9a9a9"/><stop offset="0.6323" stop-color="#a9a9a9"/><stop offset="0.6387" stop-color="#a9a9a9"/><stop offset="0.6452" stop-color="#a9a9a9"/><stop offset="0.6516" stop-color="#a9a9a9"/><stop offset="0.6581" stop-color="#a9a9a9"/><stop offset="0.6645" stop-color="#a9a9a9"/><stop offset="0.6710" stop-color="#a9a9a9"/><stop offset="0.6774" stop-color="#a9a9a9"/><stop offset="0.6839" stop-color="#a9a9a9"/><stop offset="0.6903" stop-color="#a9a9a9"/><stop offset="0.6968" stop-color="#a9a9a9"/><stop offset="0.7032" stop-color="#a9a9a9"/><stop offset="0.7097" stop-color="#a9a9a9"/><stop offset="0.7161" stop-color="#a9a9a9"/><stop offset="0.7226" stop-color="#a9a9a9"/><stop offset="0.7290" stop-color="#a9a9a9"/><stop offset="0.7355" stop-color="#a9a9a9"/><stop offset="0.7419" stop-color="#a9a9a9"/><stop offset="0.7484" stop-color="#a9a9a9"/><stop offset="0.7548" stop-color="#a9a9a9"/><stop offset="0.7613" stop-color="#a9a9a9"/><stop offset="0.7677" stop-color="#a9a9a9"/><stop offset="0.7742" stop-color="#a9a9a9"/><stop offset="0.7806" stop-color="#a9a9a9"/><stop offset="0.7871" stop-color="#a9a9a9"/><stop offset="0.7935" stop-color="#a9a9a9"/><stop offset="0.8000" stop-color="#a9a9a9"/><stop offset="0.8065" stop-color="#a9a9a9"/><stop offset="0.8129" stop-color="#a9a9a9"/><stop offset="0.8194" stop-color="#a9a9a9"/><stop offset="0.8258" stop-color="#a9a9a9"/><stop offset="0.8323" stop-color="#a8a8a8"/><stop offset="0.8387" stop-color="#a8a8a8"/><stop offset="0.8452" stop-color="#a7a7a7"/><stop offset="0.8516" stop-color="#a6a6a6"/><stop offset="0.8581" stop-color="#a4a4a4"/><stop offset="0.8645" stop-color="#a2a2a2"/><stop offset="0.8710" stop-color="#a0a0a0"/><stop offset="0.8774" stop-color="#9d9d9d"/><stop offset="0.8839" stop-color="#9a9a9a"/><stop offset="0.8903" stop-color="#969696"/><stop offset="0.8968" stop-color="#929292"/><stop offset="0.9032" stop-color="#8e8e8e"/><stop offset="0.9097" stop-color="#8a8a8a"/><stop offset="0.9161" stop-color="#858585"/><stop offset="0.9226" stop-color="#818181"/><stop offset="0.9290" stop-color="#7c7c7c"/><stop offset="0.9355" stop-color="#777777"/><stop offset="0.9419" stop-color="#737373"/><stop offset="0.9484" stop-color="#6e6e6e"/><stop offset="0.9548" stop-color="#696969"/><stop offset="0.9613" stop-color="#646464"/><stop offset="0.9677" stop-color="#5f5f5f"/><stop offset="0.9742" stop-color="#5b5b5b"/><stop offset="0.9806" stop-color="#565656"/><stop offset="0.9871" stop-color="#515151"/><stop offset="0.9935" stop-color="#4c4c4c"/><stop offset="1.0000" stop-color="#474747"/></linearGradient>
<linearGradient id="g19" gradientUnits="userSpaceOnUse" x1="66.5" x2="686.5" y1="0" y2="0"><stop offset="0.0000" stop-color="#4a4a4a"/><stop offset="0.0065" stop-color="#4f4f4f"/><stop offset="0.0129" stop-color="#545454"/><stop offset="0.0194" stop-color="#595959"/><stop offset="0.0258" stop-color="#5e5e5e"/><stop offset="0.0323" stop-color="#636363"/><stop offset="0.0387" stop-color="#686868"/><stop offset="0.0452" stop-color="#6d6d6d"/><stop offset="0.0516" stop-color="#727272"/><stop offset="0.0581" stop-color="#787878"/><stop offset="0.0645" stop-color="#7d7d7d"/><stop offset="0.0710" stop-color="#828282"/><stop offset="0.0774" stop-color="#878787"/><stop offset="0.0839" stop-color="#8c8c8c"/><stop offset="0.0903" stop-color="#919191"/><stop offset="0.0968" stop-color="#969696"/><stop offset="0.1032" stop-color="#9a9a9a"/><stop offset="0.1097" stop-color="#9f9f9f"/><stop offset="0.1161" stop-color="#a3a3a3"/><stop offset="0.1226" stop-color="#a6a6a6"/><stop offset="0.1290" stop-color="#a8a8a8"/><stop offset="0.1355" stop-color="#a9a9a9"/><stop offset="0.1419" stop-color="#aaaaaa"/><stop offset="0.1484" stop-color="#ababab"/><stop offset="0.1548" stop-color="#ababab"/><stop offset="0.1613" stop-color="#ababab"/><stop offset="0.1677" stop-color="#ababab"/><stop offset="0.1742" stop-color="#ababab"/><stop offset="0.1806" stop-color="#ababab"/><stop offset="0.1871" stop-color="#ababab"/><stop offset="0.1935" stop-color="#ababab"/><stop offset="0.2000" stop-color="#ababab"/><stop offset="0.2065" stop-color="#ababab"/><stop offset="0.2129" stop-color="#ababab"/><stop offset="0.2194" stop-color="#ababab"/><stop offset="0.2258" stop-color="#ababab"/><stop offset="0.2323" stop-color="#ababab"/><stop offset="0.2387" stop-color="#ababab"/><stop offset="0.2452" stop-color="#ababab"/><stop offset="0.2516" stop-color="#ababab"/><stop offset="0.2581" stop-color="#ababab"/><stop offset="0.2645" stop-color="#ababab"/><stop offset="0.2710" stop-color="#ababab"/><stop offset="0.2774" stop-color="#ababab"/><stop offset="0.2839" stop-color="#ababab"/><stop offset="0.2903" stop-color="#ababab"/><stop offset="0.2968" stop-color="#ababab"/><stop offset="0.3032" stop-color="#ababab"/><stop offset="0.3097" stop-color="#ababab"/><stop offset="0.3161" stop-color="#ababab"/><stop offset="0.3226" stop-color="#ababab"/><stop offset="0.3290" stop-color="#ababab"/><stop offset="0.3355" stop-color="#ababab"/><stop offset="0.3419" stop-color="#ababab"/><stop offset="0.3484" stop-color="#ababab"/><stop offset="0.3548" stop-color="#ababab"/><stop offset="0.3613" stop-color="#ababab"/><stop offset="0.3677" stop-color="#ababab"/><stop offset="0.3742" stop-color="#ababab"/><stop offset="0.3806" stop-color="#ababab"/><stop offset="0.3871" stop-color="#ababab"/><stop offset="0.3935" stop-color="#ababab"/><stop offset="0.4000" stop-color="#ababab"/><stop offset="0.4065" stop-color="#ababab"/><stop offset="0.4129" stop-color="#ababab"/><stop offset="0.4194" stop-color="#ababab"/><stop offset="0.4258" stop-color="#ababab"/><stop offset="0.4323" stop-color="#ababab"/><stop offset="0.4387" stop-color="#ababab"/><stop offset="0.4452" stop-color="#ababab"/><stop offset="0.4516" stop-color="#ababab"/><stop offset="0.4581" stop-color="#ababab"/><stop offset="0.4645" stop-color="#ababab"/><stop offset="0.4710" stop-color="#ababab"/><stop offset="0.4774" stop-color="#ababab"/><stop offset="0.4839" stop-color="#ababab"/><stop offset="0.4903" stop-color="#ababab"/><stop offset="0.4968" stop-color="#ababab"/><stop offset="0.5032" stop-color="#ababab"/><stop offset="0.5097" stop-color="#ababab"/><stop offset="0.5161" stop-color="#ababab"/><stop offset="0.5226" stop-color="#ababab"/><stop offset="0.5290" stop-color="#ababab"/><stop offset="0.5355" stop-color="#ababab"/><stop offset="0.5419" stop-color="#ababab"/><stop offset="0.5484" stop-color="#ababab"/><stop offset="0.5548" stop-color="#ababab"/><stop offset="0.5613" stop-color="#ababab"/><stop offset="0.5677" stop-color="#ababab"/><stop offset="0.5742" stop-color="#ababab"/><stop offset="0.5806" stop-color="#ababab"/><stop offset="0.5871" stop-color="#ababab"/><stop offset="0.5935" stop-color="#ababab"/><stop offset="0.6000" stop-color="#ababab"/><stop offset="0.6065" stop-color="#ababab"/><stop offset="0.6129" stop-color="#ababab"/><stop offset="0.6194" stop-color="#ababab"/><stop offset="0.6258" stop-color="#ababab"/><stop offset="0.6323" stop-color="#ababab"/><stop offset="0.6387" stop-color="#ababab"/><stop offset="0.6452" stop-color="#ababab"/><stop offset="0.6516" stop-color="#ababab"/><stop offset="0.6581" stop-color="#ababab"/><stop offset="0.6645" stop-color="#ababab"/><stop offset="0.6710" stop-color="#ababab"/><stop offset="0.6774" stop-color="#ababab"/><stop offset="0.6839" stop-color="#ababab"/><stop offset="0.6903" stop-color="#ababab"/><stop offset="0.6968" stop-color="#ababab"/><stop offset="0.7032" stop-color="#ababab"/><stop offset="0.7097" stop-color="#ababab"/><stop offset="0.7161" stop-color="#ababab"/><stop offset="0.7226" stop-color="#ababab"/><stop offset="0.7290" stop-color="#ababab"/><stop offset="0.7355" stop-color="#ababab"/><stop offset="0.7419" stop-color="#ababab"/><stop offset="0.7484" stop-color="#ababab"/><stop offset="0.7548" stop-color="#ababab"/><stop offset="0.7613" stop-color="#ababab"/><stop offset="0.7677" stop-color="#ababab"/><stop offset="0.7742" stop-color="#ababab"/><stop offset="0.7806" stop-color="#ababab"/><stop offset="0.7871" stop-color="#ababab"/><stop offset="0.7935" stop-color="#ababab"/><stop offset="0.8000" stop-color="#ababab"/><stop offset="0.8065" stop-color="#ababab"/><stop offset="0.8129" stop-color="#ababab"/><stop offset="0.8194" stop-color="#ababab"/><stop offset="0.8258" stop-color="#aaaaaa"/><stop offset="0.8323" stop-color="#aaaaaa"/><stop offset="0.8387" stop-color="#a9a9a9"/><stop offset="0.8452" stop-color="#a9a9a9"/><stop offset="0.8516" stop-color="#a8a8a8"/><stop offset="0.8581" stop-color="#a6a6a6"/><stop offset="0.8645" stop-color="#a4a4a4"/><stop offset="0.8710" stop-color="#a2a2a2"/><stop offset="0.8774" stop-color="#9f9f9f"/><stop offset="0.8839" stop-color="#9c9c9c"/><stop offset="0.8903" stop-color="#989898"/><stop offset="0.8968" stop-color="#949494"/><stop offset="0.9032" stop-color="#909090"/><stop offset="0.9097" stop-color="#8c8c8c"/><stop offset="0.9161" stop-color="#878787"/><stop offset="0.9226" stop-color="#838383"/><stop offset="0.9290" stop-color="#7e7e7e"/><stop offset="0.9355" stop-color="#797979"/><stop offset="0.9419" stop-color="#747474"/><stop offset="0.9484" stop-color="#707070"/><stop offset="0.9548" stop-color="#6b6b6b"/><stop offset="0.9613" stop-color="#666666"/><stop offset="0.9677" stop-color="#616161"/><stop offset="0.9742" stop-color="#5c5c5c"/><stop offset="0.9806" stop-color="#585858"/><stop offset="0.9871" stop-color="#535353"/><stop offset="0.9935" stop-color="#4e4e4e"/><stop offset="1.0000" stop-color="#494949"/></linearGradient>
<linearGradient id="cb" x1="0" x2="0" y1="0" y2="1"><stop offset="0.0000" stop-color="#fde725"/><stop offset="0.0312" stop-color="#ece51b"/><stop offset="0.0625" stop-color="#d8e219"/><stop offset="0.0938" stop-color="#c2df23"/><stop offset="0.1250" stop-color="#addc30"/><stop offset="0.1562" stop-color="#98d83e"/><stop offset="0.1875" stop-color="#84d44b"/><stop offset="0.2188" stop-color="#70cf57"/><stop offset="0.2500" stop-color="#5ec962"/><stop offset="0.2812" stop-color="#4ec36b"/><stop offset="0.3125" stop-color="#3fbc73"/><stop offset="0.3438" stop-color="#32b67a"/><stop offset="0.3750" stop-color="#28ae80"/><stop offset="0.4062" stop-color="#22a785"/><stop offset="0.4375" stop-color="#1fa088"/><stop offset="0.4688" stop-color="#1f988b"/><stop offset="0.5000" stop-color="#21918c"/><stop offset="0.5312" stop-color="#23898e"/><stop offset="0.5625" stop-color="#26828e"/><stop offset="0.5938" stop-color="#297a8e"/><stop offset="0.6250" stop-color="#2c728e"/><stop offset="0.6562" stop-color="#2f6b8e"/><stop offset="0.6875" stop-color="#33638d"/><stop offset="0.7188" stop-color="#375b8d"/><stop offset="0.7500" stop-color="#3b528b"/><stop offset="0.7812" stop-color="#3e4989"/><stop offset="0.8125" stop-color="#424086"/><stop offset="0.8438" stop-color="#453781"/><stop offset="0.8750" stop-color="#472d7b"/><stop offset="0.9062" stop-color="#482374"/><stop offset="0.9375" stop-color="#48186a"/><stop offset="0.9688" stop-color="#470d60"/><stop offset="1.0000" stop-color="#440154"/></linearGradient>
<filter id="nz" filterUnits="userSpaceOnUse" x="66.5" y="10.5" width="620.0" height="1540.0" color-interpolation-filters="sRGB">
<feTurbulence type="fractalNoise" baseFrequency="0.8" numOctaves="1" seed="7"/>
<feColorMatrix type="matrix" values="1 0 0 0 0  1 0 0 0 0  1 0 0 0 0  0 0 0 0 1" result="a"/>
<feTurbulence type="fractalNoise" baseFrequency="0.41" numOctaves="1" seed="11"/>
<feColorMatrix type="matrix" values="1 0 0 0 0  1 0 0 0 0  1 0 0 0 0  0 0 0 0 1" result="b"/>
<feComposite in="a" in2="b" operator="arithmetic" k1="0" k2="1" k3="0.45" k4="-0.225" result="ab"/>
<feTurbulence type="fractalNoise" baseFrequency="0.19" numOctaves="1" seed="23"/>
<feColorMatrix type="matrix" values="1 0 0 0 0  1 0 0 0 0  1 0 0 0 0  0 0 0 0 1" result="c"/>
<feComposite in="ab" in2="c" operator="arithmetic" k1="0" k2="1" k3="0.2" k4="-0.1"/>
<feComponentTransfer result="n"><feFuncR type="table" tableValues="0.000 0.000 0.000 0.000 0.000 0.000 0.000 0.000 0.000 0.000 0.000 0.024 0.058 0.080 0.106 0.131 0.154 0.181 0.206 0.231 0.251 0.274 0.294 0.313 0.330 0.348 0.364 0.380 0.396 0.410 0.424 0.438 0.451 0.464 0.477 0.489 0.502 0.514 0.526 0.537 0.549 0.561 0.573 0.584 0.596 0.607 0.617 0.628 0.638 0.649 0.659 0.669 0.678 0.688 0.698 0.707 0.717 0.726 0.735 0.745 0.754 0.763 0.773 0.783 0.793 0.802 0.811 0.821 0.831 0.841 0.851 0.860 0.870 0.880 0.892 0.897 0.901 0.909 0.914 0.924 0.924 0.924 0.924 0.924 0.924 0.924"/><feFuncG type="table" tableValues="0.000 0.000 0.000 0.000 0.000 0.000 0.000 0.000 0.000 0.000 0.000 0.024 0.058 0.080 0.106 0.131 0.154 0.181 0.206 0.231 0.251 0.274 0.294 0.313 0.330 0.348 0.364 0.380 0.396 0.410 0.424 0.438 0.451 0.464 0.477 0.489 0.502 0.514 0.526 0.537 0.549 0.561 0.573 0.584 0.596 0.607 0.617 0.628 0.638 0.649 0.659 0.669 0.678 0.688 0.698 0.707 0.717 0.726 0.735 0.745 0.754 0.763 0.773 0.783 0.793 0.802 0.811 0.821 0.831 0.841 0.851 0.860 0.870 0.880 0.892 0.897 0.901 0.909 0.914 0.924 0.924 0.924 0.924 0.924 0.924 0.924"/><feFuncB type="table" tableValues="0.000 0.000 0.000 0.000 0.000 0.000 0.000 0.000 0.000 0.000 0.000 0.024 0.058 0.080 0.106 0.131 0.154 0.181 0.206 0.231 0.251 0.274 0.294 0.313 0.330 0.348 0.364 0.380 0.396 0.410 0.424 0.438 0.451 0.464 0.477 0.489 0.502 0.514 0.526 0.537 0.549 0.561 0.573 0.584 0.596 0.607 0.617 0.628 0.638 0.649 0.659 0.669 0.678 0.688 0.698 0.707 0.717 0.726 0.735 0.745 0.754 0.763 0.773 0.783 0.793 0.802 0.811 0.821 0.831 0.841 0.851 0.860 0.870 0.880 0.892 0.897 0.901 0.909 0.914 0.924 0.924 0.924 0.924 0.924 0.924 0.924"/></feComponentTransfer>
<feComposite in="SourceGraphic" in2="n" operator="arithmetic" k1="0" k2="1" k3="0.2857" k4="-0.1714"/>
<feComponentTransfer><feFuncR type="table" tableValues="0.267 0.267 0.267 0.267 0.267 0.267 0.267 0.267 0.267 0.267 0.267 0.267 0.267 0.267 0.267 0.267 0.267 0.267 0.267 0.267 0.267 0.267 0.267 0.267 0.267 0.267 0.267 0.267 0.267 0.267 0.267 0.267 0.267 0.267 0.267 0.267 0.267 0.267 0.267 0.267 0.267 0.267 0.267 0.267 0.267 0.267 0.267 0.267 0.267 0.267 0.267 0.267 0.269 0.271 0.274 0.276 0.278 0.279 0.280 0.281 0.282 0.283 0.283 0.283 0.283 0.282 0.281 0.280 0.280 0.278 0.276 0.274 0.272 0.269 0.267 0.264 0.261 0.257 0.254 0.252 0.249 0.245 0.241 0.237 0.234 0.230 0.226 0.222 0.218 0.214 0.212 0.209 0.205 0.201 0.198 0.194 0.191 0.187 0.184 0.181 0.177 0.176 0.173 0.170 0.167 0.164 0.161 0.158 0.155 0.152 0.149 0.146 0.145 0.142 0.139 0.136 0.134 0.131 0.129 0.126 0.124 0.123 0.121 0.121 0.120 0.119 0.120 0.121 0.122 0.125 0.128 0.132 0.137 0.140 0.147 0.154 0.162 0.171 0.181 0.191 0.202"/><feFuncG type="table" tableValues="0.005 0.005 0.005 0.005 0.005 0.005 0.005 0.005 0.005 0.005 0.005 0.005 0.005 0.005 0.005 0.005 0.005 0.005 0.005 0.005 0.005 0.005 0.005 0.005 0.005 0.005 0.005 0.005 0.005 0.005 0.005 0.005 0.005 0.005 0.005 0.005 0.005 0.005 0.005 0.005 0.005 0.005 0.005 0.005 0.005 0.005 0.005 0.005 0.005 0.005 0.005 0.005 0.010 0.020 0.031 0.044 0.056 0.062 0.073 0.084 0.095 0.105 0.116 0.126 0.136 0.146 0.156 0.166 0.171 0.180 0.190 0.200 0.209 0.219 0.228 0.238 0.247 0.256 0.265 0.270 0.279 0.288 0.296 0.305 0.314 0.322 0.331 0.339 0.347 0.356 0.360 0.368 0.376 0.384 0.392 0.399 0.407 0.415 0.422 0.430 0.438 0.441 0.449 0.456 0.464 0.471 0.479 0.486 0.493 0.501 0.508 0.515 0.519 0.526 0.534 0.541 0.549 0.556 0.563 0.571 0.578 0.585 0.593 0.596 0.604 0.611 0.618 0.626 0.633 0.640 0.648 0.655 0.662 0.666 0.673 0.680 0.687 0.694 0.701 0.708 0.715"/><feFuncB type="table" tableValues="0.329 0.329 0.329 0.329 0.329 0.329 0.329 0.329 0.329 0.329 0.329 0.329 0.329 0.329 0.329 0.329 0.329 0.329 0.329 0.329 0.329 0.329 0.329 0.329 0.329 0.329 0.329 0.329 0.329 0.329 0.329 0.329 0.329 0.329 0.329 0.329 0.329 0.329 0.329 0.329 0.329 0.329 0.329 0.329 0.329 0.329 0.329 0.329 0.329 0.329 0.329 0.329 0.335 0.347 0.359 0.370 0.381 0.387 0.397 0.407 0.417 0.427 0.436 0.445 0.453 0.462 0.469 0.476 0.480 0.487 0.493 0.499 0.504 0.510 0.514 0.519 0.523 0.527 0.530 0.532 0.535 0.537 0.540 0.542 0.544 0.546 0.547 0.549 0.550 0.551 0.552 0.553 0.554 0.554 0.555 0.556 0.556 0.557 0.557 0.557 0.558 0.558 0.558 0.558 0.558 0.558 0.558 0.558 0.558 0.558 0.557 0.557 0.557 0.556 0.555 0.554 0.554 0.552 0.551 0.550 0.548 0.547 0.545 0.544 0.541 0.539 0.536 0.533 0.530 0.527 0.523 0.520 0.516 0.513 0.509 0.504 0.499 0.494 0.488 0.482 0.476"/></feComponentTransfer>
</filter>
</defs>
<rect width="823" height="1603" fill="#fff"/>
<g shape-rendering="crispEdges" filter="url(#nz)">
<rect x="66.5" y="10.5" width="620.0" height="1540.0" fill="url(#g0)"/>
<rect x="66.5" y="1336.00" width="620.0" height="214.50" fill="url(#g1)"/>
<rect x="66.5" y="10.70" width="620.0" height="16.00" fill="url(#g2)"/>
<rect x="66.5" y="31.10" width="620.0" height="3.70" fill="url(#g2)"/>
<rect x="66.5" y="39.80" width="620.0" height="3.50" fill="url(#g2)"/>
<rect x="66.5" y="111.60" width="620.0" height="13.10" fill="url(#g2)"/>
<rect x="66.5" y="124.70" width="620.0" height="6.20" fill="url(#g3)"/>
<rect x="66.5" y="146.50" width="620.0" height="24.30" fill="url(#g2)"/>
<rect x="66.5" y="179.60" width="620.0" height="15.60" fill="url(#g2)"/>
<rect x="66.5" y="211.70" width="620.0" height="7.30" fill="url(#g4)"/>
<rect x="66.5" y="224.80" width="620.0" height="1.90" fill="url(#g5)"/>
<rect x="66.5" y="231.10" width="620.0" height="3.10" fill="url(#g6)"/>
<rect x="66.5" y="248.50" width="620.0" height="2.50" fill="url(#g2)"/>
<rect x="66.5" y="255.20" width="620.0" height="2.70" fill="url(#g2)"/>
<rect x="66.5" y="283.70" width="620.0" height="6.90" fill="url(#g7)"/>
<rect x="66.5" y="299.90" width="620.0" height="6.40" fill="url(#g2)"/>
<rect x="66.5" y="312.90" width="620.0" height="9.10" fill="url(#g2)"/>
<rect x="66.5" y="367.70" width="620.0" height="10.40" fill="url(#g8)"/>
<rect x="66.5" y="380.80" width="620.0" height="5.50" fill="url(#g2)"/>
<rect x="66.5" y="402.60" width="620.0" height="7.30" fill="url(#g9)"/>
<rect x="66.5" y="428.00" width="620.0" height="6.00" fill="url(#g2)"/>
<rect x="66.5" y="449.80" width="620.0" height="8.10" fill="url(#g2)"/>
<rect x="66.5" y="467.90" width="620.0" height="14.00" fill="url(#g2)"/>
<rect x="66.5" y="502.20" width="620.0" height="27.80" fill="url(#g8)"/>
<rect x="66.5" y="535.00" width="620.0" height="10.20" fill="url(#g2)"/>
<rect x="66.5" y="552.10" width="620.0" height="1.90" fill="url(#g10)"/>
<rect x="66.5" y="558.30" width="620.0" height="2.50" fill="url(#g11)"/>
<rect x="66.5" y="583.90" width="620.0" height="10.00" fill="url(#g7)"/>
<rect x="66.5" y="665.10" width="620.0" height="7.80" fill="url(#g12)"/>
<rect x="66.5" y="682.90" width="620.0" height="14.30" fill="url(#g10)"/>
<rect x="66.5" y="730.90" width="620.0" height="5.70" fill="url(#g13)"/>
<rect x="66.5" y="757.10" width="620.0" height="11.90" fill="url(#g2)"/>
<rect x="66.5" y="775.80" width="620.0" height="1.60" fill="url(#g10)"/>
<rect x="66.5" y="782.00" width="620.0" height="3.20" fill="url(#g2)"/>
<rect x="66.5" y="795.10" width="620.0" height="14.10" fill="url(#g2)"/>
<rect x="66.5" y="814.00" width="620.0" height="10.80" fill="url(#g2)"/>
<rect x="66.5" y="849.20" width="620.0" height="7.50" fill="url(#g7)"/>
<rect x="66.5" y="929.60" width="620.0" height="7.50" fill="url(#g14)"/>
<rect x="66.5" y="954.60" width="620.0" height="6.20" fill="url(#g10)"/>
<rect x="66.5" y="990.80" width="620.0" height="18.70" fill="url(#g15)"/>
<rect x="66.5" y="1014.90" width="620.0" height="2.30" fill="url(#g2)"/>
<rect x="66.5" y="1021.70" width="620.0" height="2.70" fill="url(#g10)"/>
<rect x="66.5" y="1041.70" width="620.0" height="6.80" fill="url(#g7)"/>
<rect x="66.5" y="1054.80" width="620.0" height="1.90" fill="url(#g16)"/>
<rect x="66.5" y="1061.00" width="620.0" height="3.10" fill="url(#g17)"/>
<rect x="66.5" y="1127.80" width="620.0" height="8.70" fill="url(#g7)"/>
<rect x="66.5" y="1144.00" width="620.0" height="7.50" fill="url(#g10)"/>
<rect x="66.5" y="1170.20" width="620.0" height="5.60" fill="url(#g10)"/>
<rect x="66.5" y="1175.80" width="620.0" height="2.70" fill="url(#g18)"/>
<rect x="66.5" y="1185.80" width="620.0" height="15.00" fill="url(#g7)"/>
<rect x="66.5" y="1229.80" width="620.0" height="18.10" fill="url(#g2)"/>
<rect x="66.5" y="1254.20" width="620.0" height="1.80" fill="url(#g10)"/>
<rect x="66.5" y="1261.00" width="620.0" height="3.10" fill="url(#g9)"/>
<rect x="66.5" y="1277.90" width="620.0" height="9.90" fill="url(#g2)"/>
<rect x="66.5" y="1291.60" width="620.0" height="4.40" fill="url(#g2)"/>
<rect x="66.5" y="1305.90" width="620.0" height="13.80" fill="url(#g2)"/>
<rect x="66.5" y="1330.30" width="620.0" height="5.60" fill="url(#g2)"/>
<rect x="66.5" y="1406.70" width="620.0" height="25.00" fill="url(#g7)"/>
<rect x="66.5" y="1436.00" width="620.0" height="3.20" fill="url(#g9)"/>
<rect x="66.5" y="1455.40" width="620.0" height="8.70" fill="url(#g10)"/>
<rect x="66.5" y="1472.90" width="620.0" height="7.60" fill="url(#g2)"/>
<rect x="66.5" y="1480.50" width="620.0" height="16.50" fill="url(#g11)"/>
<rect x="66.5" y="1497.00" width="620.0" height="6.60" fill="url(#g7)"/>
<rect x="66.5" y="1503.60" width="620.0" height="4.90" fill="url(#g19)"/>
<rect x="66.5" y="1508.50" width="620.0" height="3.80" fill="url(#g10)"/>
<rect x="66.5" y="1512.30" width="620.0" height="21.20" fill="url(#g19)"/>
<rect x="66.5" y="1517.80" width="620.0" height="1.90" fill="url(#g10)"/>
<rect x="66.5" y="1524.50" width="620.0" height="1.80" fill="url(#g9)"/>
<rect x="66.5" y="1533.50" width="620.0" height="2.50" fill="url(#g10)"/>
<rect x="66.5" y="1536.00" width="620.0" height="14.50" fill="url(#g11)"/>
<rect x="66.5" y="1542.50" width="620.0" height="1.50" fill="url(#g9)"/>
</g>
<rect x="724.5" y="10.5" width="31.0" height="1540.0" fill="url(#cb)"/>
<g stroke="#000" stroke-width="0.8" fill="none">
<path d="M61.24 1339.50H66.10"/>
<path d="M61.24 1126.50H66.10"/>
<path d="M61.24 913.50H66.10"/>
<path d="M61.24 700.50H66.10"/>
<path d="M61.24 487.50H66.10"/>
<path d="M61.24 274.50H66.10"/>
<path d="M61.24 61.50H66.10"/>
<path d="M117.50 1550.90V1555.76"/>
<path d="M247.50 1550.90V1555.76"/>
<path d="M376.50 1550.90V1555.76"/>
<path d="M505.50 1550.90V1555.76"/>
<path d="M635.50 1550.90V1555.76"/>
<path d="M755.90 1335.50H760.76"/>
<path d="M755.90 1105.50H760.76"/>
<path d="M755.90 876.50H760.76"/>
<path d="M755.90 646.50H760.76"/>
<path d="M755.90 417.50H760.76"/>
<path d="M755.90 187.50H760.76"/>
<rect x="66.5" y="10.5" width="620.0" height="1540.0"/>
<rect x="724.5" y="10.5" width="31.0" height="1540.0"/>
</g>
<g>
<text x="55.7" y="1344" text-anchor="end">50</text>
<text x="55.7" y="1131" text-anchor="end">100</text>
<text x="55.7" y="919" text-anchor="end">150</text>
<text x="55.7" y="706" text-anchor="end">200</text>
<text x="55.7" y="493" text-anchor="end">250</text>
<text x="55.7" y="280" text-anchor="end">300</text>
<text x="55.7" y="67" text-anchor="end">350</text>
<text x="117.50" y="1571.0" text-anchor="middle">−20</text>
<text x="247.50" y="1571.0" text-anchor="middle">−10</text>
<text x="376.50" y="1571.0" text-anchor="middle">0</text>
<text x="505.50" y="1571.0" text-anchor="middle">10</text>
<text x="635.50" y="1571.0" text-anchor="middle">20</text>
<text x="764.2" y="1341.00">−60</text>
<text x="764.2" y="1111.00">−50</text>
<text x="764.2" y="882.00">−40</text>
<text x="764.2" y="652.00">−30</text>
<text x="764.2" y="423.00">−20</text>
<text x="764.2" y="193.00">−10</text>
<text x="375.6" y="1590" text-anchor="middle">Frequency (kHz)</text>
<text transform="translate(21.2 780.7) rotate(-90)" text-anchor="middle">Time (seconds)</text>
<text transform="translate(810.0 780.3) rotate(-90)" text-anchor="middle">Power (dB)</text>
</g>
</svg>
</body></html>
